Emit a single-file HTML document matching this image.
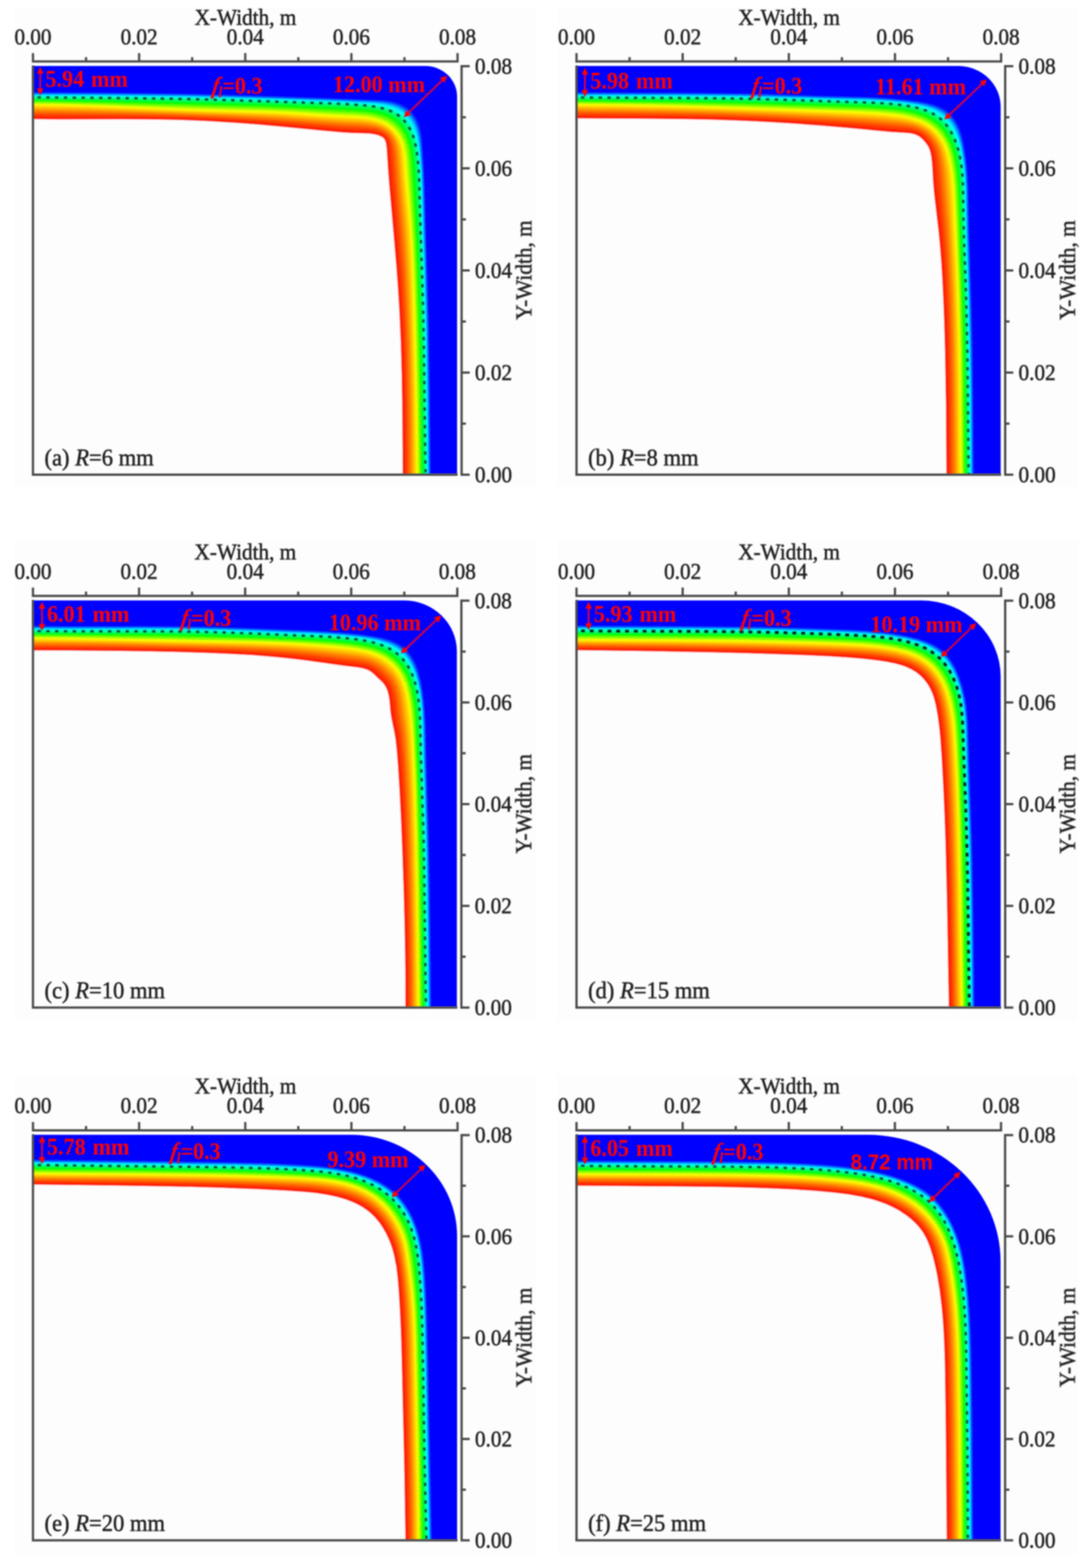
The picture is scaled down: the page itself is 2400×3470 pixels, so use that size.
<!DOCTYPE html>
<html lang="en"><head><meta charset="utf-8"><title>Solidified shell thickness for different corner radii</title>
<style>html,body{margin:0;padding:0;background:#fff}body{width:2400px;height:3470px;overflow:hidden}svg{display:block}text{white-space:pre}</style></head><body>
<svg width="2400" height="3470" viewBox="0 0 2400 3470">
<defs><filter id="bl" x="-5%" y="-5%" width="110%" height="110%" filterUnits="objectBoundingBox"><feGaussianBlur stdDeviation="1.6"/></filter>
<filter id="bt" x="-5%" y="-5%" width="110%" height="110%"><feGaussianBlur stdDeviation="1.5"/></filter>
<filter id="bd" x="-5%" y="-5%" width="110%" height="110%"><feGaussianBlur stdDeviation="1.7"/></filter></defs>
<rect width="2400" height="3470" fill="#ffffff"/>
<rect x="32" y="15" width="1156" height="1062" fill="#fdfdfd"/>
<rect x="1233" y="15" width="1153" height="1062" fill="#fdfdfd"/>
<rect x="32" y="1196" width="1156" height="1063" fill="#fdfdfd"/>
<rect x="1233" y="1196" width="1153" height="1063" fill="#fdfdfd"/>
<rect x="32" y="2378" width="1156" height="1062" fill="#fdfdfd"/>
<rect x="1233" y="2378" width="1153" height="1062" fill="#fdfdfd"/>
<g id="panel-a">
<clipPath id="ca"><path d="M73 146H941.6A70.4 67.8 0 0 1 1012 213.8V1049.6H73Z"/></clipPath>
<g filter="url(#bl)">
<path d="M73 146H941.6A70.4 67.8 0 0 1 1012 213.8V1049.6H73Z" fill="#0000ff"/>
<g clip-path="url(#ca)">
<path d="M65 204L65 203.7L90 203.8L247 204.8L340 206L425 207.5L570 211.5L701 215.9L782 219.1L838 220.8L851 221.6L862 222.9L872 224.9L880 227.1L888 230.2L895.5 234L902.9 239L908.7 244L913 248.5L916.6 253L920 258L922.9 263L925.7 269L928 274.9L931.4 287L933.6 299L935.1 313L939.2 380L940.9 421L943.2 506L948 659L949.9 731L952.1 866L954 1058L65 1058L65 204Z" fill="#0016ff"/>
<path d="M65 206L65 205.2L214 206L323 207.2L421 208.9L498 210.8L585 213.5L700 217.4L832 222.4L846 223.3L858 224.6L868 226.4L877 228.8L885.5 232L893.4 236L900 240.3L906.7 246L911 250.5L914.6 255L918 260L920.9 265L923.7 271L926 276.8L929.5 289L931.7 301L933.5 316L937.7 380L939.4 421L941.7 506L946.6 660L948.4 731L950.6 866L952.5 1058L65 1058L65 206Z" fill="#0042ff"/>
<path d="M65 207L65 206.7L96 206.8L251 207.8L345 209L431 210.6L512 212.7L608 215.7L714 219.4L824 223.8L840 224.8L852 226.1L863.7 228L873 230.3L882 233.5L890 237.4L897.3 242L904.5 248L908.3 252L912.4 257L915.8 262L918.7 267L923.6 278L925.7 284L927.5 291L930 303.8L931.8 319L936.2 381L937.9 421L940.2 506L945.1 660L946.9 731L949.1 866L951 1058L65 1058L65 207Z" fill="#0078ff"/>
<path d="M65 209L65 208.2L215 209L324 210.2L422 212L507 214.1L606 217.2L718 221.1L814 225.1L833 226.2L847 227.6L859 229.6L869 231.9L878.1 235L887 239.1L895 244.2L902 250L906 254.1L910 258.9L913.5 264L916.5 269L919.4 275L921.9 281L925.5 293L928.2 306L930.2 322L932.3 346L934.7 381L936.4 421L938.7 506L943.6 660L945.4 731L947.6 866L949.5 1058L65 1058L65 209Z" fill="#00aeff"/>
<path d="M65 210L65 209.7L96 209.8L251 210.8L344 212L430 213.6L517 215.9L620 219.1L723 222.8L807 226.4L826 227.6L841 229.1L854 231.1L865 233.6L875.3 237L884 241L892.1 246L900 252.6L904 256.7L907.6 261L911 265.8L914.1 271L919.3 282L921.5 288L923.5 295L926.3 308L928.7 325L931.1 352L933.2 381L934.9 421L937.2 506L942.1 660L943.9 731L946.1 866L948 1058L65 1058L65 210Z" fill="#00daff"/>
<path d="M65 212L65 211.2L214 212L323 213.2L421 214.9L509 217.1L609 220.3L721 224.2L800 227.7L820 228.9L836 230.6L850 232.7L862 235.6L872.3 239L882 243.5L890 248.6L897.7 255L902 259.5L905.7 264L912 273.6L914.8 279L917.4 285L920 292L921.7 298L924.6 311L927 327L929.5 352L931.7 381L933.4 421L935.7 506L940.5 659L942.4 731L944.6 866L946.5 1058L65 1058L65 212Z" fill="#00fff9"/>
<path d="M65 213L65 212.7L92 212.8L249 213.8L342 215L428 216.6L509 218.6L614 222L721 225.7L794 228.9L814 230.2L831 232L845 234.2L858 237.2L869.2 241L879 245.6L887.5 251L895.8 258L900 262.4L903.7 267L910 276.5L912.9 282L915.6 288L918 294.6L920 301.1L923 314.1L925.6 331L928 353L930.1 381L931.9 421L934.2 506L939 659L940.8 730L943.1 866L945 1058L65 1058L65 213Z" fill="#00ffcd"/>
<path d="M65 215L65 214.2L215 215L322 216.2L421 217.9L499 219.9L600.4 223L715.7 227L793 230.5L814 232L830 233.9L842.4 236L855 239.1L866.2 243L876 247.6L885 253.4L893 260.1L897 264.3L901 269L904.6 274L907.8 279L913.3 290L916 296.9L917.9 303L921.4 317L924.2 334L926.8 358L928.7 382L930.4 421L932.6 504L937.5 659L939.3 730L941.6 866L943.5 1058L65 1058L65 215Z" fill="#00ffa2"/>
<path d="M65 216L65 215.7L138 215.9L265 217L342 218L446 220L521 221.9L522 222.3L554 222.9L555 223.3L585 223.9L586 224.3L615 224.9L616 225.3L644 226L658 226.6L673 226.9L674 227.3L728 228.9L729 229.3L752 229.9L753 230.4L773 231L777 231.5L791 231.9L792 232.3L805 232.9L811 233.7L816 233.9L817 234.3L824.1 235L840.7 238L855 241.8L863.3 245L875 250.8L884 256.8L890 262.2L898.2 271L903 277.5L906 282.3L911 292L913 296.7L916 305.3L918.2 313L920 320.7L922.1 332L925 356L925.7 366L926.1 367L926.7 379L927.1 380L927.4 390L928 398L928.8 423L929 424L929.7 463L930.1 464L930.8 499L931.1 500L931.8 532L935 625L938.1 738L940 856L942.1 1058L65 1058L65 216Z" fill="#00ff76"/>
<path d="M65 218L65 217.7L116 218L235 219.1L337 220.7L439 222.9L532 225.4L618 228.1L712 231.8L789 235.3L809 236.8L824 238.6L838 241.1L850 244.3L861 248.2L871 253.1L880 259L888 265.8L892.1 270L896 274.7L899.9 280L903.1 285L908.6 296L911 302L913.3 309L916.8 323L919.3 338L921.6 358L923.5 383L925.6 424L930.6 568L933.1 646L934.9 713L937.6 862L939.6 1058L65 1058L65 218Z" fill="#00ff4a"/>
<path d="M65 220L65 219.7L126 220.1L235 221.6L345 223.7L481 227L561 229.3L628 231.6L789 238.8L808 240.2L823 242.1L836 244.5L848 247.6L859 251.6L869 256.5L877.3 262L885 268.5L889 272.6L893 277.3L896.5 282L900 287.5L905.4 298L910 310.6L913.3 324L915.8 339L917.9 358L919.9 384L922.3 429L926.7 533L929.6 616L931.9 694L933.7 773L935.1 857L937.3 1058L65 1058L65 220Z" fill="#00ff1f"/>
<path d="M65 222L65 221.7L128 222.2L228 223.8L326 226.1L533 231.5L639 235.1L790 242.4L807 243.7L822 245.5L835 248L846 250.9L857 255L866 259.4L874.6 265L882 271.2L886 275.3L890 279.9L893.7 285L896.9 290L900 295.6L902.5 301L906.9 313L909.9 325L912.4 340L914.3 358L916.3 385L919.5 440L923.5 523L926.4 596L928.8 673L930.9 759L932.6 851L933.9 949L934.9 1058L65 1058L65 222Z" fill="#11ff00"/>
<path d="M65 224L65 223.8L70 223.8L124 224.3L213 225.9L560 235.3L641 238.3L791 245.9L807 247.2L821 249L834 251.5L845 254.6L855 258.3L864.3 263L872 268L880 274.9L884 279L888.1 284L891.7 289L895 294.4L897.9 300L900.5 306L904.5 318L907.4 331L909.5 346L911 363L913.6 399L918.1 471L920.9 525L923.6 589L925.9 660L928.3 753L930.2 850L931.6 951L932.5 1058L65 1058L65 224Z" fill="#49ff00"/>
<path d="M65 226L74 225.8L120 226.3L200 227.9L424 234.7L575 238.8L642 241.5L733 246.7L791 249.4L807 250.7L820 252.5L832 254.8L843 257.9L853 261.7L862 266.2L870 271.6L877 277.6L882 282.8L886.2 288L890.2 294L893.6 300L896.5 306L899.2 313L901.3 320L903.1 328L905.1 340L906.8 356L914.5 464L917.5 513L920.1 566L922.3 625L924.4 697L926.5 785L928.1 875L929.4 966L930.2 1058L65 1058L65 226Z" fill="#81ff00"/>
<path d="M65 228L117 228.3L189 229.9L419 237.6L584 242.1L642 244.6L733 250.2L791 252.9L806 254.2L819 255.9L830 258.1L841 261.2L851 265L859 269.1L867 274.3L874 280.3L879 285.5L883.4 291L887.5 297L890.9 303L893.7 309L896.3 316L898.3 323L900.1 331L901.7 341L903 354L913 485L915.7 530L918.1 580L920.1 636L922.2 710L924.3 799L925.9 886L927.1 973L927.8 1058L65 1058L65 228Z" fill="#b9ff00"/>
<path d="M65 230L115 230.4L181 231.9L243 234L416 240.6L592 245.4L641 247.6L732 253.6L792 256.5L807 257.8L819 259.5L830 261.8L840 264.8L849 268.3L857.9 273L865 277.9L872 284L876.7 289L880.7 294L884.8 300L888 305.8L890.9 312L893.1 318L895.3 326L896.8 333L898.2 342L899.3 353L902.5 397L908.6 467L911.2 501L913.8 544L916 592L917.8 645L920 724.2L922.1 812L923.7 897L924.8 979L925.4 1058L65 1058L65 230Z" fill="#f0ff00"/>
<path d="M65 232L82 232L140 232.9L176 234L256 236.9L279 237.9L280 238.1L302 238.8L303 239.2L326 239.8L327 240.2L349 240.8L350 241.2L373 241.8L374 242.2L399 242.8L400 243.1L428 243.8L429 244.2L578 247.9L579 248.1L605 248.9L645 250.9L646 251.2L674 252.8L675 253.2L701 254.9L702 255.2L715 255.8L716 256.2L730 256.8L731 257.2L792 259.9L793 260.2L803 260.9L818 262.9L827 264.8L840 268.7L847 271.6L855 275.8L862 280.6L868.4 286L873.2 291L878.3 297L882.2 303L885.4 309L888.1 315L891.2 324L894.1 338L895.1 346L895.8 357L896.1 358L897.9 387L903.8 451L904.1 452L904.8 461L905.1 462L907.8 496L908.1 497L908.7 509L909.1 510L912 561L914 607L916.1 670L917.8 744L918.1 745L921.1 883L922 946L923.1 1058L65 1058L65 232Z" fill="#ffee00"/>
<path d="M65 234L119 234.5L184 236.2L247 238.4L416.4 245L586 250.1L644 252.9L736 259.5L793 262.3L806 263.4L818 265.1L828 267.2L838 270.1L847 273.7L854 277.4L861 282.1L867.9 288L872.6 293L876.5 298L879.8 303L883.1 309L885.8 315L887.9 321L889.5 327L891.1 335L893.1 351L896.2 395L903.8 475L907 517L909.6 559L911.8 608L913.8 665L916.1 748L919.4 906L920.5 983L921.1 1058L65 1058L65 234Z" fill="#ffdc00"/>
<path d="M65 236L126 236.7L198 238.5L418 246.5L575 251.4L634 254.3L733 261.5L794 264.6L807 265.7L818 267.2L828 269.2L837 271.8L845 274.9L853 278.9L860 283.5L866.4 289L870.2 293L874.3 298L877.6 303L880.9 309L883.5 315L885.6 321L887.4 328L888.7 335L890.5 350L893.9 397L901.4 477L904.9 521L907.5 565L909.8 614L912 675L914.2 753L917.4 904L919.1 1058L65 1058L65 236Z" fill="#ffca00"/>
<path d="M65 238L149 239.2L246 241.8L552 252.3L599 254.3L640 256.7L734 263.7L797 267L816 269L824 270.4L831 272.1L838 274.2L844 276.5L850 279.3L855 282.2L860 285.7L865 290.1L869 294.3L872.7 299L876 304L878.6 309L881.2 315L883.2 321L885 328L886.3 335L888.1 350L891.4 396L899.1 479L902.8 527L905.5 572L907.9 623L910.2 686L912.4 758L914.1 830L915.4 903L917.1 1058L65 1058L65 238Z" fill="#ffb900"/>
<path d="M65 241L65 240L115 240.6L180 241.8L251 243.7L531 253.2L584 255.4L629 257.9L736 266L799 269.4L816 271.1L824 272.5L831 274.1L838 276.2L844 278.5L850 281.4L855 284.3L860 288L864 291.5L868 295.8L871.2 300L874.3 305L876.9 310L879.3 316L881.2 322L883.9 335L885.7 351L889.9 407L897.2 486L900.9 535L903.7 582L906.1 633L908.5 696L910.6 764L912.2 832L913.5 903L915.1 1058L65 1058L65 241Z" fill="#ffa700"/>
<path d="M65 243L65 242.1L128 242.8L200 244.2L280 246.2L510 254L567 256.4L615 259L654 261.7L733 268L757 269.5L798 271.5L815 273.1L823 274.4L830 275.9L836 277.6L842 279.7L848 282.4L853 285.2L858 288.6L862 292L865.8 296L869 300L872.1 305L874.7 310L877.1 316L878.9 322L881.6 335L883.3 351L887.3 406L895.1 490L899 542L901.9 590L904.3 642L906.7 704L908.7 768L910.3 833L911.5 902L913.1 1058L65 1058L65 243Z" fill="#ff9500"/>
<path d="M65 245L65 244.1L140 245L221 246.5L307 248.6L397 251.4L493 254.9L552 257.4L603 260.2L650 263.4L736 270.3L759 271.8L800 273.9L816 275.4L830 277.9L836 279.6L842 281.7L848 284.4L852.6 287L857 290.1L861 293.5L864.4 297L867.4 301L870 305L872.5 310L874.8 316L876.6 322L879.2 335L880.8 351L884.9 406L893 495L897.3 553L900.2 601L902.7 654L905 713L906.9 774L908.4 836L909.5 903L911.1 1058L65 1058L65 245Z" fill="#ff8400"/>
<path d="M65 247L65 246.1L150 247.1L239 248.6L325 250.7L401 253L477 255.7L537 258.4L589 261.2L644 264.9L739 272.7L763 274.3L801 276.1L816 277.5L830 280L836 281.6L842 283.8L847 286L852 288.8L856 291.5L860 294.9L863 298.1L865.9 302L868.3 306L870.7 311L872.9 317L874.6 323L876.9 336L878.3 350L882.4 405L891 501L895.8 566L898.6 615L901.1 667L903.3 722L905.1 780L907.6 903L909.1 1058L65 1058L65 247Z" fill="#ff7500"/>
<path d="M65 249L65 248.2L157 249.2L249 250.6L332 252.4L398 254.3L461 256.6L519 259.1L571 261.9L637 266.4L743 275.2L767 276.7L803 278.4L816 279.6L829 281.8L835 283.3L841 285.4L846 287.5L851 290.2L855 293L858.6 296L861.4 299L864.4 303L866.7 307L868.6 311L870.4 316L872.1 322L874.4 335L875.9 350L880 406L889.1 507L894.2 578L897.1 627L899.5 678L901.6 730L903.3 785L905.6 904L907.1 1058L65 1058L65 249Z" fill="#ff6600"/>
<path d="M65 251L65 250.2L164 251.2L257 252.4L334 253.9L391 255.5L445 257.4L499 259.7L550 262.4L628 267.7L747 277.7L771 279.2L804 280.7L816 281.7L829 283.8L840 287L845 289.1L850 291.7L854 294.4L857.1 297L860 300L862.2 303L864.6 307L866.4 311L868.2 316L869.8 322L872 335L873.4 349L877.5 406L887.2 515L892.8 592L895.6 640L897.9 689L899.9 739L901.5 791L903.7 905L905.1 1058L65 1058L65 251Z" fill="#ff5700"/>
<path d="M65 253L65 252.2L238 253.9L334 255.5L386 256.8L435 258.4L484 260.5L531 263L576 265.8L620 269L750 280.1L774 281.6L805 282.9L816 283.8L829 285.8L840 289L845 291.1L849 293.2L853 295.8L856 298.4L858.5 301L860.7 304L863 308L864.7 312L867.8 323L869.7 335L875 405L885.6 525L891.6 610L894.2 656L896.4 702L898.2 749L899.7 799L901.7 907L903.1 1058L65 1058L65 253Z" fill="#ff4700"/>
<path d="M65 255L65 254.3L250 255.8L333 256.9L381 258.1L426 259.5L470 261.3L514 263.6L562 266.6L610 270.1L752 282.4L777 284L807 285.2L817 286L829 287.9L835 289.4L840 291L844 292.6L848.6 295L852 297.3L855 299.8L857.1 302L859.3 305L860.9 308L862.6 312L864.2 317L865.5 323L867.3 335L872.5 405L884.1 537L887.5 583L890.5 628L893 672L894.9 715L897.9 807L899.8 910L901.1 1058L65 1058L65 255Z" fill="#ff3a00"/>
<path d="M65 257L65 256.3L261 257.6L331 258.4L417 260.6L457 262.2L497 264.2L548 267.4L601 271.3L754 284.8L776 286.2L806 287.3L817 288L829 289.9L839 292.6L847 296.2L851 298.7L853.7 301L856 303.5L857.8 306L859.3 309L860.9 313L863.3 323L864.9 334L870.2 406L882.7 549L886.2 597L889.2 643L893.3 725L896.2 814L897.8 912L899.1 1058L65 1058L65 257Z" fill="#ff3000"/>
<path d="M65 259L65 258.4L129 258.9L270 259.3L330 259.9L410 261.8L446 263.1L483 264.9L536 268.2L591 272.4L757 287.2L778 288.5L807 289.5L818 290.2L829 291.9L838 294.3L846 297.6L849.8 300L852.2 302L854.1 304L856.3 307L858.8 313L860.9 322L862.4 333L867.7 406L877 510.3L881.3 562L884.9 610L887.8 656L891.7 734L894.3 820L895.9 913L897 1058L65 1058L65 259Z" fill="#ff2600"/>
<path d="M65 261L65 260.4L125 260.9L265 261L329 261.4L405 263L473 265.9L525 269.1L582 273.4L757 289.4L779 290.8L808 291.7L819 292.4L829 293.9L838 296.2L845 299.1L848 300.9L851 303.2L854.2 307L856.5 312L858.3 319L859.9 331L865.4 408L875.3 519L880 576L883.6 624L886.5 669L890.1 744L892.5 826L893.9 915L895 1058L65 1058L65 261Z" fill="#ff1d00"/>
<path d="M65 265L65 264L131 264.5L267 264.3L324 264.5L397 265.8L430 266.9L463 268.4L516 271.7L570 275.8L619 280.2L720.3 290L759 293.4L781 294.8L809 295.4L819 296L829 297.5L837 299.6L844 302.4L847 304.3L849 305.9L851.4 309L853.5 314L854.9 321L855.9 329L858.8 374L861.5 409L872.4 532L877.4 592L880.8 638L883.6 683L886.9 754L889.1 832L890.4 916L891.4 1058L65 1058L65 265Z" fill="#fdfdfd"/>
</g></g>
<g filter="url(#bd)" clip-path="url(#ca)"><path d="M72.9 215.5L76.9 215.5L80.9 215.5L84.9 215.6L89 215.6L93 215.6L97 215.7L101 215.7L105 215.7L109 215.7L113 215.8L117.1 215.8L121.1 215.8L125.1 215.9L129.1 215.9L133.1 215.9L137.1 216L141.1 216L145.1 216L149.1 216.1L153.1 216.1L157.1 216.1L161.2 216.2L165.2 216.2L169.2 216.2L173.2 216.2L177.2 216.3L181.2 216.3L185.2 216.3L189.2 216.4L193.2 216.4L197.2 216.4L201.2 216.5L205.2 216.5L209.2 216.5L213.2 216.6L217.2 216.6L221.2 216.6L225.2 216.7L229.2 216.7L233.2 216.7L237.2 216.8L241.2 216.8L245.2 216.9L249.2 216.9L253.2 216.9L257.2 217L261.2 217L265.2 217.1L269.2 217.1L273.2 217.1L277.2 217.2L281.2 217.2L285.2 217.3L289.2 217.3L293.2 217.4L297.2 217.4L301.2 217.4L305.2 217.5L309.2 217.5L313.2 217.6L317.2 217.6L321.2 217.7L325.2 217.7L329.2 217.8L333.2 217.9L337.2 217.9L341.2 218L345.2 218L349.2 218.1L353.2 218.1L357.2 218.2L361.2 218.3L365.2 218.3L369.2 218.4L373.2 218.5L377.2 218.5L381.2 218.6L385.2 218.7L389.2 218.7L393.2 218.8L397.2 218.9L401.2 219L405.2 219L409.2 219.1L413.2 219.2L417.2 219.3L421.2 219.4L425.2 219.5L429.2 219.5L433.2 219.6L437.3 219.7L441.3 219.8L445.3 219.9L449.3 220L453.3 220.1L457.3 220.2L461.3 220.3L465.3 220.4L469.3 220.5L473.3 220.6L477.3 220.7L481.3 220.8L485.4 220.9L489.4 221L493.4 221.1L497.4 221.3L501.4 221.4L505.4 221.5L509.4 221.6L513.4 221.7L517.5 221.9L521.5 222L525.5 222.1L529.5 222.2L533.5 222.4L537.5 222.5L541.5 222.6L545.5 222.8L549.6 222.9L553.6 223L557.6 223.2L561.6 223.3L565.6 223.4L569.6 223.6L573.6 223.7L577.6 223.8L581.6 224L585.6 224.1L589.6 224.2L593.6 224.4L597.7 224.5L601.7 224.7L605.7 224.8L609.7 224.9L613.7 225.1L617.7 225.2L621.6 225.3L625.6 225.5L629.6 225.6L633.6 225.7L637.6 225.9L641.6 226L645.6 226.1L649.6 226.3L653.6 226.4L657.5 226.5L661.5 226.7L665.5 226.8L669.5 226.9L673.4 227.1L677.4 227.2L681.4 227.3L685.3 227.4L689.3 227.5L693.3 227.7L697.2 227.8L701.2 227.9L705.1 228L709.1 228.1L713.1 228.3L717 228.4L721 228.5L725 228.6L728.9 228.8L732.9 228.9L736.9 229.1L740.9 229.2L744.9 229.4L748.9 229.6L752.9 229.7L757 229.9L761 230.1L765 230.3L769.1 230.5L773.2 230.8L777.3 231L781.4 231.3L785.5 231.5L789.6 231.8L793.8 232.1L797.9 232.4L802.1 232.8L806.2 233.1L810.4 233.5L814.6 234L818.7 234.5L822.8 235L826.9 235.6L831 236.3L835 237L839 237.8L842.9 238.7L846.8 239.7L850.7 240.8L854.5 241.9L858.2 243.2L861.8 244.5L865.4 246L868.8 247.6L872.2 249.3L875.5 251.2L878.7 253.1L881.8 255.3L884.8 257.5L887.7 259.9L890.5 262.4L893.1 265.1L895.7 267.9L898.1 270.8L900.4 273.8L902.6 276.9L904.7 280.2L906.7 283.5L908.5 286.9L910.3 290.4L911.9 294L913.4 297.7L914.7 301.4L916 305.2L917.2 309L918.2 312.9L919.2 316.9L920.1 320.9L920.9 324.9L921.6 328.9L922.3 333L922.9 337L923.5 341.1L924 345.2L924.5 349.2L924.9 353.3L925.4 357.4L925.8 361.4L926.1 365.5L926.4 369.5L926.8 373.5L927 377.6L927.3 381.6L927.5 385.6L927.7 389.6L927.9 393.6L928.1 397.7L928.3 401.7L928.4 405.7L928.5 409.7L928.6 413.7L928.8 417.7L928.9 421.7L929 425.7L929.1 429.7L929.1 433.7L929.2 437.7L929.3 441.7L929.4 445.7L929.5 449.7L929.6 453.7L929.7 457.7L929.8 461.7L929.9 465.7L930 469.6L930.1 473.6L930.2 477.6L930.3 481.6L930.4 485.6L930.6 489.6L930.7 493.6L930.8 497.6L930.9 501.6L931 505.6L931.2 509.6L931.3 513.6L931.4 517.6L931.6 521.6L931.7 525.6L931.8 529.6L932 533.6L932.1 537.6L932.3 541.6L932.4 545.6L932.5 549.6L932.7 553.6L932.8 557.6L933 561.6L933.1 565.6L933.2 569.6L933.4 573.6L933.5 577.6L933.7 581.6L933.8 585.6L934 589.6L934.1 593.6L934.2 597.6L934.4 601.6L934.5 605.6L934.6 609.6L934.8 613.6L934.9 617.6L935 621.6L935.2 625.6L935.3 629.6L935.4 633.6L935.6 637.6L935.7 641.6L935.8 645.6L935.9 649.6L936 653.6L936.1 657.6L936.3 661.6L936.4 665.6L936.5 669.6L936.6 673.6L936.7 677.6L936.8 681.6L936.9 685.6L937 689.7L937.1 693.7L937.2 697.7L937.3 701.7L937.3 705.7L937.4 709.7L937.5 713.7L937.6 717.7L937.7 721.7L937.8 725.7L937.8 729.7L937.9 733.7L938 737.7L938.1 741.7L938.1 745.7L938.2 749.7L938.3 753.7L938.4 757.7L938.4 761.7L938.5 765.7L938.6 769.7L938.6 773.7L938.7 777.7L938.7 781.7L938.8 785.7L938.9 789.7L938.9 793.8L939 797.8L939 801.8L939.1 805.8L939.1 809.8L939.2 813.8L939.3 817.8L939.3 821.8L939.4 825.8L939.4 829.8L939.5 833.8L939.5 837.8L939.6 841.8L939.6 845.8L939.7 849.8L939.7 853.8L939.8 857.8L939.8 861.8L939.8 865.8L939.9 869.8L939.9 873.8L940 877.8L940 881.8L940.1 885.9L940.1 889.9L940.2 893.9L940.2 897.9L940.3 901.9L940.3 905.9L940.4 909.9L940.4 913.9L940.4 917.9L940.5 921.9L940.5 925.9L940.6 929.9L940.6 933.9L940.7 937.9L940.7 941.9L940.8 945.9L940.8 949.9L940.9 953.9L940.9 957.9L941 961.9L941 965.9L941.1 969.9L941.1 973.9L941.2 977.9L941.2 981.9L941.3 985.9L941.3 989.9L941.4 993.9L941.4 997.9L941.5 1002L941.6 1006L941.6 1010L941.7 1014L941.7 1018L941.8 1022L941.9 1026L941.9 1030L942 1034L942.1 1038L942.1 1042L942.2 1046L942.3 1050" fill="none" stroke="#005248" stroke-width="5.4" stroke-dasharray="7.5 12" stroke-dashoffset="-10"/></g>
<g filter="url(#bt)">
<path d="M89 160L89 199" stroke="#d8003a" stroke-width="4.2" fill="none"/><path d="M89 148L96.5 163L81.5 163ZM89 211L81.5 196L96.5 196Z" fill="#ff0000"/>
<path d="M902.7 251.2L981.3 175.8" stroke="#d8003a" stroke-width="4.2" fill="none"/><path d="M894 259.5L899.6 243.7L910 254.5ZM990 167.5L984.4 183.3L974 172.5Z" fill="#ff0000"/>
</g>
<g filter="url(#bt)">
<path d="M70.5 136.1H1015.5M73 145V1050.4H1013M1022 144.1V1052.9M73 136.1V117.6M1022 146.6H1040M190.5 136.1V126.6M1022 259.6H1031.5M308 136.1V117.6M1022 372.5H1040M425.5 136.1V126.6M1022 485.5H1031.5M543 136.1V117.6M1022 598.5H1040M660.5 136.1V126.6M1022 711.5H1031.5M778 136.1V117.6M1022 824.4H1040M895.5 136.1V126.6M1022 937.4H1031.5M1013 136.1V117.6M1022 1050.4H1040" fill="none" stroke="#4a4a4a" stroke-width="5.0"/>
<g font-family="'Liberation Serif', 'Times New Roman', Times, serif" font-size="47" fill="#242424" stroke="#242424" stroke-width="1.0">
<text transform="translate(543.5 55) scale(1 1.07)" text-anchor="middle">X-Width, m</text>
<text transform="translate(73 98) scale(1 1.07)" text-anchor="middle">0.00</text>
<text transform="translate(1051.5 163.1) scale(1 1.07)">0.08</text>
<text transform="translate(308 98) scale(1 1.07)" text-anchor="middle">0.02</text>
<text transform="translate(1051.5 389) scale(1 1.07)">0.06</text>
<text transform="translate(543 98) scale(1 1.07)" text-anchor="middle">0.04</text>
<text transform="translate(1051.5 615) scale(1 1.07)">0.04</text>
<text transform="translate(778 98) scale(1 1.07)" text-anchor="middle">0.06</text>
<text transform="translate(1051.5 840.9) scale(1 1.07)">0.02</text>
<text transform="translate(1013 98) scale(1 1.07)" text-anchor="middle">0.08</text>
<text transform="translate(1051.5 1066.9) scale(1 1.07)">0.00</text>
<text transform="translate(1176.5 597.8) rotate(-90) scale(1 1.07)" text-anchor="middle">Y-Width, m</text>
<text transform="translate(98.5 1029.6) scale(1 1.07)" font-size="50">(a) <tspan font-style="italic">R</tspan>=6 mm</text>
</g>
<g font-family="'Liberation Serif', 'Times New Roman', Times, serif" font-size="49" font-weight="bold" fill="#ff0000">
<text transform="translate(100.5 192) scale(1 1.09)" word-spacing="3">5.94 mm</text>
<text transform="translate(467.5 206.5) skewX(-9) scale(1 1.09)" font-style="italic">f</text>
<text transform="translate(483.5 215) scale(1 1.09)" font-style="italic" font-size="31.4">l</text>
<text transform="translate(492 206.5) scale(1 1.09)">=0.3</text>
<text transform="translate(737 203.5) scale(1 1.09)">12.00 mm</text>
</g>
</g>
</g>
<g id="panel-b">
<clipPath id="cb"><path d="M1276.4 146H2121.6A93.9 90.4 0 0 1 2215.5 236.4V1049.6H1276.4Z"/></clipPath>
<g filter="url(#bl)">
<path d="M1276.4 146H2121.6A93.9 90.4 0 0 1 2215.5 236.4V1049.6H1276.4Z" fill="#0000ff"/>
<g clip-path="url(#cb)">
<path d="M1268.4 204L1510.4 204.8L1618.4 205.9L1700.4 207.9L1833.4 212.2L1915.4 214.3L1947.4 215.7L1977.4 217.9L2012.4 221.4L2038.4 224.7L2056.4 228L2070.8 232L2077.4 234.5L2083.4 237.1L2088.8 240L2094.4 243.6L2099 247L2103.5 251L2107.4 255L2111.6 260L2115.4 265.3L2118.8 271L2121.9 277L2124.5 283L2127.1 290L2129.4 297.6L2133.7 316L2137.4 338.6L2140.8 366L2143 391L2144.2 419L2146.1 511L2151.1 667L2153.1 747L2155 868L2156.5 1058L1268.4 1058L1268.4 204Z" fill="#0016ff"/>
<path d="M1268.4 206L1268.4 205.4L1484.4 206.2L1553.4 206.6L1613.4 207.4L1698.4 209.3L1833.4 213.7L1915.4 215.8L1947.4 217.2L1977.4 219.4L2010.4 222.8L2035.4 226.1L2054.4 229.8L2062.4 231.8L2069.3 234L2075.4 236.3L2081.5 239L2087 242L2092.4 245.4L2097.2 249L2101.7 253L2105.6 257L2109.4 261.5L2113.4 267L2116.5 272L2119.4 277.5L2122.4 284.1L2125.1 291L2127.4 298.3L2131.8 316L2135.6 338L2139.2 365L2141.4 390.1L2142.8 420L2144.6 511L2149.6 667L2151.6 747L2153.5 868L2155 1058L1268.4 1058L1268.4 206Z" fill="#0042ff"/>
<path d="M1268.4 207L1510.4 207.8L1618.4 208.9L1700.4 210.9L1833.4 215.2L1915.4 217.3L1947.4 218.7L1977.4 220.9L2007.1 224L2032.4 227.5L2051.4 231.3L2066.4 235.5L2073 238L2079.4 240.9L2085.1 244L2090.4 247.4L2095.2 251L2099.7 255L2104.4 259.8L2108.4 264.7L2112.1 270L2115.4 275.4L2118.4 281.2L2121.4 288L2126.2 302L2130.5 319L2134.4 340.8L2137.7 366L2139.9 391L2141.3 420L2143.1 511L2148.1 667L2150.1 747L2152 868L2153.5 1058L1268.4 1058L1268.4 207Z" fill="#0078ff"/>
<path d="M1268.4 209L1268.4 208.4L1484.4 209.2L1553.4 209.6L1613.4 210.4L1699.4 212.4L1832.4 216.7L1915.4 218.8L1947.4 220.2L1977.4 222.4L2006.4 225.6L2030.4 229.1L2049.4 233L2064.4 237.4L2071.1 240L2077.4 242.9L2083.1 246L2087.8 249L2093.1 253L2097.6 257L2101.6 261L2105.8 266L2109.5 271L2113.2 277L2116.4 283L2119.4 289.5L2124.4 303.4L2129 321L2132.9 342L2136.3 367L2138.4 391L2139.8 420L2141.6 511L2146.6 667L2148.6 747L2150.5 868L2152 1058L1268.4 1058L1268.4 209Z" fill="#00aeff"/>
<path d="M1268.4 210L1510.4 210.8L1619.4 212L1701.4 213.9L1832.4 218.2L1915.4 220.3L1949.4 221.8L1977.4 224L2005.4 227.1L2028.4 230.6L2047.4 234.7L2062.4 239.3L2069.1 242L2075.5 245L2081.4 248.3L2086.9 252L2092.1 256L2096.4 259.9L2101.2 265L2105.2 270L2108.7 275L2112.3 281L2115.4 286.9L2118.4 293.5L2123.4 307.6L2127.7 324L2131.7 345L2134.9 368L2136.9 391L2138.3 420L2140.1 511L2145.1 667L2147.1 747L2149 868L2150.5 1058L1268.4 1058L1268.4 210Z" fill="#00daff"/>
<path d="M1268.4 212L1268.4 211.4L1485.4 212.2L1554.4 212.6L1614.4 213.4L1699.4 215.4L1832.4 219.7L1915.4 221.8L1948.4 223.3L1976.4 225.4L2003.4 228.4L2025.4 231.9L2043.4 235.9L2051.4 238.2L2059.4 240.9L2066.4 243.7L2072.4 246.6L2078.4 249.9L2083.4 253.1L2088.5 257L2093.4 261.3L2098 266L2102.2 271L2105.9 276L2109.4 281.5L2112.5 287L2115.9 294L2118.8 301L2121.4 308.5L2126 325L2129.9 344L2133.1 366L2135.3 390L2136.8 420L2138.6 511L2143.6 667L2145.6 746L2147.5 868L2149 1058L1268.4 1058L1268.4 212Z" fill="#00fff9"/>
<path d="M1268.4 213L1511.4 213.8L1620.4 215L1688.4 216.5L1832.4 221.2L1912.4 223.2L1950.4 224.9L1978.4 227.1L2002.9 230L2023.4 233.4L2041.4 237.6L2056.4 242.4L2062.7 245L2069.4 248.2L2075.4 251.5L2080.8 255L2086.1 259L2091.4 263.7L2096.4 268.8L2100.4 273.6L2104.4 279L2108.4 285.3L2112.1 292L2114.9 298L2120.3 312L2124.8 328L2128.7 347L2131.8 368L2133.9 391L2135.3 420L2137.1 511L2142.1 666L2144.1 746L2145.9 868L2147.5 1058L1268.4 1058L1268.4 213Z" fill="#00ffcd"/>
<path d="M1268.4 215L1268.4 214.4L1485.4 215.2L1555.4 215.6L1615.4 216.4L1702.4 218.4L1831.4 222.6L1916.4 224.9L1951.4 226.5L1976.4 228.5L2002.4 231.6L2022.1 235L2039.4 239.3L2048.1 242L2056 245L2068.4 250.8L2074.4 254.4L2079.4 257.7L2084.4 261.6L2089.4 266.1L2094.2 271L2098.4 275.9L2102.4 281.3L2106.4 287.4L2109.6 293L2113.4 300.7L2119 315L2123.6 331L2127.4 349.1L2130.4 369.7L2132.4 391L2133.8 420L2135.6 512L2140.6 666L2142.6 746L2144.4 867L2146 1058L1268.4 1058L1268.4 215Z" fill="#00ffa2"/>
<path d="M1268.4 216L1541.4 217L1621.4 218L1703.4 220L1842.4 224.6L1903.4 225.9L1904.4 226.3L1932.4 226.9L1933.4 227.3L1951.4 227.9L1952.4 228.3L1964.4 228.9L1993.4 231.9L2012.4 234.9L2022.4 236.9L2034.4 239.9L2046.4 243.9L2056.4 247.9L2062.4 250.8L2074.4 257.8L2082.4 263.8L2086.9 268L2091.4 272.6L2096.4 278.3L2101.6 285L2104.4 289.5L2107.7 295L2111.4 302.3L2114.5 309L2117.5 317L2121.5 330L2123 337L2123.5 338L2125.1 347L2125.5 348L2126 352L2126.5 353L2127.1 359L2127.5 360L2128.1 366L2128.5 367L2130.4 385L2131.4 400L2132.5 426L2133.1 482L2133.5 483L2134.1 521L2134.5 522L2135.1 554L2135.5 555L2136.2 584L2136.5 585L2137.2 613L2137.5 614L2138.5 644L2141.4 761.2L2142.4 823L2143.3 914L2143.5 915L2144.5 1058L1268.4 1058L1268.4 216Z" fill="#00ff76"/>
<path d="M1268.4 218L1499.4 219.1L1619.4 220.6L1691.4 222.4L1832.4 227L1907.4 229L1950.4 231L1976.4 233.1L1998.4 235.8L2017.4 239.2L2034.4 243.4L2049.4 248.6L2062.4 254.7L2068.4 258.2L2074.4 262.2L2079.4 266.1L2085 271L2089.8 276L2094.1 281L2098.4 286.7L2102 292L2105.5 298L2109.1 305L2114.4 318L2119.3 334L2123.2 352L2126.1 372L2128.1 393L2129.7 424L2131.6 509L2136.7 662L2138.7 740L2140.7 865L2142.3 1058L1268.4 1058L1268.4 218Z" fill="#00ff4a"/>
<path d="M1268.4 220L1485.4 221.4L1616.4 223.3L1693.4 225.2L1903.4 231.9L1948.4 233.9L1974.4 236.1L1997.4 238.9L2016.4 242.2L2032.4 246.3L2047.4 251.5L2060.4 257.5L2066.4 261L2072.3 265L2077.4 269L2082.4 273.4L2086.9 278L2091.4 283.2L2095.8 289L2099.8 295L2106.4 307.1L2112.1 321L2116.6 336L2120.4 353.9L2123.4 374L2125.5 396L2127.1 429L2129.1 506L2134.3 657L2136.4 735L2138.4 861L2140.1 1058L1268.4 1058L1268.4 220Z" fill="#00ff1f"/>
<path d="M1268.4 222L1469.4 223.6L1613.4 225.9L1696.4 228.1L1897.4 234.6L1924.4 235.6L1947.4 236.9L1973.4 239.1L1995.4 241.7L2014.4 245.1L2030.4 249.1L2045.4 254.3L2052.4 257.4L2058.4 260.4L2064.6 264L2070.4 267.9L2075.4 271.9L2080.4 276.3L2084.9 281L2089.4 286.2L2093.4 291.5L2097.4 297.5L2101.1 304L2104.1 310L2107.1 317L2109.7 324L2114.3 340L2117.9 357L2120.8 377L2122.9 400L2124.6 434L2126.9 513L2132.2 661L2134.1 731L2136.2 859L2137.9 1058L1268.4 1058L1268.4 222Z" fill="#11ff00"/>
<path d="M1268.4 224L1452.4 225.7L1533.4 226.9L1607.4 228.4L1698.4 230.9L1891.4 237.3L1921.4 238.5L1945.4 239.9L1971.4 242L1993.4 244.6L2012.4 248L2028.5 252L2043.4 257.1L2050.4 260.2L2056.4 263.2L2062.4 266.7L2067.4 270.1L2072.5 274L2078.1 279L2083 284L2087.2 289L2091.4 294.6L2094.9 300L2101.4 312L2104.4 319L2107 326L2111.6 342L2115.1 359L2118.1 380L2120.3 403L2122.2 440L2124.5 511L2129.6 652L2131.7 727L2133.9 856L2135.7 1058L1268.4 1058L1268.4 224Z" fill="#49ff00"/>
<path d="M1268.4 226L1343.4 226.5L1437.4 227.7L1520.4 229.1L1601.4 230.9L1702.4 233.8L1884.4 239.9L1917.4 241.3L1944.4 242.8L1971.4 245.1L1993.4 247.8L2011.4 251L2027.4 255.1L2035.4 257.7L2042.4 260.4L2049.4 263.5L2055.4 266.6L2061.1 270L2066.4 273.7L2071.4 277.7L2076.2 282L2081 287L2085.2 292L2089.4 297.7L2092.8 303L2096.2 309L2099.4 315.5L2104.7 329L2108.9 344L2112.6 362L2115.5 383L2117.8 407L2119.6 441L2126.1 617L2129.4 724L2131.7 854L2133.5 1058L1268.4 1058L1268.4 226Z" fill="#81ff00"/>
<path d="M1268.4 228L1334.4 228.5L1421.4 229.7L1504.4 231.3L1589.4 233.3L1705.4 236.7L1873.4 242.4L1911.4 243.9L1941.4 245.7L1969.4 248L1990.4 250.5L2008.4 253.7L2024.4 257.6L2039.4 262.8L2046.4 265.8L2052.4 268.9L2058.4 272.4L2063.6 276L2068.4 279.7L2073.4 284.2L2078.1 289L2082.4 294.1L2086.8 300L2090.4 305.5L2094 312L2096.9 318L2102 331L2106.2 346L2109.8 364L2112.9 386L2115.2 410L2117.2 445L2123.3 603L2125.5 665L2127.1 721L2128.4 783L2129.4 852L2131.3 1058L1268.4 1058L1268.4 228Z" fill="#b9ff00"/>
<path d="M1268.4 230L1328.4 230.5L1409.4 231.7L1489.4 233.3L1575.4 235.5L1699.4 239.3L1863.4 244.9L1907.4 246.7L1940.4 248.7L1967.4 250.9L1989.4 253.6L2007.4 256.7L2023.4 260.7L2037.4 265.6L2044.4 268.7L2050.4 271.7L2056.4 275.3L2061.4 278.7L2066.4 282.6L2071.4 287.1L2076.1 292L2080.3 297L2084.4 302.5L2088.4 308.7L2094.4 320.3L2099.6 334L2104 350L2107.5 368L2110.6 391L2112.8 415L2114.8 450L2120.6 594L2123.1 661L2124.8 719L2126.1 781L2127.2 850L2129.1 1058L1268.4 1058L1268.4 230Z" fill="#f0ff00"/>
<path d="M1268.4 232L1363.4 232.9L1417.4 234L1570.4 237.9L1727.4 242.9L1728.4 243.2L1757.4 243.8L1758.4 244.2L1786.4 244.8L1787.4 245.2L1814.4 245.9L1815.4 246.2L1869.4 247.9L1870.4 248.2L1893.4 248.9L1913.8 250L1943.4 251.9L1944.4 252.2L1966.4 253.8L1967.4 254.2L1983.4 255.9L1990.9 257L2002.4 258.8L2007.4 260.2L2011.4 260.8L2025.4 264.7L2031.4 266.8L2040.4 270.6L2045.4 272.8L2052.4 276.8L2058.7 281L2063.4 284.7L2069.2 290L2077.6 299L2082.7 306L2086.5 312L2092.6 324L2097.6 338L2101.5 353L2104.4 368L2107.4 389L2109.2 407L2109.5 408L2110.1 419L2110.5 420L2111.1 434L2111.5 435L2112.1 453L2112.5 454L2113.1 476L2113.5 477L2114.1 500L2114.5 501L2115.1 523L2115.5 524L2116.2 547L2116.5 548L2117.2 571L2117.5 572L2118.5 596L2122.4 714.3L2124.4 812L2125.4 888L2126.8 1058L1268.4 1058L1268.4 232Z" fill="#ffee00"/>
<path d="M1268.4 234L1318.4 234.3L1400.4 235.5L1481.4 237.3L1568.4 239.6L1687.4 243.4L1804.4 247.6L1887.4 251L1933.4 253.6L1962.4 256L1986.4 258.7L2005.4 261.8L2020.4 265.4L2033.4 269.7L2039.4 272.2L2046.4 275.7L2052.4 279.1L2057.4 282.6L2062.4 286.5L2067.4 291L2072.2 296L2076.4 301L2080.4 306.4L2084 312L2087.2 318L2090.1 324L2094.8 337L2099 353L2102.3 371L2105.3 394L2107.7 421L2110 459L2115.4 575.2L2118.3 648L2120.3 712L2121.8 777L2122.9 848L2124.9 1058L1268.4 1058L1268.4 234Z" fill="#ffdc00"/>
<path d="M1268.4 236L1268.4 235.7L1313.4 236.1L1405.4 237.4L1490.4 239.2L1578.4 241.6L1680.4 244.9L1786.4 248.9L1880.4 252.9L1928.4 255.6L1960.4 258.2L1984.4 260.8L2003.4 263.7L2018.4 267L2032.4 271.4L2038.4 273.9L2044.8 277L2050.4 280.2L2055.4 283.5L2060.4 287.4L2065.4 291.9L2070.3 297L2074.4 301.8L2081.5 312L2084.8 318L2087.4 323.5L2090 330L2092.4 337L2096.2 352L2099.6 371L2102.6 395L2105.2 424L2107.8 467L2113.1 572L2116 642L2118.1 708L2119.7 774L2120.9 847L2122.9 1058L1268.4 1058L1268.4 236Z" fill="#ffca00"/>
<path d="M1268.4 238L1268.4 237.6L1306.4 238L1410.4 239.4L1498.4 241.2L1586.4 243.5L1678.4 246.6L1774.4 250.3L1874.4 254.8L1923.4 257.6L1953.6 260L1982.4 262.9L2002.4 265.8L2017.4 268.9L2031.4 273.2L2037.4 275.6L2043.4 278.4L2049.4 281.9L2054.1 285L2059.2 289L2063.6 293L2068.4 298L2072.4 302.7L2076.4 308L2079.6 313L2082.9 319L2085.6 325L2090.2 338L2093.9 353L2097.1 372L2100 397L2102.7 427L2106.6 490L2110.7 569L2113.8 639L2116 705L2117.7 772L2118.9 846L2120.9 1058L1268.4 1058L1268.4 238Z" fill="#ffb900"/>
<path d="M1268.4 240L1268.4 239.6L1296.4 239.8L1413.4 241.3L1503.4 243L1590.4 245.4L1674.4 248.2L1762.4 251.7L1864.4 256.5L1917.4 259.6L1949.4 262L1980.4 265.1L2001.4 267.9L2016.4 270.8L2023.4 272.6L2030.4 274.9L2036.4 277.3L2042.2 280L2047.4 282.9L2052.4 286.2L2057.3 290L2061.7 294L2066.4 298.8L2070.4 303.5L2074.4 308.9L2077.7 314L2080.9 320L2083.6 326L2088.1 339L2091.6 354L2094.6 373L2097.6 400L2100.3 433L2104.7 500L2108.6 569L2111.6 636L2113.9 703L2115.6 771L2116.9 846L2118.9 1058L1268.4 1058L1268.4 240Z" fill="#ffa700"/>
<path d="M1268.4 242L1268.4 241.5L1281.4 241.6L1416.4 243.1L1506.4 244.9L1592.4 247.1L1671.4 249.8L1752.4 253.2L1845.4 257.7L1909.4 261.3L1943.4 263.9L1977.4 267.2L2000.4 270L2015.4 272.7L2028.4 276.3L2034.4 278.5L2040.4 281.2L2045.4 284L2050.4 287.2L2055.3 291L2059.8 295L2064.4 299.7L2068.9 305L2072.6 310L2076.4 316L2079.5 322L2082 328L2086.2 341L2089.6 357L2092.3 376L2095.3 405L2098.4 443L2102.9 509L2106.5 572L2109.5 637L2111.9 704L2113.6 772L2114.9 848L2116.8 1058L1268.4 1058L1268.4 242Z" fill="#ff9500"/>
<path d="M1268.4 244L1268.4 243.4L1417.4 245L1508.4 246.6L1592.4 248.8L1666.4 251.4L1742.4 254.6L1826.4 258.8L1899.7 263L1936.4 265.7L1971.4 269L1998.4 272L2014.4 274.6L2027.4 278L2033.4 280.2L2039.4 282.9L2044.4 285.6L2049.4 288.9L2057.9 296L2062.8 301L2067.8 307L2071.4 312L2075 318L2078 324L2080.4 330L2082.7 337L2084.7 345L2087.7 361L2090.3 382L2093.9 422L2097.8 471L2101.9 530L2105.2 589L2108 650L2110.2 715L2111.8 782L2113.1 856L2114.8 1058L1268.4 1058L1268.4 244Z" fill="#ff8400"/>
<path d="M1268.4 246L1268.4 245.3L1417.4 246.8L1508.4 248.4L1591.4 250.5L1661.4 252.9L1734.4 256L1811.6 260L1888.4 264.5L1926.4 267.3L1960.4 270.3L1997.4 274.1L2013.4 276.5L2026.4 279.8L2032.4 281.9L2037.4 284.1L2042.4 286.7L2047.4 289.9L2051.5 293L2056.4 297.3L2061.8 303L2066.4 308.6L2070.2 314L2073.6 320L2076.4 326L2079 333L2081.1 340L2082.9 348L2085.4 363L2087.7 383L2092.8 441L2097.5 500L2101.1 553L2104 608L2106.5 666L2108.5 729L2110 794L2111.2 865L2112.8 1058L1268.4 1058L1268.4 246Z" fill="#ff7500"/>
<path d="M1268.4 248L1268.4 247.2L1415.4 248.6L1505.4 250.1L1586.4 252L1652.4 254.3L1720.4 257.2L1792.4 260.9L1867.4 265.4L1907.4 268.2L1941.4 270.9L1995.4 276.2L2011.4 278.3L2024.4 281.2L2030.4 283.2L2035.4 285.3L2040.4 287.8L2045.4 290.9L2049.6 294L2054.4 298.2L2059.4 303.4L2064.4 309.4L2068.3 315L2071.7 321L2074.5 327L2076.6 333L2078.7 340L2080.6 349L2082.9 363L2084.7 380L2096.2 515L2099.6 565L2102.4 618L2104.8 675L2106.7 737L2108.2 801L2109.3 870L2110.8 1058L1268.4 1058L1268.4 248Z" fill="#ff6600"/>
<path d="M1268.4 250L1268.4 249.1L1402.4 250.3L1492.4 251.6L1571.4 253.3L1634.4 255.3L1695.4 257.8L1760.4 261.1L1828.4 265.1L1882.4 268.6L1922.4 271.7L1995.4 278.5L2009.4 280.1L2016.4 281.4L2023.4 283L2029.4 284.9L2034.4 287L2039.4 289.5L2043.6 292L2047.7 295L2052.4 299.1L2057.2 304L2062.2 310L2066.4 316L2069.3 321L2072.1 327L2074.3 333L2076.2 340L2078.2 349L2080 361L2081.7 376L2091.9 491L2094.7 526L2097.9 574L2100.7 626L2102.9 681L2104.8 743L2106.3 806L2107.3 875L2108.8 1058L1268.4 1058L1268.4 250Z" fill="#ff5700"/>
<path d="M1268.4 252L1268.4 251.1L1390.4 252L1483.4 253.2L1561.4 254.8L1621.4 256.6L1678.4 258.8L1739.4 261.8L1802.4 265.5L1864.4 269.6L1910.4 273L1998.4 281.1L2009.4 282.3L2022.4 284.8L2028.4 286.7L2033.4 288.6L2038.4 291.1L2043 294L2047.4 297.3L2051.4 300.9L2056.2 306L2061.1 312L2064.5 317L2067.4 322L2070.1 328L2072.2 334L2074.1 341L2075.7 349L2077.4 360L2078.7 372L2082.7 420L2090.2 500L2093.4 540L2096.5 586L2099 636L2101.2 691L2103 752L2104.4 814L2105.4 881L2106.8 1058L1268.4 1058L1268.4 252Z" fill="#ff4700"/>
<path d="M1268.4 253L1450.4 254.5L1567.4 256.6L1621.4 258.3L1672.4 260.3L1726.4 262.9L1782.4 266.2L1843.4 270.3L1898.4 274.4L2009.4 284.5L2016.4 285.6L2022.4 286.9L2027.4 288.4L2032.4 290.3L2037.4 292.8L2041.4 295.2L2045.4 298.2L2049.4 301.8L2054.3 307L2059.2 313L2062.7 318L2065.5 323L2067.8 328L2069.9 334L2071.7 341L2073.3 349L2075.8 369L2079.5 416L2087.8 500L2091.8 548L2094.7 593L2097.2 642L2099.3 696L2101.1 756L2102.5 817L2103.5 884L2104.8 1058L1268.4 1058L1268.4 253Z" fill="#ff3a00"/>
<path d="M1268.4 255L1445.4 256.2L1558.4 258.1L1609.4 259.5L1658.4 261.4L1708.4 263.8L1760.4 266.8L1820.4 270.7L1882.4 275.4L2010.4 286.7L2022.4 289L2027.4 290.5L2032.4 292.4L2036.4 294.4L2040.4 296.9L2047.7 303L2052.5 308L2057.3 314L2060.8 319L2063.4 323.6L2065.8 329L2067.5 334L2069.1 340L2070.7 348L2072.9 366L2076.9 418L2085.8 504L2090.1 556L2093 600L2095.4 648L2097.5 702L2099.3 762L2100.5 822L2101.5 888L2102.8 1058L1268.4 1058L1268.4 255Z" fill="#ff3000"/>
<path d="M1268.4 257L1441.4 258L1550.4 259.6L1600.4 261L1646.4 262.6L1693.4 264.8L1741.4 267.5L1800.4 271.3L1862.6 276L1914.4 280.4L1973.4 286L2010.4 288.8L2021.4 290.8L2026.4 292.2L2031.2 294L2038.5 298L2042.4 300.9L2045.9 304L2049.7 308L2054.7 314L2058.3 319L2061.2 324L2063.4 329L2065.2 334L2066.7 340L2068.1 347L2070.4 366L2072.7 401L2074.4 421L2083.5 506L2088.4 563L2091.2 606L2093.5 653L2095.6 708L2097.4 767L2098.6 827L2099.6 892L2100.7 1058L1268.4 1058L1268.4 257Z" fill="#ff2600"/>
<path d="M1268.4 259L1268.4 258.7L1436.4 259.8L1543.4 261.2L1591.4 262.4L1635.4 263.9L1679.4 265.8L1724.4 268.3L1781.4 272L1839.4 276.3L1902.4 281.6L1972.4 288.3L2010.7 291L2020.4 292.6L2029.4 295.3L2033.4 297.2L2037.4 299.6L2044 305L2047.9 309L2052.8 315L2056.4 320L2058.8 324L2061.1 329L2062.8 334L2064.4 340L2065.7 347L2067.7 365L2069.9 400L2071.5 420L2081.6 511L2084.4 540.6L2086.6 569L2089.3 611L2091.6 657L2093.7 712L2095.4 771L2096.7 830L2097.6 895L2098.7 1058L1268.4 1058L1268.4 259Z" fill="#ff1d00"/>
<path d="M1268.4 263L1268.4 262.2L1447.4 263.3L1530.4 264.3L1578.4 265.3L1622.4 266.7L1664.4 268.4L1708.4 270.7L1764.4 274.3L1820.4 278.5L1890.4 284.4L1970.4 292.2L2011.4 294.8L2020.4 296.3L2028.4 298.7L2035.4 302.5L2041.4 307.4L2045.4 311.7L2049.8 317L2053.3 322L2055.6 326L2057.4 330L2059.1 335L2061.7 347L2063.5 364L2065.5 399L2067.1 420L2069.5 442L2077.9 513L2080.9 545L2083.6 579L2086.1 619L2088.3 665L2090.4 720L2092 778L2094.1 900L2095.1 1058L1268.4 1058L1268.4 263Z" fill="#fdfdfd"/>
</g></g>
<g filter="url(#bd)" clip-path="url(#cb)"><path d="M1276.3 215.7L1280.3 215.8L1284.3 215.8L1288.3 215.8L1292.4 215.9L1296.4 215.9L1300.4 215.9L1304.4 216L1308.4 216L1312.4 216L1316.4 216L1320.4 216.1L1324.4 216.1L1328.4 216.1L1332.4 216.1L1336.5 216.2L1340.5 216.2L1344.5 216.2L1348.5 216.2L1352.5 216.3L1356.5 216.3L1360.5 216.3L1364.5 216.3L1368.5 216.3L1372.5 216.3L1376.5 216.4L1380.5 216.4L1384.5 216.4L1388.5 216.4L1392.5 216.4L1396.5 216.4L1400.5 216.4L1404.5 216.5L1408.5 216.5L1412.5 216.5L1416.5 216.5L1420.5 216.5L1424.5 216.5L1428.5 216.5L1432.5 216.6L1436.5 216.6L1440.5 216.6L1444.5 216.6L1448.5 216.6L1452.5 216.6L1456.5 216.6L1460.5 216.7L1464.5 216.7L1468.5 216.7L1472.5 216.7L1476.5 216.7L1480.5 216.7L1484.5 216.8L1488.5 216.8L1492.5 216.8L1496.5 216.8L1500.5 216.8L1504.5 216.9L1508.5 216.9L1512.5 216.9L1516.5 216.9L1520.5 217L1524.5 217L1528.5 217L1532.5 217L1536.5 217.1L1540.5 217.1L1544.5 217.1L1548.5 217.2L1552.5 217.2L1556.5 217.2L1560.5 217.3L1564.4 217.3L1568.4 217.3L1572.4 217.4L1576.4 217.4L1580.4 217.5L1584.4 217.5L1588.4 217.6L1592.4 217.6L1596.4 217.7L1600.4 217.7L1604.4 217.8L1608.4 217.8L1612.4 217.9L1616.4 218L1620.4 218L1624.5 218.1L1628.5 218.2L1632.5 218.2L1636.5 218.3L1640.5 218.4L1644.5 218.4L1648.5 218.5L1652.5 218.6L1656.5 218.7L1660.5 218.8L1664.5 218.9L1668.5 219L1672.5 219L1676.5 219.1L1680.5 219.2L1684.5 219.3L1688.5 219.4L1692.5 219.5L1696.5 219.7L1700.6 219.8L1704.6 219.9L1708.6 220L1712.6 220.1L1716.6 220.2L1720.6 220.3L1724.6 220.5L1728.6 220.6L1732.6 220.7L1736.6 220.8L1740.6 221L1744.7 221.1L1748.7 221.2L1752.7 221.4L1756.7 221.5L1760.7 221.6L1764.7 221.8L1768.7 221.9L1772.7 222L1776.7 222.2L1780.7 222.3L1784.7 222.5L1788.7 222.6L1792.7 222.7L1796.7 222.9L1800.7 223L1804.7 223.1L1808.7 223.3L1812.7 223.4L1816.7 223.6L1820.7 223.7L1824.7 223.8L1828.7 224L1832.7 224.1L1836.7 224.2L1840.7 224.4L1844.6 224.5L1848.6 224.6L1852.6 224.8L1856.6 224.9L1860.6 225L1864.6 225.1L1868.5 225.3L1872.5 225.4L1876.5 225.5L1880.5 225.6L1884.4 225.7L1888.4 225.9L1892.4 226L1896.3 226.1L1900.3 226.2L1904.3 226.3L1908.2 226.4L1912.2 226.6L1916.2 226.7L1920.1 226.8L1924.1 227L1928.1 227.1L1932.1 227.3L1936 227.5L1940 227.7L1944 227.9L1948 228.1L1952 228.4L1956.1 228.6L1960.1 228.9L1964.1 229.2L1968.1 229.5L1972.2 229.9L1976.2 230.2L1980.3 230.6L1984.4 231.1L1988.5 231.5L1992.6 232L1996.7 232.5L2000.8 233.1L2004.9 233.7L2009 234.3L2013.1 235L2017.2 235.7L2021.2 236.5L2025.2 237.4L2029.2 238.3L2033.2 239.3L2037.1 240.4L2041 241.6L2044.8 242.8L2048.6 244.1L2052.3 245.5L2055.9 247L2059.5 248.6L2063 250.3L2066.4 252.1L2069.7 254L2072.9 256L2076.1 258.2L2079.1 260.5L2082.1 262.8L2084.9 265.4L2087.6 268L2090.3 270.7L2092.8 273.6L2095.2 276.5L2097.6 279.6L2099.8 282.8L2102 286L2104 289.3L2106 292.7L2107.9 296.2L2109.7 299.7L2111.4 303.3L2113 307L2114.5 310.7L2116 314.5L2117.4 318.3L2118.7 322.2L2119.9 326.1L2121.1 330L2122.2 333.9L2123.2 337.9L2124.2 341.9L2125 345.8L2125.9 349.8L2126.6 353.8L2127.3 357.8L2127.9 361.8L2128.5 365.8L2129.1 369.8L2129.5 373.8L2130 377.8L2130.4 381.8L2130.7 385.8L2131 389.8L2131.3 393.8L2131.5 397.8L2131.7 401.9L2131.9 405.9L2132 409.9L2132.2 413.9L2132.3 417.9L2132.4 421.9L2132.4 425.9L2132.5 429.9L2132.6 433.9L2132.6 437.9L2132.6 441.9L2132.7 445.9L2132.7 449.9L2132.8 453.9L2132.8 457.9L2132.9 461.9L2133 465.9L2133 469.9L2133.1 473.9L2133.2 477.9L2133.3 481.9L2133.3 485.9L2133.4 489.9L2133.5 493.9L2133.6 497.9L2133.7 501.9L2133.8 505.9L2134 509.9L2134.1 513.9L2134.2 517.9L2134.3 521.9L2134.4 525.9L2134.6 529.9L2134.7 533.9L2134.8 537.9L2134.9 541.9L2135.1 545.9L2135.2 549.9L2135.4 553.9L2135.5 557.9L2135.6 561.9L2135.8 565.9L2135.9 569.9L2136.1 573.9L2136.2 577.9L2136.4 581.9L2136.5 585.9L2136.6 589.9L2136.8 593.9L2136.9 597.9L2137.1 601.9L2137.2 605.9L2137.4 609.9L2137.5 613.9L2137.7 617.9L2137.8 621.9L2137.9 625.9L2138.1 629.9L2138.2 633.9L2138.3 637.9L2138.5 641.9L2138.6 645.9L2138.7 649.9L2138.9 653.9L2139 657.9L2139.1 661.9L2139.2 665.9L2139.3 669.9L2139.4 673.9L2139.6 677.9L2139.7 681.9L2139.8 685.9L2139.9 689.9L2140 693.9L2140.1 697.9L2140.2 701.9L2140.3 705.9L2140.4 709.9L2140.4 713.9L2140.5 717.9L2140.6 721.9L2140.7 725.9L2140.8 729.9L2140.9 733.9L2141 737.9L2141 741.9L2141.1 745.9L2141.2 749.9L2141.3 753.9L2141.3 757.9L2141.4 761.9L2141.5 765.9L2141.5 769.9L2141.6 773.9L2141.7 777.9L2141.7 781.9L2141.8 785.9L2141.8 789.9L2141.9 793.9L2142 797.9L2142 801.9L2142.1 805.9L2142.1 809.9L2142.2 813.9L2142.2 817.9L2142.3 821.9L2142.3 825.9L2142.4 829.9L2142.4 833.9L2142.5 837.9L2142.5 841.9L2142.6 845.9L2142.6 849.9L2142.6 853.9L2142.7 857.9L2142.7 861.9L2142.8 865.9L2142.8 869.9L2142.9 873.9L2142.9 877.9L2142.9 881.9L2143 885.9L2143 889.9L2143.1 894L2143.1 898L2143.1 902L2143.2 906L2143.2 910L2143.3 914L2143.3 918L2143.3 922L2143.4 926L2143.4 930L2143.4 934L2143.5 938L2143.5 942L2143.6 946L2143.6 950L2143.6 954L2143.7 958L2143.7 962L2143.8 966L2143.8 970L2143.8 974L2143.9 978L2143.9 982L2144 986L2144 990L2144.1 994L2144.1 998L2144.1 1002L2144.2 1006L2144.2 1010L2144.3 1014L2144.3 1018L2144.4 1022L2144.4 1026L2144.5 1030L2144.5 1034L2144.6 1038L2144.7 1042L2144.7 1046L2144.8 1050" fill="none" stroke="#005248" stroke-width="5.4" stroke-dasharray="7.5 12" stroke-dashoffset="-10"/></g>
<g filter="url(#bt)">
<path d="M1295 162L1295 202.5" stroke="#d8003a" stroke-width="4.2" fill="none"/><path d="M1295 150L1302.5 165L1287.5 165ZM1295 214.5L1287.5 199.5L1302.5 199.5Z" fill="#ff0000"/>
<path d="M2099.6 256.4L2176.2 183.7" stroke="#d8003a" stroke-width="4.2" fill="none"/><path d="M2090.9 264.7L2096.6 248.9L2106.9 259.8ZM2184.9 175.4L2179.2 191.2L2168.9 180.3Z" fill="#ff0000"/>
</g>
<g filter="url(#bt)">
<path d="M1273.9 136.1H2219M1276.4 145V1050.4H2216.5M2225.5 144.1V1052.9M1276.4 136.1V117.6M2225.5 146.6H2243.5M1393.9 136.1V126.6M2225.5 259.6H2235M1511.4 136.1V117.6M2225.5 372.5H2243.5M1628.9 136.1V126.6M2225.5 485.5H2235M1746.5 136.1V117.6M2225.5 598.5H2243.5M1864 136.1V126.6M2225.5 711.5H2235M1981.5 136.1V117.6M2225.5 824.4H2243.5M2099 136.1V126.6M2225.5 937.4H2235M2216.5 136.1V117.6M2225.5 1050.4H2243.5" fill="none" stroke="#4a4a4a" stroke-width="5.0"/>
<g font-family="'Liberation Serif', 'Times New Roman', Times, serif" font-size="47" fill="#242424" stroke="#242424" stroke-width="1.0">
<text transform="translate(1747 55) scale(1 1.07)" text-anchor="middle">X-Width, m</text>
<text transform="translate(1276.4 98) scale(1 1.07)" text-anchor="middle">0.00</text>
<text transform="translate(2255 163.1) scale(1 1.07)">0.08</text>
<text transform="translate(1511.4 98) scale(1 1.07)" text-anchor="middle">0.02</text>
<text transform="translate(2255 389) scale(1 1.07)">0.06</text>
<text transform="translate(1746.5 98) scale(1 1.07)" text-anchor="middle">0.04</text>
<text transform="translate(2255 615) scale(1 1.07)">0.04</text>
<text transform="translate(1981.5 98) scale(1 1.07)" text-anchor="middle">0.06</text>
<text transform="translate(2255 840.9) scale(1 1.07)">0.02</text>
<text transform="translate(2216.5 98) scale(1 1.07)" text-anchor="middle">0.08</text>
<text transform="translate(2255 1066.9) scale(1 1.07)">0.00</text>
<text transform="translate(2380 597.8) rotate(-90) scale(1 1.07)" text-anchor="middle">Y-Width, m</text>
<text transform="translate(1301.9 1029.6) scale(1 1.07)" font-size="50">(b) <tspan font-style="italic">R</tspan>=8 mm</text>
</g>
<g font-family="'Liberation Serif', 'Times New Roman', Times, serif" font-size="49" font-weight="bold" fill="#ff0000">
<text transform="translate(1307 196) scale(1 1.09)" word-spacing="3">5.98 mm</text>
<text transform="translate(1662.6 206.8) skewX(-9) scale(1 1.09)" font-style="italic">f</text>
<text transform="translate(1678.6 215.3) scale(1 1.09)" font-style="italic" font-size="31.4">l</text>
<text transform="translate(1687.1 206.8) scale(1 1.09)">=0.3</text>
<text transform="translate(1937.4 209) scale(1 1.09)">11.61 mm</text>
</g>
</g>
</g>
<g id="panel-c">
<clipPath id="cc"><path d="M73 1328.7H894.2A117.3 112.5 0 0 1 1011.5 1441.2V2229H73Z"/></clipPath>
<g filter="url(#bl)">
<path d="M73 1328.7H894.2A117.3 112.5 0 0 1 1011.5 1441.2V2229H73Z" fill="#0000ff"/>
<g clip-path="url(#cc)">
<path d="M65 1385.7L65 1384.8L142 1385.2L298 1385.1L368 1385.4L428 1386.1L486 1387.5L551 1389.6L682 1395L725 1397.2L760 1399.8L797 1403.4L825 1407.2L846 1411.1L855 1413.3L862.9 1415.7L870 1418.3L876 1421L882 1424.1L888 1427.8L894 1432.3L898.9 1436.7L903.7 1441.7L907.8 1446.7L911.4 1451.7L915 1457.5L921 1469.7L923.8 1476.7L926.4 1484.7L931.4 1503.7L935.5 1525.7L938.9 1549.7L941.1 1573.7L942.6 1604.7L944.4 1683.7L949 1829.7L950.8 1899.7L952.5 2003.7L955.2 2237.7L65 2237.7L65 1385.7Z" fill="#0016ff"/>
<path d="M65 1386.7L65 1386.3L141 1386.7L318 1386.6L379 1387L433 1387.7L491 1389.1L556 1391.3L684 1396.6L727 1398.8L762 1401.4L798 1405.1L825 1408.9L845 1412.8L861 1417.3L868 1419.9L875 1423L881 1426.2L887 1430.1L892 1433.8L897.5 1438.7L902 1443.4L906 1448.2L910 1453.8L913.7 1459.7L917 1466L920 1472.7L925 1486.5L930 1505.5L934.1 1526.7L937.4 1549.7L939.6 1573.7L941.1 1604.7L942.9 1683.7L947.5 1829.7L949.3 1899.7L951 2003.7L953.7 2237.7L65 2237.7L65 1386.7Z" fill="#0042ff"/>
<path d="M65 1388.7L65 1387.8L142 1388.2L298 1388.1L368 1388.4L429 1389.2L488 1390.5L553 1392.7L683 1398L727 1400.3L762 1403L796 1406.5L822 1410.1L843 1414.3L859 1418.9L866.5 1421.7L873.2 1424.7L879 1427.8L885.1 1431.7L890.4 1435.7L896 1440.7L900.8 1445.7L904.9 1450.7L908.5 1455.7L912 1461.4L918.2 1473.7L921 1480.8L923.7 1488.7L928.5 1506.7L932.7 1527.7L935.9 1550.7L938.1 1573.7L939.6 1604.7L941.4 1683.7L946 1829.7L947.8 1899.7L949.5 2002.7L952.2 2237.7L65 2237.7L65 1388.7Z" fill="#0078ff"/>
<path d="M65 1389.7L65 1389.3L141 1389.7L319 1389.6L380 1390L434 1390.8L493 1392.2L558 1394.4L685 1399.6L728 1401.9L762 1404.5L796 1408L821 1411.7L840.7 1415.7L850 1418.2L857.7 1420.7L865 1423.5L871.9 1426.7L878 1430.1L883.6 1433.7L889 1437.8L894 1442.3L898.3 1446.7L902.5 1451.7L906.2 1456.7L910.1 1462.7L913.4 1468.7L916.7 1475.7L922 1489.7L927 1507.7L931.1 1527.7L934.3 1549.7L936.6 1573.7L938.1 1604.7L939.9 1683.7L944.5 1829.7L946.2 1898.7L948 2002.7L950.7 2237.7L65 2237.7L65 1389.7Z" fill="#00aeff"/>
<path d="M65 1391.7L65 1390.8L142 1391.2L299 1391.1L369 1391.4L430 1392.2L488 1393.5L555 1395.8L683 1401.1L728 1403.4L762 1406L794 1409.3L818 1412.9L838 1417L854 1421.7L861.9 1424.7L869 1427.9L875 1431.2L881 1435L887 1439.5L892 1443.9L896.7 1448.7L900.9 1453.7L905 1459.2L908.5 1464.7L912 1471L915 1477.2L920.6 1491.7L925.5 1508.7L929.6 1528.7L932.9 1550.7L935.1 1573.7L936.6 1604.7L938.4 1684.7L943 1829.7L944.7 1898.7L946.5 2002.7L949.2 2237.7L65 2237.7L65 1391.7Z" fill="#00daff"/>
<path d="M65 1392.7L65 1392.3L141 1392.7L319 1392.6L380 1393L434 1393.8L492 1395.1L559 1397.4L684 1402.6L729 1404.9L763 1407.6L793 1410.8L816 1414.2L836 1418.5L845 1421L853 1423.6L860 1426.4L867.2 1429.7L873 1432.9L879 1436.7L884.4 1440.7L890.1 1445.7L895 1450.7L899 1455.3L903 1460.7L906.9 1466.7L913.3 1478.7L916.7 1486.7L919.3 1493.7L924.2 1510.7L928.2 1529.7L931.3 1550.7L933.5 1573.7L935.1 1604.7L936.9 1684.7L941.5 1829.7L943.2 1898.7L945 2002.7L947.6 2237.7L65 2237.7L65 1392.7Z" fill="#00fff9"/>
<path d="M65 1394.7L65 1393.8L142 1394.2L299 1394.1L369 1394.4L430 1395.2L489 1396.6L557 1398.9L686 1404.2L730 1406.5L764 1409.2L792 1412.2L814 1415.6L834 1419.9L850 1424.8L857.3 1427.7L865 1431.3L871.2 1434.7L877.4 1438.7L883 1442.9L889 1448.3L894 1453.4L898 1458.2L902 1463.6L906 1469.7L912.3 1481.7L918 1496L920.5 1503.7L923.1 1513.7L926.9 1531.7L930 1552.4L932.1 1574.7L933.6 1604.7L935.4 1683.7L940 1830.7L941.8 1899.7L943.5 2001.7L946.1 2237.7L65 2237.7L65 1394.7Z" fill="#00ffcd"/>
<path d="M65 1395.7L65 1395.3L141 1395.7L319 1395.6L381 1396L435 1396.8L494 1398.2L562 1400.6L690 1405.9L731 1408.1L763 1410.6L794 1414.1L816 1417.7L833 1421.6L848.8 1426.7L856.2 1429.7L864 1433.5L870 1436.9L875.8 1440.7L882 1445.5L887 1450L892 1455.1L896 1459.8L900 1465L904.4 1471.7L910.9 1483.7L916.6 1497.7L919.2 1505.7L921.6 1514.7L925.5 1532.7L928.4 1551.7L930.5 1573.7L932 1603.7L933.9 1684.7L938.6 1832.7L940.2 1898.7L942 2006.1L944.6 2237.7L65 2237.7L65 1395.7Z" fill="#00ffa2"/>
<path d="M65 1397.7L65 1396.9L139 1397.3L311 1397.2L397 1397.7L455 1398.7L525 1400.6L526 1400.9L579 1402.6L580 1402.9L674 1406.6L675 1407L697 1407.7L732 1409.6L733 1409.9L746 1410.6L768 1412.6L794 1415.6L795 1416L806.9 1417.7L817 1419.6L833 1423.6L848 1428.6L857 1432.5L863 1435.6L874 1442.5L885 1451.6L889 1455.7L895 1462.5L902.3 1472.7L905.3 1477.7L909 1484.9L912.1 1491.7L915.2 1499.7L918.6 1510.7L919.1 1511.7L922 1523.5L924 1533.5L927 1553.2L929 1573.7L929.8 1589.7L930.1 1590.7L930.8 1622.7L931.1 1623.7L932.5 1688.7L935.8 1796.7L936.1 1797.7L936.8 1829.7L937.1 1830.7L937.8 1866.7L938.1 1867.7L938.8 1910.7L939.1 1911.7L939.8 1968.7L940.1 1969.7L940.8 2045.7L941.1 2046.7L941.8 2141.7L942.1 2142.7L942.8 2226.7L943.1 2227.7L943.2 2237.7L65 2237.7L65 1397.7Z" fill="#00ff76"/>
<path d="M65 1399.7L65 1398.8L286 1399.5L366 1400L434 1400.9L501 1402.5L574 1405L676 1409.3L727 1412L760 1414.6L788 1417.7L809 1421L827 1425.1L836 1427.7L844 1430.5L852 1433.8L859 1437.2L866 1441.2L872 1445.2L877.8 1449.7L883 1454.3L888 1459.4L892.5 1464.7L900.4 1475.7L907 1487.8L912.7 1501.7L917.6 1517.7L921.5 1535.7L924.5 1555.7L926.6 1577.7L928.3 1611.7L930.3 1685.7L934.8 1827.7L936.4 1890.7L938.3 2000.7L941 2237.7L65 2237.7L65 1399.7Z" fill="#00ff4a"/>
<path d="M65 1401.7L65 1400.9L269 1401.8L362 1402.5L440 1403.7L513 1405.5L587 1407.9L672 1411.6L723 1414.4L757 1417.1L786 1420.3L808 1423.8L826 1427.9L834 1430.3L842 1433.1L850 1436.4L857 1439.8L863.9 1443.7L869.9 1447.7L876 1452.5L881 1457L885.6 1461.7L890 1466.8L894.5 1472.7L898.5 1478.7L905 1490.8L910.6 1504.7L915.3 1520.7L919.1 1538.7L922.1 1558.7L924.3 1581.7L925.4 1599.7L926.2 1620.7L932.1 1805.7L934.1 1883.7L936.2 2002.7L938.9 2237.7L65 2237.7L65 1401.7Z" fill="#00ff1f"/>
<path d="M65 1403.7L65 1402.9L247 1404L356 1405L449 1406.6L525 1408.4L596 1410.7L668 1413.9L719 1416.8L754 1419.6L783 1422.8L805 1426.2L823 1430.2L832 1432.8L840 1435.6L848 1438.9L855 1442.4L862 1446.4L868 1450.4L873.5 1454.7L879 1459.6L883.9 1464.7L888.2 1469.7L892 1474.8L896 1480.8L899.4 1486.7L902.9 1493.7L908.4 1507.7L913 1523.7L916.7 1541.7L919.8 1562.7L921.9 1585.7L923.7 1618.7L926.8 1706.7L929.8 1800.7L931.8 1874.7L934 2001.7L936.8 2237.7L65 2237.7L65 1403.7Z" fill="#11ff00"/>
<path d="M65 1405.7L65 1404.9L226 1406.1L350 1407.5L463 1409.5L537 1411.3L602 1413.4L663 1416.1L713 1419L749 1421.9L780 1425.2L802 1428.6L820 1432.5L829 1435.1L837 1437.8L845 1441.1L852 1444.4L859 1448.3L865 1452.3L871 1456.9L876.4 1461.7L881.3 1466.7L886 1472.2L890.1 1477.7L894 1483.7L900.4 1495.7L903.4 1502.7L905.9 1509.7L910.5 1525.7L914.4 1544.7L917.5 1566.7L919.7 1590.7L921.6 1624.7L924.7 1705.7L927.5 1790.7L929.5 1866.7L931.9 2002.7L934.6 2237.7L65 2237.7L65 1405.7Z" fill="#49ff00"/>
<path d="M65 1407.7L65 1406.9L212 1408.1L342 1410L485 1412.6L552 1414.2L608 1416.1L661 1418.5L706 1421.2L743 1424.1L776 1427.6L798 1430.8L817 1434.8L826 1437.3L834 1440L842 1443.2L849.5 1446.7L856.6 1450.7L862.7 1454.7L868 1458.7L874 1464L878.6 1468.7L883 1473.7L887.6 1479.7L891.5 1485.7L894.9 1491.7L898 1497.9L901 1505L903.8 1512.7L908.2 1528.7L912 1547.7L915.2 1570.7L917.5 1595.7L919.6 1630.7L922.6 1705.7L925.1 1782.7L927.1 1857.7L929.8 2001.7L932.5 2237.7L65 2237.7L65 1407.7Z" fill="#81ff00"/>
<path d="M65 1409.7L65 1408.9L199 1410.2L312 1412L512 1415.8L569 1417.2L617 1418.9L661 1421L701 1423.4L740 1426.6L774 1430.1L797 1433.5L815 1437.4L824 1439.9L832 1442.5L839.9 1445.7L847 1449L853.7 1452.7L860 1456.8L866.4 1461.7L872.1 1466.7L876.9 1471.7L881.2 1476.7L885 1481.7L889 1487.7L892.5 1493.7L895.9 1500.7L898.8 1507.7L901.3 1514.7L905.9 1531.7L909.8 1551.7L913 1575.5L915.4 1601.7L917.6 1638.7L920.5 1706.7L922.9 1775.7L924.8 1848.7L927.6 2002.7L930.4 2237.7L65 2237.7L65 1409.7Z" fill="#b9ff00"/>
<path d="M65 1411.7L65 1410.9L186 1412.1L533 1418.8L581 1420.1L623 1421.6L659 1423.3L696 1425.7L735 1428.9L771 1432.6L794 1435.9L812.2 1439.7L821 1442.1L829 1444.7L837 1447.8L845 1451.6L852 1455.5L858.5 1459.7L864 1464L870 1469.3L875 1474.4L879.5 1479.7L883.9 1485.7L887.1 1490.7L890.5 1496.7L893.9 1503.7L897 1511.5L899.4 1518.7L903.8 1535.7L907.7 1556.7L910.9 1580.7L913.4 1607.7L915.7 1644.7L918.4 1707.7L920.6 1770.7L922.5 1839.7L925.5 2003.7L928.2 2237.7L65 2237.7L65 1411.7Z" fill="#f0ff00"/>
<path d="M65 1413.7L65 1413L152 1413.7L302 1416.6L345 1417.6L346 1417.8L389 1418.6L390 1418.8L548 1421.6L549 1421.9L586 1422.6L587 1422.9L615 1423.7L657 1425.6L658 1426L688 1427.6L701 1428.6L702 1429L714 1429.6L715 1430L736 1431.6L737 1432L746 1432.6L747 1432.9L765 1434.6L766 1435L773 1435.6L787 1437.6L788 1438L793 1438.6L808 1441.6L822 1445.5L828 1447.6L838 1451.6L842 1453.6L851 1458.6L857 1462.5L866.6 1470.7L876.2 1480.7L884.1 1491.7L890 1502.7L893.1 1509.7L896.3 1518.7L901.2 1536.7L905.1 1557.7L909.1 1587.7L911.1 1608.7L913 1637.7L916 1699.7L918.1 1753.7L918.8 1784.7L919.1 1785.7L919.8 1823.7L920.1 1824.7L920.7 1867.7L921.1 1868.7L921.7 1918.7L922.1 1919.7L922.8 1977.7L923.1 1978.7L923.8 2047.7L924.1 2048.7L924.8 2130.7L925.1 2131.7L925.8 2226.7L926.1 2227.7L926.1 2237.7L65 2237.7L65 1413.7Z" fill="#ffee00"/>
<path d="M65 1414.7L123 1415L200 1416.1L544 1423.3L584 1424.5L621 1425.9L651 1427.5L685 1429.7L726 1433.2L767 1437.4L790 1440.6L809 1444.4L818 1446.8L826.7 1449.7L834 1452.6L841 1455.9L847.8 1459.7L854 1463.8L860 1468.4L866 1473.8L870.8 1478.7L875.1 1483.7L879 1488.9L883.4 1495.7L886.7 1501.7L889.5 1507.7L892.3 1514.7L894.9 1522.7L899.1 1539.7L902.9 1561.7L906.8 1591.7L909.5 1621.7L911.9 1660.7L914.6 1717.7L916.6 1775.7L918.4 1842.7L921.8 2018.7L924.3 2237.7L65 2237.7L65 1414.7Z" fill="#ffdc00"/>
<path d="M65 1416.7L65 1416.3L101 1416.5L198 1417.7L526 1424.6L570 1425.8L608 1427.3L642 1429L676 1431.3L719 1434.9L764 1439.6L790 1443.1L808 1446.6L816 1448.7L824 1451.3L832 1454.4L839 1457.7L846 1461.6L852 1465.6L858 1470.3L864 1475.7L869 1480.7L874 1486.6L878 1492L881.6 1497.7L884.8 1503.7L887.6 1509.7L890.3 1516.7L892.8 1524.7L896.8 1541.7L900.3 1562.7L904.6 1596.7L907.6 1627.7L910 1667.7L912.7 1724.7L914.8 1783.7L916.7 1851.7L918.6 1938.7L920.2 2030.7L922.5 2237.7L65 2237.7L65 1416.7Z" fill="#ffca00"/>
<path d="M65 1418.7L65 1417.9L76 1418L194 1419.2L507 1425.8L556 1427.2L596.6 1428.7L633 1430.5L669 1432.9L713 1436.7L759 1441.6L788 1445.3L807 1448.9L816 1451.3L823.5 1453.7L831 1456.7L838 1460L844.4 1463.7L850.3 1467.7L856.6 1472.7L863 1478.5L868 1483.6L872.3 1488.7L876 1493.7L879.7 1499.7L882.9 1505.7L886 1512.6L888.6 1519.7L890.7 1526.7L894.3 1542.7L897.5 1562.7L902.7 1602.7L905.5 1632.7L908.1 1674.7L910.8 1731.7L913 1791.7L914.9 1861.7L916.9 1949.7L918.5 2041.7L920.7 2237.7L65 2237.7L65 1418.7Z" fill="#ffb900"/>
<path d="M65 1419.7L135 1420.1L225 1421.4L503 1427.4L551 1428.8L592 1430.4L629 1432.3L663.7 1434.7L709 1438.6L756 1443.7L788 1447.8L807 1451.4L815 1453.5L823 1456.1L830 1458.9L837 1462.3L843 1465.8L849 1470L854.8 1474.7L861.4 1480.7L866.3 1485.7L870.5 1490.7L874.2 1495.7L877.9 1501.7L881 1507.7L883.7 1513.7L886.2 1520.7L888.3 1527.7L891.7 1542.7L894.5 1560.7L900.7 1607.7L903.5 1637.7L906.3 1682.7L909 1739.7L911.2 1800.7L913.2 1872.7L915.2 1960.7L916.9 2050.7L918.1 2142.7L918.9 2237.7L65 2237.7L65 1419.7Z" fill="#ffa700"/>
<path d="M65 1421.7L65 1421.3L108 1421.5L217 1422.8L321 1424.8L482 1428.5L535 1430L579 1431.6L618.6 1433.7L656 1436.3L699 1440L743 1444.7L785 1449.9L796 1451.6L806 1453.6L814 1455.7L822 1458.3L829 1461.1L836 1464.6L842 1468.3L848 1472.6L860 1483.2L865 1488.3L869 1493.1L873 1498.6L876.1 1503.7L879.1 1509.7L881.7 1515.7L884.2 1522.7L886.2 1529.7L889 1542.7L891.5 1558.7L898.6 1611.7L901.5 1641.7L904.3 1687.7L907.1 1745.7L909.3 1806.7L911.5 1881.7L913.6 1969.7L915.2 2058.7L916.3 2147.7L917.1 2237.7L65 2237.7L65 1421.7Z" fill="#ff9500"/>
<path d="M65 1423.7L65 1422.9L72 1423L202 1424.2L310 1426.1L452 1429.3L515 1431L564 1432.8L608 1435L649 1437.8L692 1441.6L735 1446.2L786 1452.5L797 1454.2L806 1456.1L814 1458.2L821 1460.5L828 1463.4L834.5 1466.7L840 1470.1L846 1474.4L858.7 1485.7L863 1490.1L867 1494.8L871 1500.3L874.2 1505.7L877.2 1511.7L879.7 1517.7L883.8 1530.7L885.8 1539.7L887.5 1549.7L895.4 1606.7L897.7 1625.7L899.5 1646.7L902.5 1694.7L905.2 1752.7L907.5 1814.7L909.8 1892.7L911.9 1979.7L913.5 2065.7L914.6 2151.7L915.2 2237.7L65 2237.7L65 1423.7Z" fill="#ff8400"/>
<path d="M65 1424.7L142 1425.1L238 1426.3L340 1428.3L458 1431L516 1432.7L563 1434.5L605 1436.8L644 1439.5L685 1443.2L727 1447.7L786 1455L796 1456.6L805 1458.3L813 1460.4L820 1462.7L827 1465.6L833 1468.7L839 1472.5L844 1476.2L857 1487.8L861.8 1492.7L865.2 1496.7L868.8 1501.7L871.8 1506.7L874.9 1512.7L877.4 1518.7L881.4 1531.7L883.1 1539.7L884.7 1548.7L888.6 1578.7L893.6 1612.7L895.6 1629.7L897.4 1649.7L900.5 1699.7L903.3 1757.7L905.7 1821.7L908.1 1901.7L910.2 1987.7L911.8 2072.7L912.9 2155.7L913.4 2237.7L65 2237.7L65 1424.7Z" fill="#ff7500"/>
<path d="M65 1426.7L65 1426.3L105 1426.5L219 1427.6L320 1429.4L429 1431.9L498 1433.8L549 1435.7L595 1438.1L638 1441.1L678 1444.7L721 1449.4L787 1457.7L797 1459.2L805 1460.8L813 1462.9L820 1465.3L826 1467.9L832 1471L837 1474.3L842 1478L856 1490.6L860 1494.7L864 1499.5L867 1503.7L870 1508.7L872.5 1513.7L875 1519.7L877 1525.7L879 1532.7L881.8 1547.7L885.8 1578.7L891.7 1617.7L893.7 1634.7L895.4 1653.7L898.6 1704.7L901.5 1763.7L904 1828.7L906.5 1910.7L908.6 1995.7L910.1 2077.7L911.2 2158.7L911.6 2237.7L65 2237.7L65 1426.7Z" fill="#ff6600"/>
<path d="M65 1428.7L65 1428L199 1429L302 1430.6L407 1432.9L483 1434.9L538 1436.9L587 1439.5L632 1442.7L672 1446.3L714 1451L788 1460.3L805 1463.3L812 1465.1L819 1467.5L825 1470.1L831 1473.4L836 1476.7L841 1480.7L855 1493.4L859 1497.6L862.4 1501.7L865.2 1505.7L868.1 1510.7L870.6 1515.7L873 1521.7L876.5 1533.7L879.2 1547.7L883.2 1579.7L889.8 1621.7L891.8 1638.7L893.4 1657.7L896.7 1710.7L899.6 1769.7L902.2 1835.7L904.8 1919.7L906.9 2002.7L908.4 2083.7L909.4 2161.7L909.8 2237.7L65 2237.7L65 1428.7Z" fill="#ff5700"/>
<path d="M65 1429.7L147 1430.1L241 1431.1L331 1432.7L420 1434.7L487 1436.7L539 1438.7L585 1441.2L628 1444.4L667 1448L708 1452.6L789 1462.9L804.9 1465.7L812 1467.6L818 1469.7L824 1472.4L830 1475.7L834.3 1478.7L839 1482.5L853.4 1495.7L857.3 1499.7L860.6 1503.7L863.4 1507.7L866.3 1512.7L870.7 1522.7L874.1 1534.7L876.6 1548.7L880.7 1581.7L887.7 1624.7L889.7 1641.7L891.4 1661.7L894.8 1715.7L897.8 1774.7L900.4 1841.7L903.1 1927.7L905.2 2009.7L906.7 2087.7L907.7 2163.7L908 2237.7L65 2237.7L65 1429.7Z" fill="#ff4700"/>
<path d="M65 1431.7L65 1431.3L99 1431.4L222 1432.5L315 1433.9L404 1435.8L476 1437.9L529 1440L577 1442.5L621 1445.8L659 1449.4L699 1453.9L790 1465.5L804 1468L811 1469.8L817 1471.9L823 1474.6L828 1477.4L836.4 1483.7L852 1498.1L855.5 1501.7L858.8 1505.7L864 1513.9L868.3 1523.7L871.7 1535.7L874 1548.7L877.9 1581.7L885.7 1627.7L887.6 1644.7L889.4 1665.7L892.9 1719.7L895.8 1778.7L898.6 1847.7L901.4 1934.7L903.5 2014.7L905 2091.7L905.9 2165.7L906.2 2237.7L65 2237.7L65 1431.7Z" fill="#ff3a00"/>
<path d="M65 1433.7L65 1433L205 1433.9L302 1435.2L394 1437.1L467 1439.2L522 1441.3L571 1444L616 1447.3L653 1450.9L692 1455.3L791 1468.2L804 1470.4L810 1472L816 1474.1L821.7 1476.7L826.9 1479.7L834.6 1485.7L850.9 1500.7L857.1 1507.7L862 1515.7L864.4 1520.7L866.3 1525.7L869.3 1536.7L871.4 1549.7L875.1 1581.7L881.6 1617.7L883.6 1630.7L885.7 1648.7L887.5 1671.7L891 1725.7L894.1 1785.7L896.9 1855.7L899.8 1943.7L901.9 2021.7L903.3 2096.7L904.1 2167.7L904.4 2237.7L65 2237.7L65 1433.7Z" fill="#ff3000"/>
<path d="M65 1434.7L154 1435.1L246 1435.9L327 1437.2L403 1438.9L469 1440.8L521 1443L568 1445.6L611 1448.9L646 1452.2L683 1456.5L762 1467.1L792 1470.8L803 1472.7L809 1474.2L815 1476.3L820.2 1478.7L825 1481.5L831.8 1486.7L849.1 1502.7L852 1505.7L855.3 1509.7L860.2 1517.7L863.9 1526.7L866.9 1537.7L868.8 1549.7L872.4 1581.7L879.5 1619.7L881.5 1632.7L883.5 1650.7L885.6 1676.7L889.1 1730.7L892.2 1790.7L895.1 1862.7L898.1 1950.7L900.2 2026.7L901.6 2099.7L902.4 2169.7L902.6 2237.7L65 2237.7L65 1434.7Z" fill="#ff2600"/>
<path d="M65 1436.7L65 1436.3L89 1436.4L231 1437.4L316 1438.5L394 1440.2L461 1442.2L515 1444.3L563 1447.1L606 1450.4L642 1453.9L677 1458L761 1469.5L793 1473.4L803 1475.1L809 1476.7L814 1478.5L818.8 1480.7L823 1483.2L830 1488.6L840 1498.2L848 1505.4L851 1508.5L854 1512.4L858.3 1519.7L861.9 1528.7L864.4 1538.7L866.1 1549.7L868.3 1571.7L869.6 1581.7L871.5 1592.7L876.9 1619.7L879.5 1635.7L881.7 1655.7L884 1685.7L887.5 1739.7L890.6 1799.7L893.7 1876.7L896.6 1961.7L898.6 2035.7L899.9 2106.7L900.6 2173.7L900.8 2237.7L65 2237.7L65 1436.7Z" fill="#ff1d00"/>
<path d="M65 1439.7L150 1439.9L246 1440.7L323 1441.8L394 1443.3L459 1445.3L511 1447.4L558 1450.1L600 1453.4L634 1456.7L667 1460.6L705.6 1465.7L761 1473.6L792 1477.3L802 1479L807 1480.3L812 1482L817 1484.3L821 1486.7L827 1491.6L837 1501.3L845.3 1508.7L850.5 1514.7L854.6 1521.7L858 1530.2L860.4 1539.7L861.9 1549.7L864 1572.7L865.3 1582.7L867.5 1594.7L873.3 1622.7L875.7 1637.7L878.1 1659.7L880.8 1693.7L884.2 1747.7L887.3 1807.7L890.5 1886.7L893.4 1970.7L895.3 2041.7L896.6 2109.7L897.3 2174.7L897.4 2237.7L65 2237.7L65 1439.7Z" fill="#fdfdfd"/>
</g></g>
<g filter="url(#bd)" clip-path="url(#cc)"><path d="M73 1396.5L77 1396.5L81 1396.6L85 1396.6L89 1396.7L93 1396.7L97 1396.8L101 1396.8L105 1396.9L109 1396.9L113.1 1396.9L117.1 1397L121.1 1397L125.1 1397L129.1 1397L133.1 1397.1L137.1 1397.1L141.1 1397.1L145.1 1397.1L149.1 1397.1L153.1 1397.2L157.1 1397.2L161.1 1397.2L165.1 1397.2L169.1 1397.2L173.1 1397.2L177.1 1397.2L181.1 1397.2L185.1 1397.2L189.1 1397.2L193.1 1397.2L197.2 1397.2L201.2 1397.2L205.2 1397.2L209.2 1397.2L213.2 1397.2L217.2 1397.2L221.2 1397.2L225.2 1397.2L229.2 1397.2L233.2 1397.2L237.2 1397.2L241.2 1397.2L245.2 1397.2L249.2 1397.2L253.2 1397.2L257.2 1397.2L261.2 1397.2L265.2 1397.2L269.2 1397.2L273.2 1397.2L277.2 1397.2L281.2 1397.2L285.2 1397.2L289.2 1397.2L293.2 1397.2L297.2 1397.2L301.2 1397.2L305.3 1397.2L309.3 1397.2L313.3 1397.2L317.3 1397.2L321.3 1397.2L325.3 1397.2L329.3 1397.2L333.3 1397.2L337.3 1397.3L341.3 1397.3L345.3 1397.3L349.3 1397.3L353.3 1397.3L357.3 1397.3L361.3 1397.4L365.3 1397.4L369.3 1397.4L373.3 1397.4L377.3 1397.5L381.3 1397.5L385.3 1397.5L389.3 1397.6L393.3 1397.6L397.3 1397.7L401.3 1397.7L405.3 1397.7L409.3 1397.8L413.3 1397.8L417.4 1397.9L421.4 1398L425.4 1398L429.4 1398.1L433.4 1398.2L437.4 1398.2L441.4 1398.3L445.4 1398.4L449.4 1398.5L453.4 1398.5L457.4 1398.6L461.4 1398.7L465.4 1398.8L469.4 1398.9L473.4 1399L477.4 1399.1L481.4 1399.2L485.4 1399.3L489.4 1399.4L493.4 1399.6L497.4 1399.7L501.5 1399.8L505.5 1399.9L509.5 1400.1L513.5 1400.2L517.5 1400.3L521.5 1400.5L525.5 1400.6L529.5 1400.8L533.5 1400.9L537.5 1401.1L541.5 1401.2L545.5 1401.4L549.5 1401.5L553.5 1401.7L557.5 1401.9L561.5 1402L565.5 1402.2L569.5 1402.4L573.5 1402.5L577.5 1402.7L581.5 1402.9L585.5 1403L589.5 1403.2L593.5 1403.4L597.5 1403.5L601.5 1403.7L605.5 1403.9L609.5 1404.1L613.5 1404.2L617.5 1404.4L621.5 1404.6L625.5 1404.8L629.5 1404.9L633.5 1405.1L637.5 1405.3L641.5 1405.5L645.5 1405.6L649.4 1405.8L653.4 1406L657.4 1406.1L661.4 1406.3L665.4 1406.5L669.4 1406.7L673.4 1406.8L677.4 1407L681.3 1407.1L685.3 1407.3L689.3 1407.5L693.3 1407.6L697.3 1407.8L701.2 1408L705.2 1408.1L709.2 1408.3L713.2 1408.5L717.2 1408.7L721.2 1408.9L725.2 1409.1L729.2 1409.3L733.2 1409.6L737.2 1409.8L741.2 1410.1L745.2 1410.4L749.2 1410.7L753.2 1411L757.2 1411.3L761.3 1411.7L765.3 1412.1L769.3 1412.5L773.4 1412.9L777.4 1413.4L781.5 1413.9L785.6 1414.4L789.7 1414.9L793.7 1415.5L797.8 1416.1L801.9 1416.8L806 1417.5L810 1418.2L814 1419L818.1 1419.9L822 1420.8L826 1421.8L829.9 1422.9L833.8 1424L837.6 1425.2L841.4 1426.4L845.2 1427.8L848.9 1429.2L852.5 1430.8L856.1 1432.4L859.6 1434.1L863 1435.9L866.4 1437.8L869.7 1439.8L872.9 1441.9L876 1444.2L879 1446.5L881.9 1449L884.8 1451.6L887.5 1454.2L890.2 1457L892.7 1459.9L895.2 1462.9L897.6 1465.9L899.8 1469.1L902 1472.3L904.1 1475.6L906 1479L907.9 1482.5L909.7 1486L911.3 1489.6L912.9 1493.2L914.3 1496.9L915.7 1500.7L917 1504.5L918.2 1508.4L919.3 1512.2L920.4 1516.1L921.4 1520.1L922.3 1524L923.1 1528L923.9 1532L924.6 1535.9L925.3 1539.9L925.9 1543.9L926.5 1547.9L927 1551.9L927.5 1555.9L927.9 1560L928.3 1564L928.6 1568L928.9 1572L929.2 1576L929.4 1580.1L929.7 1584.1L929.9 1588.2L930 1592.2L930.2 1596.2L930.3 1600.3L930.4 1604.3L930.5 1608.4L930.6 1612.4L930.7 1616.4L930.8 1620.5L930.9 1624.5L930.9 1628.6L931 1632.6L931.1 1636.6L931.2 1640.6L931.3 1644.7L931.3 1648.7L931.4 1652.7L931.5 1656.7L931.6 1660.8L931.7 1664.8L931.9 1668.8L932 1672.8L932.1 1676.8L932.2 1680.8L932.3 1684.8L932.4 1688.8L932.6 1692.8L932.7 1696.8L932.8 1700.9L933 1704.9L933.1 1708.8L933.2 1712.8L933.4 1716.8L933.5 1720.8L933.6 1724.8L933.8 1728.8L933.9 1732.8L934 1736.8L934.2 1740.8L934.3 1744.8L934.5 1748.8L934.6 1752.8L934.8 1756.8L934.9 1760.8L935 1764.7L935.2 1768.7L935.3 1772.7L935.5 1776.7L935.6 1780.7L935.7 1784.7L935.9 1788.7L936 1792.7L936.1 1796.6L936.3 1800.6L936.4 1804.6L936.5 1808.6L936.7 1812.6L936.8 1816.6L936.9 1820.6L937 1824.6L937.1 1828.6L937.3 1832.6L937.4 1836.5L937.5 1840.5L937.6 1844.5L937.7 1848.5L937.8 1852.5L937.9 1856.5L938 1860.5L938.1 1864.5L938.2 1868.5L938.3 1872.5L938.4 1876.5L938.4 1880.5L938.5 1884.5L938.6 1888.5L938.7 1892.5L938.8 1896.5L938.8 1900.5L938.9 1904.5L939 1908.5L939 1912.6L939.1 1916.6L939.2 1920.6L939.2 1924.6L939.3 1928.6L939.4 1932.6L939.4 1936.6L939.5 1940.6L939.5 1944.6L939.6 1948.6L939.6 1952.6L939.7 1956.6L939.8 1960.6L939.8 1964.7L939.9 1968.7L939.9 1972.7L939.9 1976.7L940 1980.7L940 1984.7L940.1 1988.7L940.1 1992.7L940.2 1996.7L940.2 2000.7L940.3 2004.8L940.3 2008.8L940.3 2012.8L940.4 2016.8L940.4 2020.8L940.5 2024.8L940.5 2028.8L940.5 2032.8L940.6 2036.8L940.6 2040.9L940.7 2044.9L940.7 2048.9L940.7 2052.9L940.8 2056.9L940.8 2060.9L940.9 2064.9L940.9 2068.9L941 2072.9L941 2076.9L941 2080.9L941.1 2084.9L941.1 2089L941.2 2093L941.2 2097L941.3 2101L941.3 2105L941.4 2109L941.4 2113L941.4 2117L941.5 2121L941.6 2125L941.6 2129L941.7 2133L941.7 2137L941.8 2141L941.8 2145L941.9 2149L941.9 2153L942 2157L942.1 2161L942.1 2165L942.2 2169L942.3 2173L942.3 2177L942.4 2181L942.5 2185L942.6 2189L942.6 2192.9L942.7 2196.9L942.8 2200.9L942.9 2204.9L943 2208.9L943 2212.9L943.1 2216.9L943.2 2220.9L943.3 2224.8L943.4 2228.8" fill="none" stroke="#005248" stroke-width="5.4" stroke-dasharray="7.5 12" stroke-dashoffset="-10"/></g>
<g filter="url(#bt)">
<path d="M92.9 1344L92.9 1384" stroke="#d8003a" stroke-width="4.2" fill="none"/><path d="M92.9 1332L100.4 1347L85.4 1347ZM92.9 1396L85.4 1381L100.4 1381Z" fill="#ff0000"/>
<path d="M896.4 1438L968.3 1370" stroke="#d8003a" stroke-width="4.2" fill="none"/><path d="M887.7 1446.3L893.4 1430.5L903.7 1441.4ZM977 1361.7L971.3 1377.5L961 1366.6Z" fill="#ff0000"/>
</g>
<g filter="url(#bt)">
<path d="M70.5 1318.8H1015M73 1327.7V2229.8H1012.5M1021.5 1326.8V2232.3M73 1318.8V1300.3M1021.5 1329.3H1039.5M190.4 1318.8V1309.3M1021.5 1441.9H1031M307.9 1318.8V1300.3M1021.5 1554.4H1039.5M425.3 1318.8V1309.3M1021.5 1667H1031M542.8 1318.8V1300.3M1021.5 1779.6H1039.5M660.2 1318.8V1309.3M1021.5 1892.1H1031M777.6 1318.8V1300.3M1021.5 2004.7H1039.5M895.1 1318.8V1309.3M1021.5 2117.2H1031M1012.5 1318.8V1300.3M1021.5 2229.8H1039.5" fill="none" stroke="#4a4a4a" stroke-width="5.0"/>
<g font-family="'Liberation Serif', 'Times New Roman', Times, serif" font-size="47" fill="#242424" stroke="#242424" stroke-width="1.0">
<text transform="translate(543.2 1237.7) scale(1 1.07)" text-anchor="middle">X-Width, m</text>
<text transform="translate(73 1280.7) scale(1 1.07)" text-anchor="middle">0.00</text>
<text transform="translate(1051 1345.8) scale(1 1.07)">0.08</text>
<text transform="translate(307.9 1280.7) scale(1 1.07)" text-anchor="middle">0.02</text>
<text transform="translate(1051 1570.9) scale(1 1.07)">0.06</text>
<text transform="translate(542.8 1280.7) scale(1 1.07)" text-anchor="middle">0.04</text>
<text transform="translate(1051 1796.1) scale(1 1.07)">0.04</text>
<text transform="translate(777.6 1280.7) scale(1 1.07)" text-anchor="middle">0.06</text>
<text transform="translate(1051 2021.2) scale(1 1.07)">0.02</text>
<text transform="translate(1012.5 1280.7) scale(1 1.07)" text-anchor="middle">0.08</text>
<text transform="translate(1051 2246.3) scale(1 1.07)">0.00</text>
<text transform="translate(1176 1778.8) rotate(-90) scale(1 1.07)" text-anchor="middle">Y-Width, m</text>
<text transform="translate(98.5 2209) scale(1 1.07)" font-size="50">(c) <tspan font-style="italic">R</tspan>=10 mm</text>
</g>
<g font-family="'Liberation Serif', 'Times New Roman', Times, serif" font-size="49" font-weight="bold" fill="#ff0000">
<text transform="translate(103.9 1376.4) scale(1 1.09)" word-spacing="3">6.01 mm</text>
<text transform="translate(398.4 1384.6) skewX(-9) scale(1 1.09)" font-style="italic">f</text>
<text transform="translate(414.4 1393.1) scale(1 1.09)" font-style="italic" font-size="31.4">l</text>
<text transform="translate(422.9 1384.6) scale(1 1.09)">=0.3</text>
<text transform="translate(728 1394.6) scale(1 1.09)">10.96 mm</text>
</g>
</g>
</g>
<g id="panel-d">
<clipPath id="cd"><path d="M1276.4 1328.7H2039.4A176.1 168.8 0 0 1 2215.5 1497.5V2229H1276.4Z"/></clipPath>
<g filter="url(#bl)">
<path d="M1276.4 1328.7H2039.4A176.1 168.8 0 0 1 2215.5 1497.5V2229H1276.4Z" fill="#0000ff"/>
<g clip-path="url(#cd)">
<path d="M1268.4 1384.7L1268.4 1384.2L1507.4 1385.1L1589.4 1385.7L1660.4 1386.6L1733.4 1388.1L1803.4 1390.1L1877.4 1393L1918.4 1395.3L1950.4 1398.2L1980.4 1402.2L2007.4 1407.1L2019.4 1409.8L2031.4 1412.9L2040.9 1415.7L2050.4 1419L2058.4 1422.3L2066.4 1426.1L2073.4 1429.9L2079.4 1433.8L2085.8 1438.7L2091.5 1443.7L2096.4 1448.8L2101.4 1454.7L2105.8 1460.7L2109.7 1466.7L2113.7 1473.7L2117.4 1481.2L2121.4 1490.3L2124.6 1498.7L2131 1518.7L2136.1 1539.7L2140 1561.7L2142.5 1584.7L2143.6 1600.7L2144.4 1619.7L2146.6 1692.7L2151.6 1833.7L2153.5 1900.7L2155.7 2020.7L2158.1 2237.7L1268.4 2237.7L1268.4 1384.7Z" fill="#0016ff"/>
<path d="M1268.4 1386.7L1268.4 1385.7L1527.4 1386.7L1652.4 1388L1727.4 1389.5L1799.4 1391.5L1876.4 1394.5L1918.4 1396.8L1949.4 1399.6L1979.4 1403.6L2006.4 1408.5L2029.4 1414L2039.4 1417L2048.4 1420.2L2057.1 1423.7L2064.4 1427.2L2071.4 1431L2078.4 1435.6L2084.4 1440.1L2090.4 1445.5L2095.4 1450.7L2100.4 1456.7L2104.8 1462.7L2108.6 1468.7L2112.4 1475.3L2116.4 1483.3L2123.4 1500.3L2129.7 1519.7L2134.8 1540.7L2138.4 1561.7L2141 1584.7L2142.1 1600.7L2142.9 1619.7L2145.1 1692.7L2150.1 1833.7L2152 1900.7L2154.2 2020.7L2156.6 2237.7L1268.4 2237.7L1268.4 1386.7Z" fill="#0042ff"/>
<path d="M1268.4 1387.7L1268.4 1387.2L1506.4 1388.1L1588.4 1388.7L1659.4 1389.6L1733.4 1391.1L1803.4 1393.2L1877.4 1396L1918.4 1398.3L1950.4 1401.2L1979.4 1405.1L2006.4 1410L2018 1412.7L2029.3 1415.7L2039 1418.7L2047.4 1421.7L2055.4 1425L2063.4 1428.8L2070.3 1432.7L2076.5 1436.7L2083.1 1441.7L2088.7 1446.7L2093.5 1451.7L2098.4 1457.4L2103.1 1463.7L2107.4 1470.4L2111.4 1477.4L2115 1484.7L2118.6 1492.7L2122.1 1501.7L2128.3 1520.7L2133.2 1540.7L2136.9 1561.7L2139.5 1584.7L2140.6 1600.7L2141.4 1619.7L2143.6 1692.7L2148.6 1833.7L2150.5 1900.7L2152.7 2020.7L2155.1 2237.7L1268.4 2237.7L1268.4 1387.7Z" fill="#0078ff"/>
<path d="M1268.4 1389.7L1268.4 1388.7L1527.4 1389.7L1651.4 1391L1726.4 1392.4L1798.4 1394.5L1875.4 1397.5L1917.4 1399.8L1948.4 1402.5L1976.4 1406.2L2003.4 1411L2025.4 1416.3L2035.4 1419.3L2044.4 1422.5L2052.4 1425.7L2060.9 1429.7L2068.1 1433.7L2074.4 1437.7L2080.4 1442.2L2086.7 1447.7L2091.6 1452.7L2096.4 1458.2L2100.6 1463.7L2105.4 1470.9L2109.4 1477.7L2113.4 1485.5L2117.1 1493.7L2120.7 1502.7L2126.9 1521.7L2131.9 1541.7L2135.5 1562.7L2138 1584.7L2139.1 1600.7L2139.9 1619.7L2142.1 1692.7L2147.1 1834.7L2149 1900.7L2151.2 2020.7L2153.6 2237.7L1268.4 2237.7L1268.4 1389.7Z" fill="#00aeff"/>
<path d="M1268.4 1390.7L1268.4 1390.2L1506.4 1391.1L1588.4 1391.7L1659.4 1392.6L1732.4 1394.1L1803.4 1396.2L1877.4 1399L1918.4 1401.4L1949.4 1404.2L1978.4 1408L2003.9 1412.7L2025.4 1418L2035.4 1421.1L2044.4 1424.4L2052.4 1427.7L2060.4 1431.6L2067.4 1435.6L2073.7 1439.7L2079.4 1444.1L2085.4 1449.3L2090.6 1454.7L2095.4 1460.3L2100.2 1466.7L2104.4 1473L2108.4 1479.9L2112.4 1487.7L2119.4 1504.1L2125.6 1522.7L2130.4 1542.1L2134 1562.7L2136.5 1584.7L2137.5 1599.7L2138.4 1618.7L2140.6 1692.7L2145.6 1834.7L2147.5 1900.7L2149.7 2020.7L2152.1 2237.7L1268.4 2237.7L1268.4 1390.7Z" fill="#00daff"/>
<path d="M1268.4 1392.7L1268.4 1391.7L1527.4 1392.7L1651.4 1394L1726.4 1395.4L1798.4 1397.5L1874.4 1400.4L1917.4 1402.8L1948.4 1405.6L1976.4 1409.2L2001.4 1413.8L2012.4 1416.3L2023.4 1419.2L2033.4 1422.3L2042.4 1425.5L2050.4 1428.9L2058.2 1432.7L2065.3 1436.7L2071.5 1440.7L2078.1 1445.7L2083.8 1450.7L2088.7 1455.7L2093.4 1461.1L2097.7 1466.7L2102.5 1473.7L2106.7 1480.7L2110.9 1488.7L2114.4 1496.4L2118.2 1505.7L2124.2 1523.7L2129 1542.7L2132.5 1562.7L2135 1584.7L2136.1 1600.7L2136.9 1618.7L2139.1 1692.7L2144.1 1834.7L2146 1900.7L2148.2 2019.7L2150.6 2237.7L1268.4 2237.7L1268.4 1392.7Z" fill="#00fff9"/>
<path d="M1268.4 1393.7L1268.4 1393.2L1506.4 1394.1L1588.4 1394.7L1659.4 1395.6L1733.4 1397.1L1804.4 1399.2L1877.4 1402.1L1918.4 1404.4L1949.4 1407.2L1977.4 1410.9L2001.4 1415.4L2012.4 1417.9L2023.4 1420.9L2032.4 1423.8L2042.4 1427.5L2049.8 1430.7L2057.4 1434.5L2064.4 1438.5L2070.7 1442.7L2076.4 1447L2082.4 1452.3L2087.7 1457.7L2092.8 1463.7L2097.4 1469.8L2101.4 1475.7L2105.6 1482.7L2109.4 1489.9L2113 1497.7L2116.8 1506.7L2122.8 1524.7L2127.4 1542.8L2131 1562.7L2133.5 1584.7L2134.6 1600.7L2135.4 1618.7L2137.6 1692.7L2142.7 1835.7L2144.5 1900.7L2146.7 2019.7L2149.1 2237.7L1268.4 2237.7L1268.4 1393.7Z" fill="#00ffcd"/>
<path d="M1268.4 1395.7L1268.4 1394.7L1527.4 1395.7L1652.4 1397L1728.4 1398.5L1800.4 1400.6L1875.4 1403.5L1918.4 1405.9L1947.4 1408.5L1976.4 1412.3L2000.4 1416.7L2012.4 1419.6L2021.4 1422.1L2032.4 1425.6L2040.4 1428.6L2048.4 1432.1L2056.4 1436.2L2064.4 1440.9L2070 1444.7L2076.3 1449.7L2081.4 1454.3L2086.6 1459.7L2091.7 1465.7L2096.4 1471.9L2100.9 1478.7L2105.6 1486.7L2109.2 1493.7L2115.7 1508.7L2121.4 1525.5L2126.2 1544.7L2129.7 1564.7L2132 1585.7L2133.1 1600.7L2133.9 1617.7L2136.1 1692.7L2141.4 1843.4L2143 1901.7L2145.1 2017.7L2147.6 2237.7L1268.4 2237.7L1268.4 1395.7Z" fill="#00ffa2"/>
<path d="M1268.4 1396.7L1268.4 1396.4L1500.4 1397.2L1590.4 1397.7L1665.4 1398.7L1755.4 1400.7L1818.4 1402.7L1869.4 1404.6L1870.4 1405L1890.4 1405.6L1891.4 1405.9L1908.4 1406.6L1922.4 1407.7L1953.4 1410.6L1968.4 1412.6L1969.4 1413L1975.4 1413.6L1976.4 1414L1981.4 1414.6L1997.4 1417.7L2010.1 1420.7L2020.4 1423.5L2030.2 1426.7L2040.4 1430.6L2047.3 1433.7L2055 1437.7L2063.4 1442.6L2070.4 1447.6L2079.7 1455.7L2086.4 1462.5L2087.1 1463.7L2091.4 1468.6L2096.4 1475.4L2100.5 1481.7L2104.5 1488.7L2108.4 1496.3L2115.5 1512.7L2120.4 1527.8L2124.5 1543.7L2126.4 1553.5L2128.4 1566.4L2130.4 1584.7L2131.4 1597.7L2132.2 1617.7L2132.5 1618.7L2134.3 1684.7L2138.5 1798.7L2139.2 1826.7L2139.5 1827.7L2140.2 1858.7L2140.5 1859.7L2141.2 1896.7L2141.5 1897.7L2142.2 1941.7L2142.5 1942.7L2143.2 2000.7L2143.5 2001.7L2146 2237.7L1268.4 2237.7L1268.4 1396.7Z" fill="#00ff76"/>
<path d="M1268.4 1399.7L1268.4 1398.7L1524.4 1399.8L1650.4 1401.1L1726.4 1402.6L1799.4 1404.7L1873.4 1407.5L1916.4 1409.9L1946.4 1412.6L1973.4 1416.1L1997.4 1420.6L2008.4 1423.2L2018.4 1426L2028.4 1429.2L2037.4 1432.7L2045.4 1436.2L2052.2 1439.7L2059 1443.7L2065.4 1448L2071.5 1452.7L2077.4 1458L2083 1463.7L2088.1 1469.7L2093.3 1476.7L2097.3 1482.7L2101.4 1489.7L2105.1 1496.7L2108.4 1503.7L2112.1 1512.7L2117.8 1529.7L2122.3 1547.7L2125.7 1567.7L2128.1 1588.7L2129.3 1605.7L2130.1 1624.7L2136.8 1815.7L2139 1889.7L2141.3 2008.7L2144 2237.7L1268.4 2237.7L1268.4 1399.7Z" fill="#00ff4a"/>
<path d="M1268.4 1401.7L1268.4 1401.3L1502.4 1402.3L1585.4 1402.9L1657.4 1403.9L1732.4 1405.4L1804.4 1407.5L1876.4 1410.3L1916.4 1412.6L1946.4 1415.3L1973.4 1418.9L1997.4 1423.5L2017.4 1428.7L2026.4 1431.7L2034.4 1434.7L2042.4 1438.3L2050.4 1442.3L2057.4 1446.5L2063.6 1450.7L2070 1455.7L2075.4 1460.6L2080.4 1465.8L2085.5 1471.7L2090.4 1478.2L2094.7 1484.7L2098.9 1491.7L2102.6 1498.7L2106.3 1506.7L2109.6 1514.7L2115.2 1531.7L2119.7 1549.7L2123.1 1569.7L2125.7 1592.7L2127 1611.7L2128.1 1635.7L2133.9 1792.7L2136.6 1882.7L2138.9 2003.7L2141.9 2237.7L1268.4 2237.7L1268.4 1401.7Z" fill="#00ff1f"/>
<path d="M1268.4 1404.7L1268.4 1403.8L1518.4 1404.9L1646.4 1406.3L1722.4 1407.8L1796.4 1409.9L1872.4 1412.8L1913.4 1415L1943.4 1417.7L1969.4 1421.1L1993.4 1425.5L2013.4 1430.6L2022.4 1433.4L2031.1 1436.7L2039.4 1440.3L2046.4 1443.8L2053.4 1447.8L2060.4 1452.4L2066.4 1457L2072.4 1462.3L2077.7 1467.7L2082.9 1473.7L2087.5 1479.7L2092.2 1486.7L2096.4 1493.7L2100 1500.7L2103.7 1508.7L2107 1516.7L2112.6 1533.7L2117.3 1552.7L2120.7 1572.7L2123.3 1595.7L2125.3 1627.7L2128.6 1708.7L2131.8 1796.7L2134.1 1871.7L2136.5 1994.7L2139.8 2237.7L1268.4 2237.7L1268.4 1404.7Z" fill="#11ff00"/>
<path d="M1268.4 1406.7L1268.4 1406.3L1496.4 1407.4L1580.4 1408.1L1653.4 1409.1L1729.4 1410.7L1802.4 1412.8L1874.4 1415.5L1913.4 1417.7L1942.4 1420.3L1969.4 1423.8L1992.4 1428.1L2012.4 1433.3L2021.4 1436.2L2030.4 1439.7L2038.4 1443.2L2045.4 1446.8L2052.1 1450.7L2058.4 1455L2064.5 1459.7L2070.4 1465L2075.4 1470.1L2080.4 1475.8L2084.9 1481.7L2089.7 1488.7L2093.8 1495.7L2097.5 1502.7L2101.2 1510.7L2104.4 1518.7L2107.6 1527.7L2110.3 1536.7L2114.9 1555.7L2118.4 1576.7L2121 1599.7L2123.1 1631.7L2126.4 1708.7L2129.4 1788.7L2131.6 1861.7L2134.1 1984.7L2137.7 2237.7L1268.4 2237.7L1268.4 1406.7Z" fill="#49ff00"/>
<path d="M1268.4 1409.7L1268.4 1408.8L1441.4 1409.7L1552.4 1410.4L1643.4 1411.6L1721.4 1413.1L1797.4 1415.3L1872.4 1418L1912.4 1420.3L1942.4 1423L1968.4 1426.5L1990.4 1430.6L2000.4 1433L2010.4 1435.7L2019.4 1438.7L2028.4 1442.1L2036.4 1445.7L2043.4 1449.3L2050.4 1453.4L2056.6 1457.7L2062.4 1462.2L2068.4 1467.6L2073.4 1472.7L2078.5 1478.7L2083.4 1485.2L2087.7 1491.7L2091.8 1498.7L2095.5 1505.7L2099.1 1513.7L2102.4 1522.1L2108 1539.7L2112.7 1559.7L2116.2 1580.7L2118.8 1604.7L2120.9 1637.7L2124.3 1709.7L2127 1780.7L2129.1 1851.7L2131.7 1975.7L2135.5 2237.7L1268.4 2237.7L1268.4 1409.7Z" fill="#81ff00"/>
<path d="M1268.4 1411.7L1268.4 1411.3L1490.4 1412.5L1575.4 1413.3L1650.4 1414.3L1727.4 1416L1802.4 1418.1L1872.4 1420.7L1911.4 1422.8L1940.4 1425.5L1966.4 1428.9L1988.4 1433L2007.4 1437.9L2016.4 1440.8L2024.4 1443.8L2033.4 1447.7L2040.4 1451.2L2047.4 1455.3L2053.4 1459.4L2059.4 1464L2065.4 1469.3L2070.7 1474.7L2075.9 1480.7L2080.5 1486.7L2085.2 1493.7L2089.3 1500.7L2092.9 1507.7L2096.6 1515.7L2099.7 1523.7L2105.2 1540.7L2107.7 1550.7L2110.1 1561.7L2113.8 1583.7L2116.4 1607.7L2118.7 1640.7L2122 1707.7L2124.5 1771.7L2126.6 1840.7L2129.3 1964.7L2133.4 2237.7L1268.4 2237.7L1268.4 1411.7Z" fill="#b9ff00"/>
<path d="M1268.4 1414.7L1268.4 1413.8L1432.4 1414.7L1546.4 1415.6L1639.4 1416.8L1719.4 1418.4L1798.4 1420.6L1871.4 1423.3L1910.4 1425.4L1938.4 1428L1964.4 1431.4L1987.4 1435.7L2005.4 1440.3L2015.4 1443.6L2023.4 1446.6L2031.4 1450.2L2038.4 1453.7L2044.4 1457.2L2051.4 1461.9L2057.6 1466.7L2063.2 1471.7L2068.4 1477L2073.4 1482.8L2077.9 1488.7L2082.7 1495.7L2086.8 1502.7L2090.4 1509.7L2094.4 1518.6L2097.4 1526.4L2100.2 1534.7L2103.1 1544.7L2107.8 1564.7L2111.5 1587.7L2114.3 1612.7L2116.7 1647.7L2119.8 1708.7L2122.2 1767.7L2124.2 1832.7L2126.8 1953.7L2131.3 2237.7L1268.4 2237.7L1268.4 1414.7Z" fill="#f0ff00"/>
<path d="M1268.4 1416.7L1268.4 1416.3L1493.4 1417.7L1654.4 1419.6L1778.4 1422.6L1865.4 1425.6L1866.4 1425.9L1887.4 1426.5L1888.4 1426.9L1904.4 1427.6L1905.4 1427.9L1917.4 1428.6L1918.4 1428.9L1928.4 1429.5L1929.4 1429.9L1938.4 1430.6L1939.4 1430.9L1946.4 1431.6L1961.4 1433.7L1983.4 1437.5L1984.4 1438L1991.4 1439.5L2006.4 1443.5L2015.4 1446.6L2020.6 1448.7L2027.4 1451.6L2035.4 1455.7L2043.4 1460.4L2049.4 1464.4L2054.8 1468.7L2061.4 1474.5L2065.6 1478.7L2066.2 1479.7L2071.6 1485.7L2079.6 1496.7L2083.4 1503.2L2087.4 1510.7L2093.6 1524.7L2099.5 1542.7L2101.6 1550.7L2105.5 1567.7L2107.1 1577.7L2107.5 1578.7L2109.1 1591.7L2109.6 1592.7L2110.1 1599.7L2110.6 1600.7L2111.1 1608.7L2111.5 1609.7L2112.1 1619.7L2112.5 1620.7L2115.4 1665.7L2118.4 1726.7L2120.5 1778.7L2121.2 1810.7L2121.5 1811.7L2122.2 1847.7L2122.5 1848.7L2124.2 1943.7L2124.5 1944.7L2125.2 2002.7L2125.5 2003.7L2126.2 2069.7L2126.5 2070.7L2127.2 2135.7L2127.5 2136.7L2129 2237.7L1268.4 2237.7L1268.4 1416.7Z" fill="#ffee00"/>
<path d="M1268.4 1418.7L1268.4 1417.8L1411.4 1418.6L1536.4 1419.6L1636.4 1421L1715.4 1422.7L1793.4 1424.9L1869.4 1427.6L1907.4 1429.8L1936.4 1432.4L1962.4 1435.8L1983.4 1439.6L2002.4 1444.4L2011.4 1447.3L2020.4 1450.7L2027.1 1453.7L2034.4 1457.4L2041.4 1461.4L2047.7 1465.7L2053.4 1470.1L2059.4 1475.4L2064.6 1480.7L2069.8 1486.7L2075.1 1493.7L2079.1 1499.7L2082.6 1505.7L2086.7 1513.7L2090.6 1522.7L2093.6 1530.7L2096.5 1539.7L2099.3 1549.7L2103.8 1569.7L2107.4 1592.7L2110.2 1617.7L2112.7 1653.7L2115.7 1709.7L2118 1764.7L2120 1826.7L2122.7 1948.7L2127.4 2237.7L1268.4 2237.7L1268.4 1418.7Z" fill="#ffdc00"/>
<path d="M1268.4 1419.7L1268.4 1419.2L1466.4 1420.5L1562.4 1421.5L1645.4 1422.8L1723.4 1424.5L1797.4 1426.7L1867.4 1429.4L1906.4 1431.6L1935.4 1434.2L1961.4 1437.6L1983.4 1441.6L2002.4 1446.5L2011.4 1449.4L2019.4 1452.5L2026.4 1455.5L2033.4 1459.1L2039.7 1462.7L2046.4 1467.2L2052.4 1471.8L2057.9 1476.7L2063.4 1482.3L2068.4 1488.1L2073.3 1494.7L2077.3 1500.7L2081.4 1507.7L2085 1514.7L2088.1 1521.7L2091.4 1530.4L2094.4 1539.7L2097 1548.7L2101.7 1569.7L2105.4 1592.7L2108.2 1618.7L2110.8 1654.7L2113.8 1710.7L2116.1 1765.7L2118.1 1827.7L2120.9 1950.7L2125.6 2237.7L1268.4 2237.7L1268.4 1419.7Z" fill="#ffca00"/>
<path d="M1268.4 1420.7L1500.4 1422.4L1654.4 1424.6L1730.4 1426.4L1801.4 1428.6L1867.4 1431.2L1905.4 1433.4L1934.4 1436L1960.4 1439.4L1981.4 1443.1L2000.4 1447.9L2009.4 1450.8L2017.4 1453.8L2025.4 1457.2L2032.2 1460.7L2039.1 1464.7L2045.1 1468.7L2050.4 1472.8L2056.4 1478.1L2061.4 1483.1L2066.4 1488.8L2070.9 1494.7L2075.6 1501.7L2079.7 1508.7L2083.2 1515.7L2086.4 1522.8L2089.8 1531.7L2095.2 1549.7L2099.8 1570.7L2103.5 1593.7L2106.3 1619.7L2108.9 1655.7L2111.9 1712.7L2114.3 1768.7L2116.3 1830.7L2119.1 1954.7L2123.8 2237.7L1268.4 2237.7L1268.4 1420.7Z" fill="#ffb900"/>
<path d="M1268.4 1422.7L1268.4 1422L1445.4 1423.4L1552.4 1424.6L1643.4 1426.1L1721.4 1427.9L1793.4 1430.1L1863.4 1432.8L1903.4 1435.1L1933.4 1437.8L1959.4 1441.2L1980.4 1444.9L1999.4 1449.6L2008.4 1452.5L2016.4 1455.5L2024.4 1459L2031.4 1462.5L2038.4 1466.6L2044.4 1470.7L2049.6 1474.7L2055.4 1479.9L2060.4 1485L2065.4 1490.8L2069.9 1496.7L2074.4 1503.5L2078.5 1510.7L2082 1517.7L2088 1532.7L2093.4 1550.7L2098 1571.7L2101.5 1594.7L2104.3 1620.7L2107 1657.7L2110 1714.7L2112.4 1770.7L2114.5 1833.7L2117.3 1958.7L2122 2237.7L1268.4 2237.7L1268.4 1422.7Z" fill="#ffa700"/>
<path d="M1268.4 1423.7L1268.4 1423.4L1485.4 1425.3L1574.4 1426.5L1653.4 1427.9L1728.4 1429.7L1797.4 1431.9L1863.4 1434.7L1902.4 1436.9L1932.4 1439.6L1959.4 1443.1L1980.4 1446.9L1999.4 1451.7L2008.4 1454.6L2016.4 1457.6L2023.4 1460.7L2030.4 1464.2L2037.4 1468.3L2043.4 1472.4L2048.9 1476.7L2054.4 1481.7L2059.4 1486.8L2064.4 1492.7L2068.9 1498.7L2073.4 1505.7L2077.4 1512.7L2080.8 1519.7L2086.6 1534.7L2091.6 1551.7L2096.1 1572.7L2099.6 1595.7L2102.5 1622.7L2105.2 1660.7L2108.2 1717.7L2110.6 1774.7L2112.7 1836.7L2115.6 1961.7L2120.2 2237.7L1268.4 2237.7L1268.4 1423.7Z" fill="#ff9500"/>
<path d="M1268.4 1425.7L1268.4 1424.8L1421.4 1426.2L1541.4 1427.6L1641.4 1429.3L1718.4 1431.1L1789.4 1433.4L1858.4 1436.2L1899.4 1438.6L1929.4 1441.2L1957.1 1444.7L1978.4 1448.4L1997.4 1453.1L2005.7 1455.7L2013.9 1458.7L2021.4 1461.9L2028.4 1465.4L2035.4 1469.4L2041.4 1473.4L2046.9 1477.7L2052.6 1482.7L2057.5 1487.7L2062.4 1493.4L2067.1 1499.7L2071.1 1505.7L2075.1 1512.7L2078.6 1519.7L2081.6 1526.7L2084.6 1534.7L2089.5 1551.7L2094 1572.7L2097.7 1596.7L2100.4 1622.7L2103.2 1660.7L2106.3 1718.7L2108.8 1776.7L2110.8 1838.7L2113.8 1965.7L2118.4 2237.7L1268.4 2237.7L1268.4 1425.7Z" fill="#ff8400"/>
<path d="M1268.4 1426.7L1268.4 1426.3L1468.4 1428.2L1566.4 1429.6L1652.4 1431.2L1726.4 1433L1793.4 1435.3L1859.4 1438.1L1899.4 1440.5L1929.4 1443.2L1956.4 1446.6L1978.4 1450.4L1996.4 1454.8L2005.4 1457.7L2013.4 1460.6L2020.4 1463.6L2027.4 1467.1L2034.4 1471.1L2040.4 1475.2L2046.2 1479.7L2051.4 1484.3L2056.6 1489.7L2061.4 1495.3L2066.1 1501.7L2070 1507.7L2073.4 1513.7L2076.9 1520.7L2079.9 1527.7L2082.8 1535.7L2087.7 1552.7L2092.2 1573.7L2095.8 1597.7L2098.6 1624.7L2101.3 1663.7L2104.5 1721.7L2107 1779.7L2109.1 1842.7L2112.1 1969.7L2116.6 2237.7L1268.4 2237.7L1268.4 1426.7Z" fill="#ff7500"/>
<path d="M1268.4 1427.7L1500.4 1430.2L1660.4 1433L1731.4 1434.9L1795.4 1437.1L1857.4 1439.8L1897.4 1442.2L1928.4 1445L1955.4 1448.4L1976.4 1452L1995.4 1456.6L2011.4 1461.9L2019.4 1465.3L2026.4 1468.8L2033.2 1472.7L2039.1 1476.7L2044.4 1480.8L2049.9 1485.7L2054.8 1490.7L2059.9 1496.7L2064.4 1502.7L2068.3 1508.7L2071.7 1514.7L2075.2 1521.7L2078.2 1528.7L2081.1 1536.7L2085.9 1553.7L2090.3 1574.7L2093.8 1598.7L2096.7 1625.7L2099.4 1664.7L2102.6 1723.7L2105.1 1781.7L2107.3 1845.7L2110.3 1972.7L2114.8 2237.7L1268.4 2237.7L1268.4 1427.7Z" fill="#ff6600"/>
<path d="M1268.4 1429.7L1268.4 1429.1L1448.4 1431L1555.4 1432.6L1648.4 1434.4L1722.4 1436.3L1788.4 1438.5L1852.4 1441.4L1894.4 1443.9L1925.4 1446.6L1953.4 1450L1975.2 1453.7L1993.4 1458L2002.4 1460.8L2010.4 1463.6L2017.4 1466.6L2024.4 1470L2031 1473.7L2037.1 1477.7L2043.4 1482.5L2048.4 1487L2053.4 1492.1L2058.2 1497.7L2062.7 1503.7L2066.6 1509.7L2070.4 1516.4L2073.5 1522.7L2076.4 1529.7L2079.3 1537.7L2084.1 1554.7L2088.4 1575.7L2091.9 1599.7L2094.7 1626.7L2097.5 1666.7L2100.7 1725.7L2103.3 1783.7L2105.4 1847.7L2108.5 1975.7L2113 2237.7L1268.4 2237.7L1268.4 1429.7Z" fill="#ff5700"/>
<path d="M1268.4 1430.7L1485.4 1433L1576.4 1434.5L1658.4 1436.3L1728.4 1438.2L1791.4 1440.4L1852.4 1443.2L1893.4 1445.7L1924.4 1448.4L1952.4 1451.8L1974.4 1455.5L1993.4 1460L2002.4 1462.8L2010.4 1465.7L2017.4 1468.7L2024.4 1472.2L2030.5 1475.7L2036.5 1479.7L2042.4 1484.3L2047.3 1488.7L2052.2 1493.7L2056.4 1498.7L2060.9 1504.7L2064.9 1510.7L2068.4 1516.9L2071.8 1523.7L2074.7 1530.7L2077.6 1538.7L2082.3 1555.7L2086.5 1576.7L2090 1600.7L2092.9 1628.7L2095.7 1668.7L2098.9 1728.7L2101.5 1787.7L2103.7 1851.7L2106.8 1979.7L2111.2 2237.7L1268.4 2237.7L1268.4 1430.7Z" fill="#ff4700"/>
<path d="M1268.4 1432.7L1268.4 1431.9L1426.4 1433.8L1543.4 1435.5L1644.4 1437.6L1718.4 1439.5L1783.4 1441.8L1847.4 1444.7L1890.4 1447.3L1921.4 1450L1950.4 1453.5L1972.4 1457.1L1990.4 1461.2L2006.4 1466.3L2014.4 1469.5L2021.4 1472.9L2028.3 1476.7L2034.4 1480.7L2040.4 1485.2L2045.4 1489.7L2050.4 1494.7L2055.4 1500.6L2059.4 1506L2063.4 1512.1L2067.1 1518.7L2070.5 1525.7L2075.8 1539.7L2080.5 1556.7L2084.6 1577.7L2088.1 1601.7L2090.8 1628.7L2093.7 1668.7L2097 1729.7L2099.6 1788.7L2101.9 1853.7L2105 1981.7L2109.4 2237.7L1268.4 2237.7L1268.4 1432.7Z" fill="#ff3a00"/>
<path d="M1268.4 1433.7L1268.4 1433.4L1467.4 1435.8L1565.4 1437.5L1654.4 1439.4L1725.4 1441.4L1787.4 1443.7L1847.4 1446.5L1889.4 1449.1L1921.4 1451.9L1950.4 1455.4L1972.4 1459.1L1990.4 1463.2L1999.4 1465.9L2007.2 1468.7L2014.4 1471.7L2021.4 1475.1L2027.4 1478.5L2033.4 1482.4L2039.4 1487L2044.6 1491.7L2049.5 1496.7L2054.4 1502.5L2058.4 1508L2062.1 1513.7L2065.4 1519.7L2068.8 1526.7L2074.1 1540.7L2078.7 1557.7L2082.7 1578.7L2086.3 1603.7L2089 1630.7L2091.9 1671.7L2095.2 1732.7L2097.8 1792.7L2100.1 1856.7L2103.2 1985.7L2107.6 2237.7L1268.4 2237.7L1268.4 1433.7Z" fill="#ff3000"/>
<path d="M1268.4 1435.7L1268.4 1434.8L1403.4 1436.4L1530.4 1438.4L1640.4 1440.7L1716.4 1442.8L1779.4 1445.1L1840.4 1447.9L1886.4 1450.7L1919.4 1453.6L1949.4 1457.2L1971.4 1460.8L1989.4 1465L2005.4 1470.1L2012.4 1473L2020.2 1476.7L2027.2 1480.7L2033.2 1484.7L2038.4 1488.8L2043.4 1493.3L2048.4 1498.5L2052.8 1503.7L2057.2 1509.7L2060.9 1515.7L2064.4 1522L2067.5 1528.7L2072.7 1542.7L2077.1 1559.7L2081 1580.7L2084.3 1604.7L2087.1 1632.7L2090.1 1674.7L2093.4 1735.7L2096 1795.7L2098.3 1860.7L2101.5 1988.7L2105.8 2237.7L1268.4 2237.7L1268.4 1435.7Z" fill="#ff2600"/>
<path d="M1268.4 1436.7L1268.4 1436.2L1448.4 1438.6L1554.4 1440.5L1650.4 1442.6L1720.4 1444.7L1784.4 1447L1839.4 1449.6L1884.4 1452.4L1918.4 1455.4L1947.4 1458.9L1969.4 1462.4L1987.4 1466.5L2003.4 1471.5L2010.4 1474.2L2018.4 1478L2025 1481.7L2031.4 1485.9L2037.4 1490.5L2042 1494.7L2050.4 1503.9L2054.4 1509.2L2058.6 1515.7L2064.9 1527.7L2067.8 1534.7L2070.6 1542.7L2075.1 1559.7L2079 1580.7L2082.4 1605.7L2085.2 1633.7L2088.2 1676.7L2091.5 1737.7L2094.2 1796.7L2096.5 1862.7L2099.7 1989.7L2104 2237.7L1268.4 2237.7L1268.4 1436.7Z" fill="#ff1d00"/>
<path d="M1268.4 1439.7L1268.4 1439.2L1444.4 1441.6L1551.4 1443.6L1647.4 1445.8L1718.4 1447.9L1776.4 1450L1832.4 1452.6L1879.4 1455.5L1912.4 1458.3L1942.4 1461.8L1965.4 1465.3L1985.4 1469.6L2000.4 1474.1L2008.4 1477.2L2015.4 1480.5L2021.4 1483.7L2028.4 1488.1L2034.4 1492.7L2039.4 1497.2L2043.8 1501.7L2048.4 1507.2L2052.4 1512.6L2056.3 1518.7L2059.5 1524.7L2062.8 1531.7L2065.2 1537.7L2067.8 1545.7L2071.8 1561.7L2075.8 1583.7L2079 1607.7L2081.8 1635.7L2084.8 1679.7L2088.1 1740.7L2090.8 1800.7L2093.1 1865.7L2096.3 1992.7L2100.6 2237.7L1268.4 2237.7L1268.4 1439.7Z" fill="#fdfdfd"/>
</g></g>
<g filter="url(#bd)" clip-path="url(#cd)"><path d="M1276.5 1396L1280.5 1396L1284.5 1396.1L1288.5 1396.1L1292.5 1396.1L1296.4 1396.2L1300.4 1396.2L1304.4 1396.3L1308.4 1396.3L1312.4 1396.3L1316.4 1396.4L1320.4 1396.4L1324.4 1396.4L1328.4 1396.5L1332.4 1396.5L1336.4 1396.5L1340.4 1396.5L1344.4 1396.6L1348.4 1396.6L1352.4 1396.6L1356.4 1396.6L1360.4 1396.7L1364.4 1396.7L1368.4 1396.7L1372.4 1396.7L1376.4 1396.7L1380.4 1396.7L1384.4 1396.8L1388.4 1396.8L1392.4 1396.8L1396.4 1396.8L1400.4 1396.8L1404.4 1396.8L1408.4 1396.9L1412.4 1396.9L1416.4 1396.9L1420.4 1396.9L1424.4 1396.9L1428.4 1396.9L1432.4 1396.9L1436.4 1396.9L1440.4 1397L1444.4 1397L1448.4 1397L1452.4 1397L1456.4 1397L1460.4 1397L1464.4 1397L1468.4 1397L1472.4 1397L1476.4 1397.1L1480.4 1397.1L1484.4 1397.1L1488.4 1397.1L1492.4 1397.1L1496.4 1397.1L1500.4 1397.1L1504.4 1397.1L1508.4 1397.2L1512.4 1397.2L1516.4 1397.2L1520.4 1397.2L1524.5 1397.2L1528.5 1397.3L1532.5 1397.3L1536.5 1397.3L1540.5 1397.3L1544.5 1397.3L1548.5 1397.4L1552.5 1397.4L1556.5 1397.4L1560.5 1397.4L1564.5 1397.5L1568.5 1397.5L1572.5 1397.5L1576.5 1397.5L1580.5 1397.6L1584.5 1397.6L1588.5 1397.6L1592.5 1397.7L1596.5 1397.7L1600.5 1397.8L1604.5 1397.8L1608.5 1397.8L1612.5 1397.9L1616.5 1397.9L1620.5 1398L1624.5 1398L1628.5 1398.1L1632.5 1398.1L1636.5 1398.2L1640.5 1398.2L1644.5 1398.3L1648.5 1398.3L1652.5 1398.4L1656.5 1398.5L1660.5 1398.5L1664.5 1398.6L1668.5 1398.7L1672.5 1398.7L1676.5 1398.8L1680.5 1398.9L1684.5 1398.9L1688.5 1399L1692.5 1399.1L1696.5 1399.2L1700.5 1399.3L1704.5 1399.4L1708.5 1399.5L1712.4 1399.5L1716.4 1399.6L1720.4 1399.7L1724.4 1399.8L1728.4 1399.9L1732.4 1400L1736.4 1400.1L1740.4 1400.3L1744.4 1400.4L1748.4 1400.5L1752.4 1400.6L1756.4 1400.7L1760.4 1400.8L1764.3 1400.9L1768.3 1401.1L1772.3 1401.2L1776.3 1401.3L1780.3 1401.4L1784.3 1401.6L1788.3 1401.7L1792.3 1401.8L1796.3 1402L1800.3 1402.1L1804.3 1402.3L1808.3 1402.4L1812.3 1402.6L1816.2 1402.7L1820.2 1402.8L1824.2 1403L1828.2 1403.2L1832.2 1403.3L1836.2 1403.5L1840.2 1403.6L1844.2 1403.8L1848.2 1403.9L1852.2 1404.1L1856.2 1404.3L1860.2 1404.4L1864.2 1404.6L1868.2 1404.8L1872.2 1405L1876.2 1405.1L1880.2 1405.3L1884.2 1405.5L1888.1 1405.7L1892.1 1405.9L1896.1 1406.1L1900.1 1406.3L1904.1 1406.5L1908.1 1406.7L1912.1 1406.9L1916.2 1407.2L1920.2 1407.5L1924.2 1407.7L1928.2 1408L1932.2 1408.4L1936.2 1408.7L1940.2 1409.1L1944.2 1409.4L1948.2 1409.9L1952.2 1410.3L1956.2 1410.8L1960.2 1411.3L1964.3 1411.8L1968.3 1412.3L1972.3 1412.9L1976.3 1413.6L1980.3 1414.2L1984.4 1414.9L1988.4 1415.7L1992.4 1416.5L1996.4 1417.3L2000.4 1418.2L2004.4 1419.1L2008.4 1420.1L2012.3 1421.1L2016.2 1422.2L2020.1 1423.4L2024 1424.6L2027.8 1425.9L2031.6 1427.3L2035.4 1428.7L2039 1430.2L2042.7 1431.8L2046.3 1433.4L2049.8 1435.2L2053.3 1437L2056.7 1438.9L2060.1 1440.9L2063.3 1443L2066.5 1445.1L2069.6 1447.4L2072.7 1449.8L2075.6 1452.2L2078.5 1454.8L2081.3 1457.5L2084 1460.2L2086.6 1463.1L2089.1 1466L2091.5 1469L2093.9 1472L2096.2 1475.2L2098.4 1478.4L2100.5 1481.7L2102.6 1485L2104.5 1488.5L2106.4 1491.9L2108.2 1495.4L2110 1499L2111.6 1502.6L2113.2 1506.3L2114.7 1510L2116.1 1513.7L2117.5 1517.5L2118.7 1521.3L2119.9 1525.1L2121.1 1529L2122.1 1532.9L2123.1 1536.8L2124 1540.7L2124.9 1544.6L2125.6 1548.5L2126.3 1552.5L2127 1556.5L2127.6 1560.4L2128.2 1564.4L2128.7 1568.4L2129.1 1572.4L2129.5 1576.4L2129.9 1580.5L2130.2 1584.5L2130.5 1588.5L2130.8 1592.6L2131.1 1596.6L2131.3 1600.7L2131.5 1604.7L2131.7 1608.8L2131.8 1612.8L2132 1616.9L2132.1 1621L2132.3 1625L2132.4 1629.1L2132.5 1633.1L2132.7 1637.2L2132.8 1641.2L2132.9 1645.2L2133.1 1649.3L2133.2 1653.3L2133.4 1657.3L2133.5 1661.4L2133.6 1665.4L2133.8 1669.4L2133.9 1673.4L2134.1 1677.4L2134.2 1681.4L2134.4 1685.4L2134.5 1689.5L2134.7 1693.5L2134.8 1697.5L2135 1701.5L2135.2 1705.5L2135.3 1709.5L2135.5 1713.5L2135.6 1717.4L2135.8 1721.4L2135.9 1725.4L2136.1 1729.4L2136.2 1733.4L2136.4 1737.4L2136.5 1741.4L2136.7 1745.4L2136.8 1749.3L2137 1753.3L2137.1 1757.3L2137.3 1761.3L2137.4 1765.3L2137.6 1769.2L2137.7 1773.2L2137.9 1777.2L2138 1781.2L2138.2 1785.1L2138.3 1789.1L2138.4 1793.1L2138.6 1797.1L2138.7 1801.1L2138.8 1805L2139 1809L2139.1 1813L2139.2 1817L2139.4 1821L2139.5 1824.9L2139.6 1828.9L2139.7 1832.9L2139.9 1836.9L2140 1840.9L2140.1 1844.9L2140.2 1848.9L2140.3 1852.9L2140.4 1856.8L2140.5 1860.8L2140.6 1864.8L2140.7 1868.8L2140.8 1872.8L2140.9 1876.8L2141 1880.8L2141.1 1884.8L2141.2 1888.8L2141.3 1892.8L2141.4 1896.8L2141.5 1900.8L2141.5 1904.8L2141.6 1908.8L2141.7 1912.8L2141.8 1916.8L2141.9 1920.8L2142 1924.8L2142 1928.8L2142.1 1932.8L2142.2 1936.8L2142.2 1940.8L2142.3 1944.8L2142.4 1948.8L2142.5 1952.8L2142.5 1956.9L2142.6 1960.9L2142.7 1964.9L2142.7 1968.9L2142.8 1972.9L2142.8 1976.9L2142.9 1980.9L2143 1984.9L2143 1988.9L2143.1 1992.9L2143.1 1996.9L2143.2 2000.9L2143.2 2005L2143.3 2009L2143.4 2013L2143.4 2017L2143.5 2021L2143.5 2025L2143.6 2029L2143.6 2033L2143.7 2037L2143.7 2041L2143.8 2045L2143.8 2049L2143.9 2053.1L2143.9 2057.1L2144 2061.1L2144 2065.1L2144.1 2069.1L2144.1 2073.1L2144.2 2077.1L2144.2 2081.1L2144.2 2085.1L2144.3 2089.1L2144.3 2093.1L2144.4 2097.1L2144.4 2101.1L2144.5 2105.1L2144.5 2109.1L2144.6 2113.1L2144.6 2117.1L2144.7 2121.1L2144.7 2125.1L2144.8 2129.1L2144.8 2133.1L2144.9 2137.1L2144.9 2141.1L2145 2145.1L2145 2149.1L2145.1 2153.1L2145.1 2157.1L2145.2 2161.1L2145.3 2165.1L2145.3 2169.1L2145.4 2173L2145.4 2177L2145.5 2181L2145.5 2185L2145.6 2189L2145.7 2193L2145.7 2197L2145.8 2200.9L2145.9 2204.9L2145.9 2208.9L2146 2212.9L2146.1 2216.8L2146.1 2220.8L2146.2 2224.8L2146.3 2228.8" fill="none" stroke="#002826" stroke-width="6.4" stroke-dasharray="8.5 11" stroke-dashoffset="-10"/></g>
<g filter="url(#bt)">
<path d="M1303.2 1344L1303.2 1382.6" stroke="#d8003a" stroke-width="4.2" fill="none"/><path d="M1303.2 1332L1310.7 1347L1295.7 1347ZM1303.2 1394.6L1295.7 1379.6L1310.7 1379.6Z" fill="#ff0000"/>
<path d="M2091.7 1445.7L2152.7 1387.3" stroke="#d8003a" stroke-width="4.2" fill="none"/><path d="M2083 1454L2088.7 1438.2L2099 1449.1ZM2161.4 1379L2155.7 1394.8L2145.4 1383.9Z" fill="#ff0000"/>
</g>
<g filter="url(#bt)">
<path d="M1273.9 1318.8H2219M1276.4 1327.7V2229.8H2216.5M2225.5 1326.8V2232.3M1276.4 1318.8V1300.3M2225.5 1329.3H2243.5M1393.9 1318.8V1309.3M2225.5 1441.9H2235M1511.4 1318.8V1300.3M2225.5 1554.4H2243.5M1628.9 1318.8V1309.3M2225.5 1667H2235M1746.5 1318.8V1300.3M2225.5 1779.6H2243.5M1864 1318.8V1309.3M2225.5 1892.1H2235M1981.5 1318.8V1300.3M2225.5 2004.7H2243.5M2099 1318.8V1309.3M2225.5 2117.2H2235M2216.5 1318.8V1300.3M2225.5 2229.8H2243.5" fill="none" stroke="#4a4a4a" stroke-width="5.0"/>
<g font-family="'Liberation Serif', 'Times New Roman', Times, serif" font-size="47" fill="#242424" stroke="#242424" stroke-width="1.0">
<text transform="translate(1747 1237.7) scale(1 1.07)" text-anchor="middle">X-Width, m</text>
<text transform="translate(1276.4 1280.7) scale(1 1.07)" text-anchor="middle">0.00</text>
<text transform="translate(2255 1345.8) scale(1 1.07)">0.08</text>
<text transform="translate(1511.4 1280.7) scale(1 1.07)" text-anchor="middle">0.02</text>
<text transform="translate(2255 1570.9) scale(1 1.07)">0.06</text>
<text transform="translate(1746.5 1280.7) scale(1 1.07)" text-anchor="middle">0.04</text>
<text transform="translate(2255 1796.1) scale(1 1.07)">0.04</text>
<text transform="translate(1981.5 1280.7) scale(1 1.07)" text-anchor="middle">0.06</text>
<text transform="translate(2255 2021.2) scale(1 1.07)">0.02</text>
<text transform="translate(2216.5 1280.7) scale(1 1.07)" text-anchor="middle">0.08</text>
<text transform="translate(2255 2246.3) scale(1 1.07)">0.00</text>
<text transform="translate(2380 1778.8) rotate(-90) scale(1 1.07)" text-anchor="middle">Y-Width, m</text>
<text transform="translate(1301.9 2209) scale(1 1.07)" font-size="50">(d) <tspan font-style="italic">R</tspan>=15 mm</text>
</g>
<g font-family="'Liberation Serif', 'Times New Roman', Times, serif" font-size="49" font-weight="bold" fill="#ff0000">
<text transform="translate(1314.8 1375.8) scale(1 1.09)" word-spacing="3">5.93 mm</text>
<text transform="translate(1639 1384.6) skewX(-9) scale(1 1.09)" font-style="italic">f</text>
<text transform="translate(1655 1393.1) scale(1 1.09)" font-style="italic" font-size="31.4">l</text>
<text transform="translate(1663.5 1384.6) scale(1 1.09)">=0.3</text>
<text transform="translate(1927 1398.5) scale(1 1.09)">10.19 mm</text>
</g>
</g>
</g>
<g id="panel-e">
<clipPath id="ce"><path d="M73 2511.3H777.2A234.8 224.2 0 0 1 1012 2735.5V3408H73Z"/></clipPath>
<g filter="url(#bl)">
<path d="M73 2511.3H777.2A234.8 224.2 0 0 1 1012 2735.5V3408H73Z" fill="#0000ff"/>
<g clip-path="url(#ce)">
<path d="M65 2566.3L65 2565.9L347 2569.2L519 2571.8L574 2573.3L623 2575.2L671 2577.7L704 2580.1L734 2583.5L760 2587.9L772 2590.5L784 2593.5L796 2596.9L807 2600.6L818 2604.7L828 2608.9L838 2613.7L846.5 2618.3L855 2623.5L863 2629.1L870 2634.6L877 2640.8L883 2646.9L889 2653.7L895 2661.3L900 2668.6L905 2676.7L909.7 2685.3L914 2694.3L918.3 2704.3L922 2714.1L925.4 2724.3L928.6 2735.3L931.3 2746.3L933.8 2758.3L935.9 2770.3L939.2 2796.3L941.4 2822.3L943.6 2859.3L945.3 2897.3L946.8 2940.3L956.6 3416.3L65 3416.3L65 2566.3Z" fill="#0016ff"/>
<path d="M65 2568.3L65 2567.4L380 2571.2L514 2573.2L570 2574.7L620 2576.5L670 2579.1L704 2581.6L734 2585L760 2589.4L772 2592L784 2595L795 2598.2L806 2601.9L817 2606L827.1 2610.3L837 2615.1L846 2620L854 2625L861.6 2630.3L869.2 2636.3L876 2642.4L882 2648.5L888 2655.3L894 2663L899.1 2670.3L904 2678.3L909 2687.6L913.2 2696.3L917.4 2706.3L920.8 2715.3L924.4 2726.3L927.5 2737.3L930.2 2748.3L934.5 2771.3L937.7 2796.3L939.9 2822.3L942.1 2859.3L943.8 2897.3L945.3 2940.3L955.1 3416.3L65 3416.3L65 2568.3Z" fill="#0042ff"/>
<path d="M65 2569.3L65 2568.9L348 2572.2L520 2574.9L575 2576.3L624 2578.2L672 2580.7L705 2583.2L734 2586.6L760 2591L772 2593.6L784 2596.6L795 2599.8L806 2603.5L816 2607.3L826 2611.6L835.7 2616.3L844.7 2621.3L853 2626.4L861 2632.1L868 2637.7L875 2644L881.2 2650.3L887.3 2657.3L893 2664.6L898.3 2672.3L903 2680L908 2689.2L911.9 2697.3L916 2707L919.5 2716.3L922.8 2726.3L926 2737.3L928.6 2748.3L933 2771.3L936.2 2796.3L938.4 2822.3L940.6 2859.3L942.3 2897.3L943.8 2940.3L953.6 3416.3L65 3416.3L65 2569.3Z" fill="#0078ff"/>
<path d="M65 2571.3L65 2570.4L380 2574.2L513 2576.2L570 2577.7L620 2579.5L671 2582.2L704 2584.6L734 2588.1L760 2592.5L772 2595.1L784 2598.2L794 2601.1L805 2604.8L816 2609.1L825 2613L835 2617.9L844 2622.9L852.6 2628.3L859.6 2633.3L867 2639.3L873.7 2645.3L880 2651.7L886 2658.5L892 2666.2L897 2673.5L901.8 2681.3L906.2 2689.3L910.6 2698.3L914.8 2708.3L918.6 2718.3L921.8 2728.3L924.9 2739.3L927.3 2749.3L931.6 2772.3L934.8 2797.3L936.9 2822.3L939.1 2859.3L940.8 2897.3L942.3 2940.3L952.1 3416.3L65 3416.3L65 2571.3Z" fill="#00aeff"/>
<path d="M65 2572.3L65 2571.9L347 2575.2L518 2577.8L573 2579.3L622 2581.1L671 2583.7L704 2586.1L734 2589.6L759 2593.8L782 2599.2L794 2602.8L804 2606.1L814.8 2610.3L824 2614.3L834 2619.3L842 2623.7L850.8 2629.3L858 2634.4L865.4 2640.3L872 2646.3L878 2652.3L884 2659L889.8 2666.3L895 2673.6L899.9 2681.3L904.3 2689.3L908.8 2698.3L912.7 2707.3L916.6 2717.3L919.9 2727.3L925.3 2747.3L927.7 2758.3L929.8 2770.3L933.2 2796.3L935.4 2822.3L937.5 2858.3L939.3 2897.3L940.8 2940.3L950.6 3416.3L65 3416.3L65 2572.3Z" fill="#00daff"/>
<path d="M65 2574.3L65 2573.4L379 2577.1L512 2579.2L569 2580.6L620 2582.5L669 2585.1L704 2587.6L733 2591L758 2595.2L770 2597.8L782 2600.8L792 2603.7L803 2607.4L813 2611.3L823 2615.7L833 2620.7L841 2625.2L849 2630.2L856.1 2635.3L863.7 2641.3L871 2647.9L877 2653.9L883.6 2661.3L889.1 2668.3L894.7 2676.3L899.7 2684.3L904 2692.2L908 2700.3L911.9 2709.3L915.6 2719.3L918.9 2729.3L922 2740.3L924.5 2750.3L928.6 2772.3L931.7 2797.3L933.9 2822.3L936.1 2859.3L937.9 2898.3L939.3 2940.3L949.1 3416.3L65 3416.3L65 2574.3Z" fill="#00fff9"/>
<path d="M65 2575.3L65 2574.9L355 2578.3L524 2581L577 2582.4L626 2584.3L672 2586.8L705 2589.3L733 2592.5L746 2594.5L759 2596.9L771 2599.5L783 2602.7L793 2605.7L803 2609.1L813 2613L822 2617L830.6 2621.3L839.5 2626.3L847.3 2631.3L855.7 2637.3L863.1 2643.3L870 2649.5L876 2655.6L882 2662.3L887.6 2669.3L893 2676.9L898 2684.8L902.7 2693.3L906.2 2700.3L910.6 2710.3L914.4 2720.3L917.3 2729.3L920.5 2740.3L922.9 2750.3L927.1 2772.3L930.2 2797.3L932.4 2823.3L934.6 2860.3L936.4 2898.3L937.8 2940.3L947.6 3416.3L65 3416.3L65 2575.3Z" fill="#00ffcd"/>
<path d="M65 2577.3L65 2576.4L376 2580.1L505 2582.1L560 2583.4L614.1 2585.3L668 2588L702 2590.5L731 2593.7L757 2598L779.6 2603.3L790 2606.3L801 2610.1L811 2613.9L820 2617.9L829 2622.4L838 2627.5L847 2633.2L855 2639.1L862.6 2645.3L869 2651.1L875.1 2657.3L881.3 2664.3L886.9 2671.3L891.8 2678.3L896.3 2685.3L901.4 2694.3L904.9 2701.3L909.3 2711.3L912.4 2719.3L916 2730.3L921.4 2750.3L923.6 2761.3L925.7 2773.3L928.8 2798.3L931 2824.7L933.1 2860.3L934.9 2898.3L936.2 2939.3L946.1 3416.3L65 3416.3L65 2577.3Z" fill="#00ffa2"/>
<path d="M65 2578.3L65 2578L93 2578.2L121 2578.8L177 2579.2L178 2579.6L352 2581.3L490 2583.3L538 2584.3L573 2585.2L574 2585.6L602 2586.2L603 2586.6L625 2587.2L626 2587.5L664 2589.2L665 2589.6L680 2590.2L715 2593.2L716 2593.6L723 2594.2L744 2597.2L765 2601.2L784 2606.1L794 2609.2L805 2613.2L821 2620.2L827 2623.2L839.2 2630.3L848 2636.2L856 2642.1L861 2646.7L862 2647.2L867.4 2652.3L878.2 2663.3L878.7 2664.3L883 2669.3L889 2677.3L893.1 2683.3L900 2695.2L904.1 2703.3L905.6 2707.3L907 2710L911.1 2720.3L914.5 2731.3L915.1 2732.3L920.1 2751.3L923 2766.3L923.7 2771.3L924.1 2772.3L924.7 2778.3L925.1 2779.3L925.7 2786.3L926.1 2787.3L926.7 2794.3L927.1 2795.3L927.7 2805.3L928.1 2806.3L928.7 2817.3L929.1 2818.3L929.7 2831.3L930.1 2832.3L932.1 2868.3L934.1 2916.3L934.8 2948.3L935.1 2949.3L935.7 2992.3L936.1 2993.3L936.8 3045.3L937.1 3046.3L939.8 3197.3L940.1 3198.3L940.8 3245.3L941.1 3246.3L941.7 3293.3L942.1 3294.3L942.7 3340.3L943.1 3341.3L943.8 3388.3L944.1 3389.3L944.5 3416.3L65 3416.3L65 2578.3Z" fill="#00ff76"/>
<path d="M65 2581.3L65 2580.4L366 2583.8L506 2585.9L563 2587.3L616 2589.2L668 2591.8L701 2594.2L729 2597.3L754 2601.3L766 2603.9L777 2606.6L788 2609.9L797 2612.9L807 2616.7L815 2620.2L825 2625.2L833 2629.7L841.9 2635.3L850 2641.1L857 2646.8L864.3 2653.3L871.2 2660.3L877.5 2667.3L883 2674.3L888.1 2681.3L893.1 2689.3L897.6 2697.3L901.6 2705.3L905.6 2714.3L909 2723.3L912.3 2733.3L915.1 2743.3L917.5 2753.3L921.6 2775.3L924.7 2800.3L927.1 2828.3L929.5 2866.3L931.3 2904.3L932.8 2946.3L942.3 3416.3L65 3416.3L65 2581.3Z" fill="#00ff4a"/>
<path d="M65 2583.3L65 2582.8L316 2585.6L506 2588.3L565 2589.8L618 2591.7L669 2594.2L702 2596.6L730 2599.7L754 2603.7L765 2606.1L776 2608.8L786 2611.8L796 2615.2L805 2618.6L815 2623.1L824 2627.6L832 2632.2L839.9 2637.3L847 2642.4L854.4 2648.3L861.1 2654.3L868 2661.2L874.3 2668.3L880 2675.4L885.7 2683.3L890.7 2691.3L895 2698.9L899.2 2707.3L903.1 2716.3L906.6 2725.3L909.5 2734.3L912.4 2744.3L914.8 2754.3L918.8 2776.3L922.1 2803.3L924.9 2834.3L927.3 2870.3L929.2 2908.3L930.7 2950.3L932 3006.3L940 3416.3L65 3416.3L65 2583.3Z" fill="#00ff1f"/>
<path d="M65 2585.3L358 2588.4L508 2590.7L567 2592.3L620 2594.2L670 2596.6L702 2598.9L729 2601.9L753 2605.9L764 2608.2L775 2611L785 2614L795 2617.4L804 2621L813 2625L821.5 2629.3L830 2634.1L838 2639.3L845 2644.4L852.3 2650.3L858.9 2656.3L865.8 2663.3L872 2670.3L877.6 2677.3L883.3 2685.3L888.3 2693.3L892.8 2701.3L897.2 2710.3L901.1 2719.3L904.5 2728.3L907.4 2737.3L910.1 2747.3L912.4 2757.3L916.3 2779.3L919.9 2809.3L922.9 2842.3L925.3 2876.3L927.2 2913.3L928.7 2954.3L935 3262.3L937.6 3416.3L65 3416.3L65 2585.3Z" fill="#11ff00"/>
<path d="M65 2588.3L65 2587.7L302 2590.1L407 2591.4L493 2592.8L556 2594.3L612 2596.2L666 2598.7L700 2601L727 2603.9L751 2607.8L762 2610.2L773 2613L792 2618.9L801 2622.4L810 2626.4L818 2630.4L826.7 2635.3L834.6 2640.3L841.5 2645.3L849 2651.3L855.7 2657.3L862.7 2664.3L869 2671.4L875.3 2679.3L880.9 2687.3L886 2695.4L890.9 2704.3L895.3 2713.3L899.1 2722.3L902.4 2731.3L905.2 2740.3L907.9 2750.3L910.1 2760.3L913.9 2783.3L917.8 2816.3L920.9 2849.3L923.3 2882.3L925.2 2918.3L926.7 2959.3L932.8 3261.3L935.3 3416.3L65 3416.3L65 2588.3Z" fill="#49ff00"/>
<path d="M65 2590.3L339 2592.9L495 2595.2L558 2596.8L615 2598.7L668 2601.1L701 2603.4L727 2606.2L751 2610.2L772 2615.1L782 2618.1L791 2621.2L800 2624.7L809 2628.7L817 2632.8L825 2637.4L832.6 2642.3L840 2647.6L846.9 2653.3L853.6 2659.3L860.5 2666.3L867 2673.7L873.7 2682.3L879.2 2690.3L884.7 2699.3L889.5 2708.3L893.8 2717.3L897.8 2727.3L900.9 2736.3L903.6 2745.3L906.1 2755.3L908.1 2765.3L911.8 2789.3L916.2 2827.3L919.2 2858.3L921.5 2891.3L923.3 2926.3L924.7 2966.3L930.7 3262.3L933 3416.3L65 3416.3L65 2590.3Z" fill="#81ff00"/>
<path d="M65 2593.3L65 2592.6L274 2594.5L387 2595.8L480 2597.3L548 2598.9L609 2600.8L667 2603.4L700 2605.6L726 2608.4L749 2612.2L769 2616.8L778 2619.4L788 2622.7L797 2626.2L806 2630.1L814 2634.2L822 2638.7L829 2643.1L836.2 2648.3L843 2653.7L850.4 2660.3L857.3 2667.3L864.4 2675.3L871 2683.8L877 2692.5L882.3 2701.3L887.6 2711.3L892.2 2721.3L896 2730.9L899 2739.9L901.4 2748.3L903.7 2758.3L905.7 2768.3L909.5 2794.3L914.6 2837.3L917.4 2867.3L919.7 2899.3L921.4 2933.3L922.7 2972.3L928.6 3263.3L930.7 3416.3L65 3416.3L65 2593.3Z" fill="#b9ff00"/>
<path d="M65 2595.3L65 2595.1L323 2597.4L479 2599.6L546 2601.2L609 2603.2L668 2605.7L698 2607.7L724 2610.4L747 2614.1L767 2618.7L777 2621.6L787 2624.9L795 2628L804 2632L812 2636L819.5 2640.3L827 2645.1L834 2650.1L840.5 2655.3L847.2 2661.3L855 2669.2L862.1 2677.3L868.3 2685.3L874.5 2694.3L880.5 2704.3L885 2712.8L890 2723.8L893.7 2733.3L896.4 2741.3L898.9 2750.3L901 2759.4L903.1 2770.3L907.7 2802.3L912.8 2844.3L915.5 2873.3L917.7 2904.3L919.4 2938.3L920.7 2976.3L926.5 3263.3L927.7 3344.3L928.4 3416.3L65 3416.3L65 2595.3Z" fill="#f0ff00"/>
<path d="M65 2598.3L65 2597.6L155 2598.1L156 2598.5L280 2599.2L281 2599.5L441 2601.2L442 2601.5L493 2602.2L494 2602.5L570 2604.2L571 2604.5L600 2605.2L601 2605.5L651 2607.2L689 2609.2L690 2609.6L701.6 2610.3L720 2612.2L721 2612.6L728 2613.2L729 2613.6L740 2615.2L751 2617.2L759.7 2619.3L771 2622.3L780 2625.1L786 2627.2L798 2632.1L806.9 2636.3L816 2641.2L831 2651.2L844 2662.2L851.1 2669.3L858.1 2677.3L862.2 2682.3L870.1 2693.3L878.2 2706.3L881 2711.7L886.2 2722.3L890.2 2732.3L894.2 2744.3L897.2 2755.3L900.1 2770.3L900.8 2775.3L901.2 2776.3L904.8 2803.3L905.2 2804.3L905.8 2811.3L907.1 2819.3L911.1 2852.3L912.7 2871.3L913.1 2872.3L913.7 2883.3L914.1 2884.3L915.8 2913.3L916.1 2914.3L918.1 2958.3L919.1 2992.3L920.8 3091.3L921.1 3092.3L921.8 3141.3L922.1 3142.3L922.8 3190.3L923.1 3191.3L923.8 3244.3L924.1 3245.3L924.8 3306.3L925.1 3307.3L925.8 3406.3L926.1 3407.3L926.1 3416.3L65 3416.3L65 2598.3Z" fill="#ffee00"/>
<path d="M65 2599.3L65 2599L297 2601L451 2603.1L527 2604.8L596 2606.9L662 2609.6L695 2611.6L720 2614.2L743 2617.8L764 2622.5L774 2625.3L783 2628.3L791 2631.3L800.1 2635.3L809 2639.7L816 2643.7L823 2648.1L830 2653.1L837 2658.8L843.2 2664.3L850.1 2671.3L858 2680.3L863.4 2687.3L870.3 2697.3L876 2706.7L881.1 2716.3L885.7 2726.3L889 2734.7L891.9 2743.3L894.4 2752.3L898.4 2771.3L904.4 2812.3L908.8 2848.3L911.6 2877.3L913.8 2908.3L915.5 2942.3L916.8 2980.3L922.4 3260.3L923.7 3343.3L924.3 3416.3L65 3416.3L65 2599.3Z" fill="#ffdc00"/>
<path d="M65 2601.3L65 2600.6L251 2602.1L359 2603.3L450 2604.7L526 2606.5L594 2608.6L659 2611.3L695 2613.6L721 2616.3L743 2619.8L763 2624.3L772 2626.9L782 2630.2L791 2633.6L799.5 2637.3L807.5 2641.3L815 2645.5L822 2650L829 2655L835.6 2660.3L842 2666.1L849 2673.1L856.1 2681.3L862.4 2689.3L869 2699L874 2707.3L879.3 2717.3L883.9 2727.3L887.8 2737.3L890.5 2745.3L893 2754.5L897.1 2774.3L902.4 2810.3L906.9 2847.3L909.6 2876.3L911.9 2908.3L913.6 2942.3L914.9 2980.3L920.6 3260.3L921.8 3343.3L922.5 3416.3L65 3416.3L65 2601.3Z" fill="#ffca00"/>
<path d="M65 2602.3L65 2602.1L305 2604.2L460 2606.6L533 2608.4L598 2610.5L659 2613.1L694 2615.4L720 2618.2L743 2621.9L763 2626.4L772.9 2629.3L781.8 2632.3L791 2635.9L799 2639.4L806.8 2643.3L814 2647.4L821 2651.8L828 2656.9L834.8 2662.3L841 2668L848 2675.1L854.3 2682.3L861 2690.9L866.8 2699.3L872.2 2708.3L877.6 2718.3L881.7 2727.3L885.7 2737.3L888.4 2745.3L891 2754.3L895.3 2774.3L900.5 2809.3L904.9 2845.3L907.6 2874.3L909.9 2906.3L911.6 2941.3L913 2980.3L918.7 3259.3L920 3342.3L920.7 3416.3L65 3416.3L65 2602.3Z" fill="#ffb900"/>
<path d="M65 2604.3L65 2603.6L252 2605.2L358 2606.5L448 2608L524 2609.8L591 2612L657 2614.8L692 2617.1L718 2619.9L741 2623.5L762 2628.3L780 2633.9L789 2637.3L797 2640.8L805 2644.7L813 2649.2L820 2653.7L827 2658.7L833 2663.5L839.4 2669.3L846.3 2676.3L853 2683.9L859 2691.6L865 2700.3L871 2710.2L875.8 2719.3L880 2728.3L884 2738.3L886.7 2746.3L889.3 2755.3L893.6 2775.3L898.5 2807.3L902.9 2843.3L905.6 2873.3L907.9 2905.3L909.7 2940.3L911 2980.3L916.8 3257.3L918.1 3341.3L918.9 3416.3L65 3416.3L65 2604.3Z" fill="#ffa700"/>
<path d="M65 2605.3L65 2605.1L301 2607.3L456 2609.8L529 2611.7L594 2613.9L656 2616.6L691 2618.9L717 2621.7L740 2625.4L761 2630.2L779 2635.7L788 2639.1L796 2642.6L804 2646.6L811 2650.5L818 2654.9L825 2659.8L831.9 2665.3L838 2670.8L845 2677.9L851.5 2685.3L857.7 2693.3L863.2 2701.3L868.7 2710.3L873.6 2719.3L878.3 2729.3L882 2738.6L885 2747.3L887.6 2756.3L892 2776.3L896.6 2806.3L900.8 2841.3L903.6 2871.3L905.9 2904.3L907.7 2940.3L909.1 2980.3L915 3256.3L916.3 3341.3L917.1 3416.3L65 3416.3L65 2605.3Z" fill="#ff9500"/>
<path d="M65 2607.3L65 2606.6L251 2608.3L356 2609.6L444 2611.2L519 2613.1L587 2615.4L653 2618.3L689 2620.6L715 2623.4L738 2627.1L759 2631.8L769 2634.6L778 2637.6L787 2641L795 2644.5L803 2648.4L810 2652.3L817 2656.7L824 2661.7L831 2667.3L837 2672.7L844 2679.9L850.5 2687.3L856.6 2695.3L862 2703.2L867 2711.4L872 2720.7L876.1 2729.3L880.1 2739.3L883.2 2748.3L885.9 2757.3L890.3 2777.3L894.8 2806.3L898.8 2839.3L901.7 2870.3L904 2903.3L905.8 2939.3L907.2 2980.3L913.1 3254.3L914.5 3340.3L915.3 3416.3L65 3416.3L65 2607.3Z" fill="#ff8400"/>
<path d="M65 2608.3L65 2608.1L297 2610.4L379 2611.6L452 2613L524 2614.9L590 2617.2L652 2620.1L688 2622.5L714 2625.2L737 2628.9L758 2633.6L776.7 2639.3L786 2642.8L794 2646.3L802 2650.2L809 2654.1L816 2658.5L823 2663.5L829 2668.3L835.7 2674.3L842.5 2681.3L848.6 2688.3L854.8 2696.3L860.3 2704.3L865.8 2713.3L870.6 2722.3L874.8 2731.3L878.4 2740.3L881.5 2749.3L884 2757.7L888.5 2777.3L893 2805.3L896.8 2837.3L899.7 2868.3L902 2902.3L903.8 2938.3L905.3 2980.3L911.2 3252.3L912.6 3339.3L913.5 3416.3L65 3416.3L65 2608.3Z" fill="#ff7500"/>
<path d="M65 2610.3L65 2609.6L249 2611.4L352 2612.7L439 2614.4L513 2616.3L581 2618.6L648 2621.7L685 2624.1L712 2626.9L735 2630.6L756 2635.2L766 2638L775 2640.9L784 2644.3L792 2647.7L800 2651.6L807 2655.4L814 2659.7L821 2664.6L828 2670.2L834 2675.6L840.7 2682.3L846.8 2689.3L852.3 2696.3L858 2704.5L863 2712.6L868 2721.7L872.6 2731.3L876.3 2740.3L879.5 2749.3L882 2757.6L886.6 2777.3L890.9 2803.3L894.8 2834.3L897.6 2865.3L900 2900.3L901.9 2938.3L903.4 2980.3L909.3 3251.3L910.8 3338.3L911.7 3416.3L65 3416.3L65 2610.3Z" fill="#ff6600"/>
<path d="M65 2611.3L65 2611.1L292 2613.5L374 2614.7L446 2616.2L517 2618.1L583 2620.5L648 2623.5L684 2625.9L710 2628.6L734 2632.4L755 2637.1L774 2642.8L783 2646.1L791 2649.5L799 2653.4L807 2657.8L814 2662.2L821 2667.2L827 2672.1L833 2677.5L839.7 2684.3L845.8 2691.3L851.2 2698.3L856.8 2706.3L861.7 2714.3L866.6 2723.3L870.8 2732.3L874.6 2741.3L877.4 2749.3L880.2 2758.3L882.8 2768.3L885 2778.4L889.2 2803.3L892.9 2833.3L895.7 2864.3L898.1 2900.3L900 2938.3L901.4 2980.3L907.4 3249.3L909 3337.3L909.9 3416.3L65 3416.3L65 2611.3Z" fill="#ff5700"/>
<path d="M65 2613.3L65 2612.6L249 2614.5L351 2615.9L436 2617.6L510 2619.6L578 2622L646 2625.2L683 2627.7L709 2630.5L733 2634.3L754 2638.9L773 2644.6L781 2647.6L790 2651.4L798 2655.2L806 2659.7L813.3 2664.3L820 2669.1L826 2673.9L831.9 2679.3L838 2685.5L844 2692.3L850 2700.1L855 2707.3L860 2715.5L864.8 2724.3L869.1 2733.3L872.8 2742.3L876 2751.1L878.5 2759.3L881 2768.7L883.3 2779.3L887.6 2804.3L891 2832.3L893.7 2863.3L896.1 2899.3L898 2937.3L899.5 2981.3L905.6 3247.3L907.1 3336.3L908.1 3416.3L65 3416.3L65 2613.3Z" fill="#ff4700"/>
<path d="M65 2614.3L65 2614.1L289 2616.5L370 2617.8L442 2619.3L513 2621.4L579 2623.8L644 2626.9L681 2629.4L707 2632.2L731 2635.9L752 2640.5L762 2643.3L771.5 2646.3L788 2652.8L796 2656.6L804 2660.9L811.1 2665.3L818 2670.2L824 2675L830 2680.3L836 2686.4L842.1 2693.3L847.6 2700.3L853.2 2708.3L858 2716L862.5 2724.3L866.9 2733.3L870.7 2742.3L874 2751.3L876.8 2760.3L881.5 2779.3L885.7 2803.3L889 2830.3L891.7 2861.3L894.2 2898.3L896.1 2937.3L897.6 2981.3L903.7 3245.3L905.3 3335.3L906.3 3416.3L65 3416.3L65 2614.3Z" fill="#ff3a00"/>
<path d="M65 2616.3L65 2615.6L248 2617.6L347 2619L432 2620.7L505 2622.8L572.8 2625.3L641 2628.5L679 2631.1L705 2633.8L729 2637.6L751 2642.4L770 2648L779 2651.3L787 2654.6L796 2658.9L803 2662.8L810 2667.1L817 2672L823 2676.8L829 2682.2L835 2688.3L841.1 2695.3L846.6 2702.3L852 2710.2L857 2718.3L861.3 2726.3L865.2 2734.3L869 2743.3L872.3 2752.3L875 2760.8L879.9 2780.3L883.8 2802.3L887.2 2829.3L889.8 2859.3L892.3 2898.3L894.2 2937.3L895.7 2982.3L901.8 3243.3L903.4 3334.3L904.5 3416.3L65 3416.3L65 2616.3Z" fill="#ff3000"/>
<path d="M65 2617.3L287 2619.6L368 2621L440 2622.6L510 2624.6L577 2627.2L643 2630.5L679 2633L706 2635.9L730 2639.8L751 2644.5L770 2650.2L778.5 2653.3L787 2656.9L795 2660.8L802 2664.6L809 2668.9L815.2 2673.3L822 2678.7L828 2684.1L834 2690.3L839.3 2696.3L844.8 2703.3L850.3 2711.3L854.6 2718.3L859.6 2727.3L863.4 2735.3L867.3 2744.3L870.2 2752.3L873.5 2762.3L878.2 2781.3L882.2 2803.3L885.4 2829.3L887.8 2858.3L890.4 2898.3L892.3 2938.3L893.9 2983.3L899.9 3241.3L901.6 3334.3L902.7 3416.3L65 3416.3L65 2617.3Z" fill="#ff2600"/>
<path d="M65 2619.3L65 2618.6L249 2620.7L346 2622.2L430 2624L502 2626.1L571 2628.7L641 2632.2L677 2634.7L704 2637.6L728 2641.4L748 2645.8L759 2648.8L768 2651.7L779 2655.8L787 2659.2L795 2663.1L802 2667L808.8 2671.3L816 2676.5L822 2681.4L827 2686L833.1 2692.3L839 2699.2L844 2705.7L849.2 2713.3L854 2721.3L858 2728.7L861.7 2736.3L866 2746.5L871.8 2763.3L876.6 2782.3L880.6 2804.3L883.5 2828.3L886.1 2859.3L888.4 2897.3L890.4 2938.3L892 2985.3L898 3240.3L899.7 3333.3L900.9 3416.3L65 3416.3L65 2619.3Z" fill="#ff1d00"/>
<path d="M65 2622.3L65 2621.7L254 2623.9L347 2625.4L426 2627.1L500 2629.3L565 2631.8L635 2635.2L674 2637.9L700 2640.6L725 2644.5L746 2649.1L764.3 2654.3L773 2657.4L782 2661L791 2665.2L797 2668.4L804 2672.6L811 2677.4L817.4 2682.3L824 2688.2L830 2694.3L835.2 2700.3L841 2707.8L845.5 2714.3L853.7 2728.3L857.7 2736.3L861.7 2745.3L864.8 2753.3L868 2762.8L870.7 2772.3L873.1 2782.3L877.1 2803.3L880.1 2827.3L882.4 2855.3L884.9 2896.3L886.9 2938.3L888.5 2985.3L894.6 3241.3L897.5 3416.3L65 3416.3L65 2622.3Z" fill="#fdfdfd"/>
</g></g>
<g filter="url(#bd)" clip-path="url(#ce)"><path d="M73.5 2578L77.5 2578.1L81.4 2578.2L85.3 2578.2L89.3 2578.3L93.2 2578.3L97.2 2578.4L101.1 2578.5L105.1 2578.5L109.1 2578.6L113 2578.6L117 2578.7L121 2578.7L124.9 2578.8L128.9 2578.8L132.9 2578.9L136.8 2579L140.8 2579L144.8 2579.1L148.8 2579.1L152.8 2579.2L156.8 2579.2L160.8 2579.3L164.7 2579.3L168.7 2579.4L172.7 2579.4L176.7 2579.5L180.7 2579.5L184.7 2579.6L188.7 2579.6L192.7 2579.7L196.7 2579.7L200.7 2579.8L204.7 2579.8L208.7 2579.8L212.7 2579.9L216.8 2579.9L220.8 2580L224.8 2580L228.8 2580.1L232.8 2580.1L236.8 2580.2L240.8 2580.2L244.8 2580.3L248.9 2580.3L252.9 2580.3L256.9 2580.4L260.9 2580.4L264.9 2580.5L269 2580.5L273 2580.6L277 2580.6L281 2580.6L285 2580.7L289.1 2580.7L293.1 2580.8L297.1 2580.8L301.1 2580.9L305.1 2580.9L309.2 2581L313.2 2581L317.2 2581L321.2 2581.1L325.2 2581.1L329.3 2581.2L333.3 2581.2L337.3 2581.3L341.3 2581.3L345.3 2581.4L349.3 2581.4L353.4 2581.4L357.4 2581.5L361.4 2581.5L365.4 2581.6L369.4 2581.6L373.4 2581.7L377.4 2581.7L381.5 2581.8L385.5 2581.8L389.5 2581.9L393.5 2581.9L397.5 2582L401.5 2582L405.5 2582.1L409.5 2582.1L413.5 2582.2L417.5 2582.2L421.5 2582.3L425.5 2582.3L429.5 2582.4L433.5 2582.4L437.4 2582.5L441.4 2582.5L445.4 2582.6L449.4 2582.6L453.4 2582.7L457.4 2582.7L461.3 2582.8L465.3 2582.9L469.3 2582.9L473.3 2583L477.2 2583L481.2 2583.1L485.2 2583.2L489.1 2583.2L493.1 2583.3L497.1 2583.3L501 2583.4L505 2583.5L508.9 2583.5L512.9 2583.6L516.8 2583.7L520.8 2583.8L524.8 2583.8L528.7 2583.9L532.7 2584L536.6 2584.1L540.6 2584.2L544.5 2584.3L548.5 2584.4L552.5 2584.5L556.4 2584.6L560.4 2584.7L564.4 2584.8L568.3 2584.9L572.3 2585L576.3 2585.1L580.2 2585.3L584.2 2585.4L588.2 2585.5L592.2 2585.7L596.2 2585.8L600.1 2586L604.1 2586.1L608.1 2586.3L612.1 2586.5L616.1 2586.7L620.1 2586.8L624.1 2587L628.2 2587.2L632.2 2587.4L636.2 2587.6L640.2 2587.8L644.3 2588.1L648.3 2588.3L652.4 2588.5L656.4 2588.8L660.5 2589L664.5 2589.3L668.6 2589.5L672.7 2589.8L676.7 2590.1L680.8 2590.4L684.9 2590.7L689 2591L693.1 2591.3L697.2 2591.7L701.3 2592.1L705.4 2592.4L709.5 2592.8L713.5 2593.3L717.6 2593.7L721.7 2594.2L725.7 2594.7L729.8 2595.3L733.8 2595.8L737.9 2596.4L741.9 2597L745.9 2597.7L749.9 2598.4L753.9 2599.1L757.8 2599.9L761.8 2600.7L765.7 2601.6L769.6 2602.5L773.5 2603.4L777.3 2604.4L781.2 2605.5L785 2606.6L788.8 2607.7L792.6 2608.9L796.3 2610.1L800 2611.4L803.7 2612.8L807.3 2614.2L810.9 2615.7L814.5 2617.2L818.1 2618.8L821.6 2620.5L825.1 2622.2L828.5 2624L831.9 2625.9L835.3 2627.8L838.6 2629.8L841.9 2631.9L845.1 2634L848.3 2636.3L851.4 2638.6L854.5 2641L857.6 2643.4L860.6 2646L863.6 2648.6L866.4 2651.3L869.3 2654.1L872.1 2656.9L874.8 2659.8L877.4 2662.7L880 2665.8L882.6 2668.9L885 2672L887.4 2675.2L889.7 2678.5L891.9 2681.8L894 2685.2L896.1 2688.6L898.1 2692.1L900 2695.6L901.9 2699.2L903.6 2702.8L905.3 2706.4L906.9 2710.1L908.5 2713.8L909.9 2717.5L911.3 2721.3L912.6 2725.1L913.9 2728.9L915.1 2732.7L916.2 2736.6L917.2 2740.4L918.2 2744.3L919.2 2748.2L920 2752.1L920.9 2756.1L921.6 2760L922.4 2764L923 2767.9L923.7 2771.9L924.3 2775.9L924.8 2779.9L925.4 2783.9L925.9 2788L926.3 2792L926.8 2796L927.2 2800L927.6 2804.1L928 2808.1L928.3 2812.1L928.7 2816.2L929 2820.2L929.3 2824.2L929.6 2828.2L929.9 2832.3L930.2 2836.3L930.5 2840.3L930.8 2844.3L931.1 2848.3L931.3 2852.3L931.6 2856.3L931.8 2860.4L932 2864.4L932.2 2868.4L932.5 2872.4L932.7 2876.4L932.9 2880.4L933.1 2884.4L933.2 2888.4L933.4 2892.4L933.6 2896.4L933.8 2900.3L933.9 2904.3L934.1 2908.3L934.2 2912.3L934.3 2916.3L934.5 2920.3L934.6 2924.3L934.7 2928.3L934.9 2932.3L935 2936.2L935.1 2940.2L935.2 2944.2L935.3 2948.2L935.4 2952.2L935.5 2956.2L935.6 2960.1L935.7 2964.1L935.7 2968.1L935.8 2972.1L935.9 2976.1L936 2980.1L936.1 2984L936.1 2988L936.2 2992L936.3 2996L936.3 3000L936.4 3004L936.5 3008L936.5 3011.9L936.6 3015.9L936.7 3019.9L936.7 3023.9L936.8 3027.9L936.9 3031.9L936.9 3035.9L937 3039.9L937.1 3043.9L937.1 3047.9L937.2 3051.9L937.2 3055.9L937.3 3059.9L937.4 3063.9L937.4 3067.9L937.5 3071.9L937.5 3075.9L937.6 3079.9L937.7 3083.9L937.7 3087.9L937.8 3091.9L937.9 3095.9L937.9 3099.9L938 3103.9L938 3107.9L938.1 3111.9L938.2 3115.9L938.2 3119.9L938.3 3123.9L938.4 3127.9L938.4 3131.9L938.5 3135.9L938.5 3139.9L938.6 3143.9L938.7 3147.9L938.7 3151.9L938.8 3155.9L938.9 3159.9L938.9 3163.9L939 3168L939.1 3172L939.1 3176L939.2 3180L939.3 3184L939.3 3188L939.4 3192L939.5 3196L939.5 3200L939.6 3204L939.7 3208L939.7 3212L939.8 3216L939.9 3220L940 3224L940 3228.1L940.1 3232.1L940.2 3236.1L940.3 3240.1L940.3 3244.1L940.4 3248.1L940.5 3252.1L940.6 3256.1L940.7 3260.1L940.7 3264.1L940.8 3268.1L940.9 3272.1L941 3276.1L941.1 3280.1L941.2 3284.1L941.3 3288.1L941.3 3292.1L941.4 3296.1L941.5 3300.1L941.6 3304.1L941.7 3308.1L941.8 3312.1L941.9 3316.1L942 3320.1L942.1 3324.1L942.2 3328.1L942.3 3332.1L942.4 3336.1L942.5 3340.1L942.6 3344.1L942.7 3348.1L942.8 3352L942.9 3356L943 3360L943.1 3364L943.3 3368L943.4 3372L943.5 3376L943.6 3380L943.7 3383.9L943.8 3387.9L944 3391.9L944.1 3395.9L944.2 3399.9L944.3 3403.8L944.5 3407.8" fill="none" stroke="#005248" stroke-width="5.4" stroke-dasharray="7.5 12" stroke-dashoffset="-10"/></g>
<g filter="url(#bt)">
<path d="M92.9 2525.5L92.9 2564" stroke="#d8003a" stroke-width="4.2" fill="none"/><path d="M92.9 2513.5L100.4 2528.5L85.4 2528.5ZM92.9 2576L85.4 2561L100.4 2561Z" fill="#ff0000"/>
<path d="M875.5 2641.5L933.4 2585.7" stroke="#d8003a" stroke-width="4.2" fill="none"/><path d="M866.9 2649.8L872.5 2634L882.9 2644.8ZM942 2577.4L936.4 2593.2L926 2582.4Z" fill="#ff0000"/>
</g>
<g filter="url(#bt)">
<path d="M70.5 2501.4H1015.5M73 2510.3V3408.8H1013M1022 2509.4V3411.3M73 2501.4V2482.9M1022 2511.9H1040M190.5 2501.4V2491.9M1022 2624H1031.5M308 2501.4V2482.9M1022 2736.1H1040M425.5 2501.4V2491.9M1022 2848.2H1031.5M543 2501.4V2482.9M1022 2960.4H1040M660.5 2501.4V2491.9M1022 3072.5H1031.5M778 2501.4V2482.9M1022 3184.6H1040M895.5 2501.4V2491.9M1022 3296.7H1031.5M1013 2501.4V2482.9M1022 3408.8H1040" fill="none" stroke="#4a4a4a" stroke-width="5.0"/>
<g font-family="'Liberation Serif', 'Times New Roman', Times, serif" font-size="47" fill="#242424" stroke="#242424" stroke-width="1.0">
<text transform="translate(543.5 2420.3) scale(1 1.07)" text-anchor="middle">X-Width, m</text>
<text transform="translate(73 2463.3) scale(1 1.07)" text-anchor="middle">0.00</text>
<text transform="translate(1051.5 2528.4) scale(1 1.07)">0.08</text>
<text transform="translate(308 2463.3) scale(1 1.07)" text-anchor="middle">0.02</text>
<text transform="translate(1051.5 2752.6) scale(1 1.07)">0.06</text>
<text transform="translate(543 2463.3) scale(1 1.07)" text-anchor="middle">0.04</text>
<text transform="translate(1051.5 2976.9) scale(1 1.07)">0.04</text>
<text transform="translate(778 2463.3) scale(1 1.07)" text-anchor="middle">0.06</text>
<text transform="translate(1051.5 3201.1) scale(1 1.07)">0.02</text>
<text transform="translate(1013 2463.3) scale(1 1.07)" text-anchor="middle">0.08</text>
<text transform="translate(1051.5 3425.3) scale(1 1.07)">0.00</text>
<text transform="translate(1176.5 2959.7) rotate(-90) scale(1 1.07)" text-anchor="middle">Y-Width, m</text>
<text transform="translate(98.5 3388) scale(1 1.07)" font-size="50">(e) <tspan font-style="italic">R</tspan>=20 mm</text>
</g>
<g font-family="'Liberation Serif', 'Times New Roman', Times, serif" font-size="49" font-weight="bold" fill="#ff0000">
<text transform="translate(103.9 2555.2) scale(1 1.09)" word-spacing="3">5.78 mm</text>
<text transform="translate(374.9 2565.2) skewX(-9) scale(1 1.09)" font-style="italic">f</text>
<text transform="translate(390.9 2573.7) scale(1 1.09)" font-style="italic" font-size="31.4">l</text>
<text transform="translate(399.4 2565.2) scale(1 1.09)">=0.3</text>
<text transform="translate(725 2583.4) scale(1 1.09)">9.39 mm</text>
</g>
</g>
</g>
<g id="panel-f">
<clipPath id="cf"><path d="M1276.4 2511.3H1921.9A293.4 280.2 0 0 1 2215.3 2791.5V3408H1276.4Z"/></clipPath>
<g filter="url(#bl)">
<path d="M1276.4 2511.3H1921.9A293.4 280.2 0 0 1 2215.3 2791.5V3408H1276.4Z" fill="#0000ff"/>
<g clip-path="url(#cf)">
<path d="M1268.4 2568.3L1268.4 2567.9L1553.4 2569.5L1627.4 2570.2L1688.4 2571.2L1738.4 2572.6L1783.4 2574.6L1824.4 2577.3L1863.4 2580.8L1899.4 2585.3L1915.4 2587.8L1930.4 2590.6L1945.4 2593.9L1959.4 2597.4L1974.4 2601.8L1987.4 2606L1999.4 2610.4L2012.4 2615.7L2024.4 2621.2L2034.4 2626.5L2044.2 2632.3L2052.4 2637.9L2060.6 2644.3L2068.4 2651.2L2075.4 2658.4L2082.4 2666.6L2089.4 2675.9L2095.4 2685L2101.5 2695.3L2107.4 2706.5L2112.9 2718.3L2117.8 2730.3L2122.1 2742.3L2125.9 2754.3L2129.4 2767.3L2132.4 2780.3L2135.2 2794.3L2137.7 2809.3L2142.3 2844.3L2145.5 2876.3L2148 2911.3L2149.8 2948.3L2151.1 2991.3L2152.4 3070.3L2153.6 3176.3L2155 3416.3L1268.4 3416.3L1268.4 2568.3Z" fill="#0016ff"/>
<path d="M1268.4 2570.3L1268.4 2569.4L1565.4 2571.1L1682.4 2572.6L1734.4 2574L1779.4 2575.9L1821.4 2578.6L1861.4 2582.1L1897.4 2586.5L1913.4 2589L1929.4 2592L1944.4 2595.2L1958.4 2598.7L1972.4 2602.7L1985.4 2606.9L1997.4 2611.3L2009.8 2616.3L2021.4 2621.6L2032.4 2627.3L2042.4 2633.2L2051.3 2639.3L2059.4 2645.6L2066.9 2652.3L2074.4 2660L2081.4 2668.2L2088.3 2677.3L2094.2 2686.3L2100.7 2697.3L2106.5 2708.3L2112.1 2720.3L2116.6 2731.3L2120.9 2743.3L2124.6 2755.3L2128.1 2768.3L2131.1 2781.3L2136.2 2809.3L2140.9 2845.3L2144.1 2877.3L2146.6 2912.3L2148.4 2949.3L2149.6 2992.3L2150.9 3072.3L2152.1 3177.3L2153.5 3416.3L1268.4 3416.3L1268.4 2570.3Z" fill="#0042ff"/>
<path d="M1268.4 2571.3L1268.4 2570.9L1552.4 2572.5L1626.4 2573.2L1688.4 2574.2L1738.4 2575.6L1783.4 2577.6L1824.4 2580.3L1863.4 2583.9L1899.4 2588.3L1915.4 2590.9L1930.4 2593.7L1944.4 2596.8L1959.4 2600.6L1973.4 2604.6L1986.4 2608.9L1999.4 2613.7L2011.4 2618.8L2022.4 2624L2032.4 2629.3L2042.3 2635.3L2051 2641.3L2058.6 2647.3L2066.3 2654.3L2073.4 2661.6L2080.4 2669.8L2087.4 2679.1L2093.5 2688.3L2099.4 2698.3L2105.4 2709.6L2110.8 2721.3L2115.7 2733.3L2119.9 2745.3L2123.6 2757.3L2126.8 2769.3L2129.8 2782.3L2132.5 2796.3L2135 2811.3L2139.4 2845.3L2142.7 2878.3L2145.1 2912.3L2146.9 2949.3L2148.1 2992.3L2149.4 3072.3L2150.6 3177.3L2152 3416.3L1268.4 3416.3L1268.4 2571.3Z" fill="#0078ff"/>
<path d="M1268.4 2573.3L1268.4 2572.4L1353.4 2573.1L1523.4 2573.8L1611.4 2574.5L1683.4 2575.6L1735.4 2577L1780.4 2579L1822.4 2581.7L1862.4 2585.3L1898.4 2589.7L1914.4 2592.2L1929.4 2595L1944.3 2598.3L1957.4 2601.6L1971.4 2605.6L1984.4 2609.8L1997.4 2614.6L2008.6 2619.3L2019.4 2624.3L2030.7 2630.3L2040.4 2636.2L2049.3 2642.3L2056.9 2648.3L2064.7 2655.3L2071.6 2662.3L2078.5 2670.3L2085.4 2679.3L2091.5 2688.3L2097.6 2698.3L2103.5 2709.3L2108.7 2720.3L2113.7 2732.3L2118 2744.3L2121.8 2756.3L2125 2768.3L2128 2781.3L2130.8 2795.3L2133.3 2810.3L2138 2846.3L2141.2 2878.3L2143.6 2912.3L2145.4 2949.3L2146.6 2992.3L2147.9 3072.3L2149.1 3177.3L2150.5 3416.3L1268.4 3416.3L1268.4 2573.3Z" fill="#00aeff"/>
<path d="M1268.4 2574.3L1268.4 2573.9L1551.4 2575.5L1625.4 2576.2L1687.4 2577.2L1737.4 2578.6L1782.4 2580.6L1823.4 2583.3L1862.4 2586.8L1897.4 2591.1L1913.4 2593.6L1928.4 2596.4L1943.4 2599.6L1957.4 2603.1L1971.4 2607.2L1983.4 2611.1L1996.4 2615.9L2006.9 2620.3L2018.4 2625.7L2029 2631.3L2038.4 2637L2047.4 2643.2L2055.4 2649.5L2063.4 2656.6L2070.4 2663.7L2077.4 2671.8L2084.4 2680.9L2090.8 2690.3L2096.8 2700.3L2102.4 2710.7L2107.4 2721.3L2112.4 2733.3L2116.4 2744.3L2120.2 2756.3L2123.4 2768.3L2126.7 2782.3L2129.3 2795.3L2132 2811.3L2136.5 2846.3L2139.7 2878.3L2142.1 2912.3L2143.9 2949.3L2145.1 2992.3L2146.4 3071.3L2147.6 3177.3L2149 3416.3L1268.4 3416.3L1268.4 2574.3Z" fill="#00daff"/>
<path d="M1268.4 2576.3L1268.4 2575.4L1353.4 2576.1L1523.4 2576.8L1611.4 2577.5L1683.4 2578.6L1735.4 2580L1780.4 2582L1822.4 2584.7L1861.4 2588.2L1897.4 2592.6L1927.4 2597.7L1941.4 2600.7L1955.4 2604.2L1969.4 2608.2L1982.1 2612.3L1994.4 2616.8L2005.4 2621.4L2017.9 2627.3L2028.4 2633L2038.4 2639.1L2046.4 2644.7L2054.7 2651.3L2062.4 2658.2L2070.2 2666.3L2077.4 2674.7L2084 2683.3L2090.4 2692.9L2096.6 2703.3L2101.9 2713.3L2107 2724.3L2111.4 2734.9L2115.5 2746.3L2119.2 2758.3L2122.4 2770.3L2125.4 2783.3L2128.1 2797.3L2130.4 2811.3L2135 2846.3L2138.1 2878.3L2140.6 2913.3L2142.4 2950.3L2143.6 2993.3L2144.9 3072.3L2146.1 3177.3L2147.5 3416.3L1268.4 3416.3L1268.4 2576.3Z" fill="#00fff9"/>
<path d="M1268.4 2577.3L1268.4 2576.9L1551.4 2578.5L1626.4 2579.2L1688.4 2580.2L1738.4 2581.6L1783.4 2583.6L1824.4 2586.4L1863.4 2589.9L1898.4 2594.2L1913.4 2596.6L1928.4 2599.4L1942.4 2602.5L1956.4 2606L1971.1 2610.3L1983.1 2614.3L1996.4 2619.3L2007.4 2624.1L2018.1 2629.3L2028.4 2635L2037.4 2640.6L2046.4 2647L2054.2 2653.3L2061.4 2659.9L2069.4 2668.1L2076.4 2676.3L2083.2 2685.3L2088.7 2693.3L2094.7 2703.3L2099.6 2712.3L2104.4 2722.3L2109.5 2734.3L2113.5 2745.3L2117.4 2757.5L2120.8 2770.3L2123.8 2783.3L2126.8 2798.3L2129.1 2812.3L2133.5 2846.3L2136.7 2879.3L2139.1 2913.3L2140.9 2950.3L2142.1 2993.3L2143.4 3072.3L2144.6 3177.3L2146 3416.3L1268.4 3416.3L1268.4 2577.3Z" fill="#00ffcd"/>
<path d="M1268.4 2579.3L1268.4 2578.4L1564.4 2580.1L1683.4 2581.6L1734.4 2583L1779.4 2584.9L1821.4 2587.6L1860.4 2591.1L1896.4 2595.5L1911.4 2597.8L1927.4 2600.8L1943.4 2604.3L1956.4 2607.6L1969.2 2611.3L1981.3 2615.3L1992.1 2619.3L2003.4 2624.1L2014.4 2629.3L2025.4 2635.3L2036.4 2642.1L2044.4 2647.8L2052.5 2654.3L2060.2 2661.3L2067 2668.3L2074.4 2676.7L2081.4 2685.8L2087.9 2695.3L2093.4 2704.3L2099.3 2715.3L2104.5 2726.3L2108.4 2735.7L2112.6 2747.3L2116.4 2759.5L2119.3 2770.3L2122.4 2783.7L2127.4 2811.3L2132.2 2848.3L2135.3 2880.3L2137.6 2913.3L2139.4 2950.3L2140.6 2991.3L2141.8 3068.3L2143 3174.3L2144.5 3416.3L1268.4 3416.3L1268.4 2579.3Z" fill="#00ffa2"/>
<path d="M1268.4 2580.3L1268.4 2580L1373.4 2580.8L1516.4 2581.2L1517.4 2581.5L1632.4 2582.2L1633.4 2582.5L1692.4 2583.3L1728.4 2584.2L1729.4 2584.5L1755.4 2585.2L1756.4 2585.6L1776.4 2586.2L1777.4 2586.5L1794.4 2587.2L1795.4 2587.5L1823.4 2589.2L1857.4 2592.3L1891.4 2596.3L1911.1 2599.3L1927.4 2602.2L1949.4 2607.3L1960.4 2610.2L1964.4 2611.7L1976.4 2615.2L1992.4 2621.1L2004.4 2626.2L2018.4 2633.2L2033.4 2642.3L2036.4 2644.6L2040.6 2647.3L2049.4 2654.2L2059.4 2663.1L2065.4 2669.3L2072.6 2677.3L2084.6 2693.3L2088.4 2699.3L2095.5 2711.3L2101.5 2723.3L2106.6 2735.3L2110.4 2745.6L2114.5 2758.3L2115.1 2761.3L2116.5 2765.3L2119.5 2777.3L2121 2785.3L2121.5 2786.3L2124 2801.3L2124.5 2802.3L2125 2807.3L2125.5 2808.3L2130.4 2845.7L2133.5 2876.3L2136.5 2918.3L2138.5 2965.3L2139.1 3006.3L2139.5 3007.3L2141.4 3160.3L2142.1 3287.3L2142.5 3288.3L2142.9 3416.3L1268.4 3416.3L1268.4 2580.3Z" fill="#00ff76"/>
<path d="M1268.4 2582.3L1566.4 2584L1689.4 2585.6L1738.4 2587L1782.4 2589L1823.4 2591.8L1861.4 2595.2L1896.4 2599.5L1912.4 2602.1L1927.4 2604.9L1940.4 2607.8L1954.4 2611.3L1968 2615.3L1979.9 2619.3L1992.9 2624.3L2002 2628.3L2014.2 2634.3L2023.4 2639.5L2032.6 2645.3L2040.4 2650.8L2048.4 2657.2L2056.4 2664.4L2064.4 2672.5L2071.4 2680.5L2078.2 2689.3L2084.4 2698.2L2090.4 2707.9L2096 2718.3L2100.8 2728.3L2105 2738.3L2108.6 2748.3L2112.6 2761.3L2115.5 2772.3L2118.5 2785.3L2123.5 2813.3L2128.3 2849.3L2131.5 2882.3L2133.9 2916.3L2135.7 2953.3L2136.9 2997.3L2138.2 3076.3L2139.4 3177.3L2140.9 3416.3L1268.4 3416.3L1268.4 2582.3Z" fill="#00ff4a"/>
<path d="M1268.4 2585.3L1268.4 2584.6L1533.4 2586.1L1614.4 2586.8L1682.4 2587.9L1733.4 2589.2L1778.4 2591.2L1820.4 2594L1859.4 2597.5L1894.4 2601.8L1910.4 2604.3L1924.4 2606.9L1938.4 2609.9L1951.7 2613.3L1963.4 2616.7L1976.4 2620.9L1988.4 2625.5L1999.4 2630.2L2009.4 2635L2019.4 2640.5L2029.4 2646.7L2038.4 2653L2046.4 2659.4L2054.4 2666.6L2062 2674.3L2069.4 2682.7L2076.1 2691.3L2082.4 2700.3L2088.6 2710.3L2094 2720.3L2098.8 2730.3L2102.9 2740.3L2106.8 2751.3L2110.2 2762.3L2113.3 2774.3L2116 2786.3L2118.7 2800.3L2121.3 2816.3L2126 2852.3L2129.2 2884.3L2131.7 2919.3L2133.4 2956.3L2134.7 2999.3L2136 3075.3L2137.1 3172.3L2138.8 3416.3L1268.4 3416.3L1268.4 2585.3Z" fill="#00ff1f"/>
<path d="M1268.4 2587.3L1268.4 2587L1548.4 2588.5L1622.4 2589.3L1684.4 2590.3L1734.4 2591.7L1779.4 2593.7L1820.4 2596.4L1859.4 2600L1893.4 2604.1L1908.4 2606.5L1923.4 2609.3L1937.4 2612.4L1950.4 2615.7L1962.9 2619.3L1975.4 2623.5L1986.4 2627.6L1997.4 2632.4L2007.6 2637.3L2018.4 2643.3L2028 2649.3L2036.4 2655.2L2044.4 2661.6L2052.4 2668.8L2059.9 2676.3L2067.4 2684.8L2074.1 2693.3L2080.4 2702.3L2086.4 2712L2092 2722.3L2096.7 2732.3L2100.9 2742.3L2104.4 2752.3L2107.7 2763.3L2110.8 2775.3L2113.7 2788.3L2119.1 2819.3L2123.8 2855.3L2126.9 2887.3L2129.4 2922.3L2131.2 2959.3L2132.5 3002.3L2133.8 3076.3L2134.9 3170.3L2136.7 3416.3L1268.4 3416.3L1268.4 2587.3Z" fill="#11ff00"/>
<path d="M1268.4 2590.3L1268.4 2589.4L1511.4 2590.7L1602.4 2591.4L1677.4 2592.5L1729.4 2593.9L1775.4 2595.9L1817.4 2598.7L1857.4 2602.2L1892.4 2606.5L1908.4 2609.1L1922.4 2611.7L1936.4 2614.8L1949.4 2618.1L1961.4 2621.6L1973.4 2625.6L1985.4 2630.2L1996.4 2635L2006.4 2639.9L2016.4 2645.5L2025.7 2651.3L2034.4 2657.5L2042.4 2663.8L2050.7 2671.3L2058.4 2679.1L2065.4 2687L2072.4 2695.9L2078.4 2704.5L2084.4 2714.1L2089.5 2723.3L2094.4 2733.6L2098.8 2744.3L2102.3 2754.3L2105.6 2765.3L2108.4 2776.3L2111.2 2789.3L2116.9 2822.3L2121.6 2858.3L2124.7 2890.3L2127.2 2924.3L2129 2961.3L2130.3 3005.3L2131.6 3077.3L2132.7 3167.3L2134.6 3416.3L1268.4 3416.3L1268.4 2590.3Z" fill="#49ff00"/>
<path d="M1268.4 2592.3L1268.4 2591.7L1530.4 2593.1L1611.4 2593.9L1679.4 2594.9L1730.4 2596.4L1775.4 2598.4L1817.4 2601.1L1856.4 2604.6L1890.4 2608.8L1905.4 2611.1L1920.4 2613.9L1934.4 2617L1947.4 2620.3L1959.4 2623.8L1971.4 2627.8L1983.4 2632.3L1994.4 2637.1L2004.8 2642.3L2014.4 2647.6L2023.4 2653.3L2032.4 2659.7L2040.7 2666.3L2048.5 2673.3L2056.4 2681.2L2063.4 2689.1L2070.4 2698L2076.4 2706.5L2082.5 2716.3L2088 2726.3L2092.4 2735.6L2096.8 2746.3L2100.2 2756.3L2103.4 2767.3L2106.1 2778.3L2108.9 2791.3L2114.5 2824.3L2119.4 2861.3L2122.5 2893.3L2124.9 2927.3L2126.8 2965.3L2128.1 3008.3L2129.4 3079.3L2130.5 3166.3L2132.4 3416.3L1268.4 3416.3L1268.4 2592.3Z" fill="#81ff00"/>
<path d="M1268.4 2594.3L1546.4 2595.6L1620.4 2596.3L1682.4 2597.4L1733.4 2598.9L1777.4 2600.9L1819.4 2603.7L1858.4 2607.3L1892.4 2611.6L1907.4 2614L1921.4 2616.7L1935.4 2619.9L1947.4 2623L1959.4 2626.5L1971.4 2630.6L1982.4 2634.9L1993.4 2639.8L2003.4 2644.8L2013.2 2650.3L2022.4 2656.2L2031 2662.3L2039.4 2669.1L2047.3 2676.3L2055.4 2684.5L2062.2 2692.3L2069.3 2701.3L2075.4 2710.1L2081.1 2719.3L2085.9 2728.3L2090.4 2737.7L2094.7 2748.3L2098.1 2758.3L2101 2768.3L2103.9 2780.3L2106.4 2792.3L2112.4 2827.9L2117.3 2865.3L2120.4 2897.3L2122.8 2931.3L2124.6 2969.3L2125.9 3012.3L2127.2 3081.3L2128.3 3165.3L2130.3 3416.3L1268.4 3416.3L1268.4 2594.3Z" fill="#b9ff00"/>
<path d="M1268.4 2597.3L1268.4 2596.5L1515.4 2597.7L1601.4 2598.5L1675.4 2599.6L1728.4 2601.1L1772.4 2603.1L1814.4 2605.8L1854.4 2609.4L1888.4 2613.5L1904.4 2616.1L1918.4 2618.7L1930.4 2621.3L1943.4 2624.6L1956.4 2628.4L1967.4 2632.1L1978.6 2636.3L1988.4 2640.5L1999.4 2645.9L2009.4 2651.4L2019.4 2657.7L2027.4 2663.3L2036.4 2670.5L2044.4 2677.6L2052.1 2685.3L2059.3 2693.3L2066.4 2702.2L2072.2 2710.3L2077.9 2719.3L2083.4 2729.3L2088.2 2739.3L2092.3 2749.3L2095.3 2758.3L2098.5 2769.3L2100.9 2779.3L2103.8 2793.3L2110 2829.3L2114.9 2866.3L2118.1 2899.3L2120.5 2933.3L2122.4 2971.3L2123.7 3014.3L2125 3082.3L2126.1 3163.3L2128.2 3416.3L1268.4 3416.3L1268.4 2597.3Z" fill="#f0ff00"/>
<path d="M1268.4 2599.3L1268.4 2598.9L1337.4 2599.2L1338.4 2599.5L1548.4 2600.2L1636.4 2601.2L1637.4 2601.5L1688.4 2602.2L1748.4 2604.3L1785.4 2606.2L1786.4 2606.5L1801.4 2607.2L1802.4 2607.5L1814.4 2608.2L1858.4 2612.2L1859.4 2612.5L1889.4 2616.2L1890.4 2616.5L1895.4 2617.1L1896.4 2617.5L1901.4 2618.1L1902.4 2618.5L1907.4 2619.1L1908.4 2619.6L1917.4 2621.1L1927.4 2623.3L1943.4 2627.2L1959.4 2632.1L1968.4 2635.2L1978.4 2639.1L1983.4 2641.6L1987.4 2643.1L2001.4 2650.1L2006.4 2653L2016.4 2659.1L2026.4 2666.2L2040.8 2678.3L2047 2684.3L2055.5 2693.3L2060.6 2699.3L2069.5 2711.3L2073.6 2717.3L2081.5 2731.3L2083.6 2735.3L2089.4 2749.1L2091.6 2755.3L2094 2763.3L2094.5 2764.3L2098.5 2780.3L2100.1 2789.3L2100.6 2790.3L2107.5 2830.3L2109.1 2843.3L2109.6 2844.3L2110.2 2850.3L2110.5 2851.3L2112.5 2867.3L2115.5 2897.3L2116.2 2907.3L2116.5 2908.3L2117.2 2921.3L2117.5 2922.3L2118.1 2937.3L2118.5 2938.3L2119.2 2955.3L2119.5 2956.3L2120.2 2979.3L2120.5 2980.3L2121.5 3012.3L2123.5 3122.3L2124.2 3208.3L2124.5 3209.3L2125.9 3416.3L1268.4 3416.3L1268.4 2599.3Z" fill="#ffee00"/>
<path d="M1268.4 2601.3L1268.4 2600.4L1503.4 2601.6L1597.4 2602.4L1671.4 2603.6L1722.4 2605L1770.4 2607.1L1812.4 2609.9L1854.4 2613.7L1888.4 2617.9L1902.4 2620.1L1917.4 2623L1941.4 2628.7L1955.4 2632.8L1966.4 2636.6L1976.4 2640.4L1987.4 2645.2L1996.4 2649.7L2007.4 2655.8L2017.4 2662.2L2025.8 2668.3L2033.4 2674.4L2042.2 2682.3L2050.1 2690.3L2057.4 2698.6L2065 2708.3L2070.4 2716.3L2075.3 2724.3L2081.2 2735.3L2085.3 2744.3L2088.7 2753.3L2092 2763.3L2094.7 2773.3L2099.8 2797.3L2106.1 2834.3L2111.1 2872.3L2114.2 2904.3L2116.6 2939.3L2118.4 2975.3L2119.7 3018.3L2120.9 3084.3L2122 3162.3L2124.2 3416.3L1268.4 3416.3L1268.4 2601.3Z" fill="#ffdc00"/>
<path d="M1268.4 2602.3L1268.4 2602L1531.4 2603.4L1610.4 2604.3L1675.4 2605.4L1726.4 2606.9L1771.4 2608.9L1814.4 2611.8L1853.4 2615.3L1887.4 2619.6L1915.4 2624.4L1928.4 2627.3L1941.4 2630.6L1952.4 2633.8L1964.4 2637.9L1974.4 2641.7L1985.4 2646.4L1996.4 2651.9L2006.4 2657.5L2015.5 2663.3L2024.4 2669.7L2032.4 2676.1L2040.5 2683.3L2047.5 2690.3L2054.6 2698.3L2061.1 2706.3L2067.4 2715.3L2073 2724.3L2077.9 2733.3L2082.2 2742.3L2086.2 2752.3L2089.5 2762.3L2092.3 2772.3L2094.9 2783.3L2097.8 2797.3L2104.3 2835.3L2109.1 2872.3L2112.3 2904.3L2114.7 2938.3L2116.5 2975.3L2117.8 3017.3L2120.1 3160.3L2122.3 3416.3L1268.4 3416.3L1268.4 2602.3Z" fill="#ffca00"/>
<path d="M1268.4 2604.3L1268.4 2603.6L1510.4 2604.9L1598.4 2605.8L1670.4 2607L1723.4 2608.5L1769.4 2610.6L1812.4 2613.4L1852.4 2617L1885.4 2621.1L1900.4 2623.5L1914.4 2626.1L1928.4 2629.2L1940.5 2632.3L1952.4 2635.8L1964.4 2639.9L1976.4 2644.6L1986.4 2649L1996.4 2654.1L2005.6 2659.3L2015 2665.3L2023.4 2671.3L2031.4 2677.8L2039.4 2685L2046.7 2692.3L2053.8 2700.3L2060.1 2708.3L2066.4 2717.3L2071.3 2725.3L2076.2 2734.3L2080.4 2743.4L2084.3 2753.3L2087.6 2763.3L2090.7 2774.3L2093.5 2786.3L2096.3 2800.3L2102.6 2837.3L2107.4 2874.3L2110.5 2906.3L2112.8 2939.3L2114.6 2976.3L2115.9 3018.3L2118.2 3160.3L2120.4 3416.3L1268.4 3416.3L1268.4 2604.3Z" fill="#ffb900"/>
<path d="M1268.4 2605.3L1538.4 2606.8L1613.4 2607.6L1675.4 2608.8L1726.4 2610.3L1771.4 2612.4L1813.4 2615.3L1853.4 2618.9L1886.4 2623.1L1901.4 2625.5L1915.4 2628.2L1929.2 2631.3L1941.4 2634.5L1953.4 2638.1L1964.4 2641.9L1975.4 2646.2L1985.4 2650.7L1995.4 2655.7L2005.2 2661.3L2014.4 2667.3L2022.4 2673L2030.4 2679.5L2038.4 2686.7L2045.4 2693.7L2052.4 2701.6L2059.2 2710.3L2064.7 2718.3L2069.6 2726.3L2074.4 2735.3L2078.5 2744.3L2082.5 2754.3L2085.7 2764.3L2088.8 2775.3L2091.8 2788.3L2094.7 2802.3L2100.9 2839.3L2105.7 2876.3L2108.7 2907.3L2111 2940.3L2112.8 2977.3L2114 3019.3L2116.2 3159.3L2118.5 3416.3L1268.4 3416.3L1268.4 2605.3Z" fill="#ffa700"/>
<path d="M1268.4 2607.3L1268.4 2606.8L1516.4 2608.2L1599.4 2609.1L1669.4 2610.3L1722.4 2611.9L1768.4 2614L1812.4 2617L1852.4 2620.6L1885.4 2624.8L1913.4 2629.7L1927.4 2632.8L1939.4 2635.9L1951.4 2639.4L1962.7 2643.3L1973.4 2647.5L1984.3 2652.3L1994.4 2657.4L2003.4 2662.5L2012.5 2668.3L2021.4 2674.7L2029.4 2681.2L2037.3 2688.3L2044.4 2695.5L2051.3 2703.3L2057.5 2711.3L2063 2719.3L2067.9 2727.3L2072.6 2736.3L2076.7 2745.3L2080.6 2755.3L2083.8 2765.3L2087.1 2777.3L2090.2 2790.3L2093.2 2805.3L2099.3 2841.3L2104 2878.3L2106.9 2909.3L2109.2 2942.3L2110.9 2978.3L2112.2 3020.3L2114.3 3159.3L2116.6 3416.3L1268.4 3416.3L1268.4 2607.3Z" fill="#ff9500"/>
<path d="M1268.4 2609.3L1268.4 2608.3L1492.4 2609.7L1585.4 2610.6L1663.4 2611.9L1718.4 2613.5L1765.4 2615.6L1809.4 2618.5L1850.4 2622.2L1883.4 2626.3L1898.4 2628.7L1912.4 2631.3L1925.4 2634.2L1938.4 2637.5L1950.4 2641.1L1961.4 2644.8L1972.4 2649.1L1983.4 2654L1993.4 2659.1L2002.4 2664.2L2011.4 2669.9L2019.4 2675.6L2027.7 2682.3L2035.5 2689.3L2042.5 2696.3L2049.4 2704.1L2055.1 2711.3L2060.7 2719.3L2065.6 2727.3L2070.4 2736.3L2074.5 2745.3L2078.4 2755.3L2082 2766.3L2085.2 2778.3L2088.3 2791.3L2091.3 2806.3L2097.3 2841.3L2102.1 2878.3L2105 2909.3L2107.3 2942.3L2109 2978.3L2110.2 3019.3L2112.4 3157.3L2114.7 3416.3L1268.4 3416.3L1268.4 2609.3Z" fill="#ff8400"/>
<path d="M1268.4 2610.3L1268.4 2609.9L1523.4 2611.6L1601.4 2612.5L1667.4 2613.7L1719.4 2615.2L1766.4 2617.4L1810.4 2620.4L1850.4 2624L1883.4 2628.1L1911.4 2633L1924.4 2635.8L1937.4 2639.2L1949.4 2642.7L1960.4 2646.5L1971.4 2650.8L1981.6 2655.3L1991.6 2660.3L2001.4 2665.8L2010.4 2671.6L2018.4 2677.3L2026.4 2683.7L2034.4 2690.9L2041.4 2697.9L2047.9 2705.3L2054.2 2713.3L2059.7 2721.3L2064.5 2729.3L2069.1 2738.3L2073.1 2747.3L2076.9 2757.3L2080.4 2768.3L2083.6 2780.3L2086.6 2793.3L2089.9 2809.3L2095.8 2844.3L2100.4 2880.3L2103.2 2910.3L2105.5 2943.3L2107.2 2979.3L2108.4 3020.3L2110.5 3156.3L2112.7 3416.3L1268.4 3416.3L1268.4 2610.3Z" fill="#ff7500"/>
<path d="M1268.4 2612.3L1268.4 2611.5L1501.4 2613L1588.4 2613.9L1662.4 2615.2L1716.4 2616.8L1763.4 2619L1808.4 2622L1849.4 2625.7L1882.4 2629.8L1910.4 2634.7L1923.4 2637.5L1936.4 2640.8L1948.4 2644.4L1959.4 2648.2L1970.4 2652.4L1981.4 2657.3L1991.3 2662.3L2000.4 2667.5L2009.4 2673.3L2017.8 2679.3L2025.4 2685.4L2033.4 2692.6L2040 2699.3L2046.4 2706.5L2052.5 2714.3L2058 2722.3L2062.7 2730.3L2067.3 2739.3L2071.3 2748.3L2075 2758.3L2078.5 2769.3L2082 2782.3L2085.2 2796.3L2088.4 2812.3L2094.1 2846.3L2098.6 2882.3L2101.4 2912.3L2103.6 2944.3L2105.3 2979.3L2106.5 3020.3L2108.5 3155.3L2110.8 3416.3L1268.4 3416.3L1268.4 2612.3Z" fill="#ff6600"/>
<path d="M1268.4 2613.3L1530.4 2614.9L1604.4 2615.8L1667.4 2617.1L1719.4 2618.7L1766.4 2620.9L1810.4 2623.9L1850.4 2627.6L1883.4 2631.8L1911.4 2636.7L1924.4 2639.6L1936.4 2642.8L1948.2 2646.3L1959.4 2650.2L1970.4 2654.5L1980.4 2659L1990.4 2664L1999.6 2669.3L2008.4 2674.9L2017.2 2681.3L2025.4 2688L2032.4 2694.3L2039.2 2701.3L2045.4 2708.3L2051.4 2716.1L2056.4 2723.5L2061 2731.3L2065.6 2740.3L2069.5 2749.3L2073.2 2759.3L2076.9 2771.3L2080.3 2784.3L2083.6 2798.3L2086.8 2814.3L2092.4 2848.3L2096.9 2884.3L2099.7 2914.3L2101.8 2946.3L2103.4 2981.3L2104.6 3021.3L2106.6 3154.3L2108.9 3416.3L1268.4 3416.3L1268.4 2613.3Z" fill="#ff5700"/>
<path d="M1268.4 2615.3L1268.4 2614.7L1509.4 2616.4L1591.4 2617.3L1661.4 2618.6L1715.4 2620.3L1762.4 2622.5L1806.4 2625.4L1847.4 2629.1L1880.4 2633.1L1908.4 2638L1921.4 2640.8L1933.4 2643.9L1945.1 2647.3L1956.4 2651.1L1968.4 2655.7L1978.4 2660.2L1988.4 2665.2L1997.4 2670.2L2006.4 2675.9L2015.3 2682.3L2023.4 2688.8L2030.6 2695.3L2037.4 2702.2L2043.7 2709.3L2049.4 2716.6L2054.6 2724.3L2059.3 2732.3L2063.3 2740.3L2067.3 2749.3L2071 2759.3L2074.7 2771.3L2078.2 2784.3L2081.5 2798.3L2085 2815.3L2090.6 2849.3L2095.1 2885.3L2097.9 2915.3L2100 2947.3L2101.6 2981.3L2102.7 3021.3L2104.7 3153.3L2107 3416.3L1268.4 3416.3L1268.4 2615.3Z" fill="#ff4700"/>
<path d="M1268.4 2616.3L1534.4 2618.2L1604.4 2619.1L1665.4 2620.4L1717.4 2622.1L1764.4 2624.3L1808.4 2627.3L1848.4 2631L1880.4 2635L1908.4 2639.8L1921.4 2642.7L1933.4 2645.8L1945.2 2649.3L1956.4 2653.1L1967.4 2657.4L1977.4 2661.8L1987.4 2666.8L1997.1 2672.3L2006.4 2678.3L2014.4 2684.1L2022.4 2690.5L2029.4 2696.8L2035.8 2703.3L2042 2710.3L2047.5 2717.3L2052.9 2725.3L2057.6 2733.3L2061.6 2741.3L2065.4 2750.3L2069.1 2760.3L2072.8 2772.3L2076.4 2785.5L2079.9 2800.3L2083.1 2816.3L2088.7 2849.3L2093.3 2886.3L2096 2916.3L2098.1 2947.3L2099.7 2981.3L2100.8 3021.3L2102.8 3152.3L2105.1 3416.3L1268.4 3416.3L1268.4 2616.3Z" fill="#ff3a00"/>
<path d="M1268.4 2618.3L1268.4 2617.9L1517.4 2619.7L1594.4 2620.6L1661.4 2622L1714.4 2623.7L1762.4 2626L1807.4 2629L1848.4 2632.8L1880.4 2636.8L1908.4 2641.7L1921.4 2644.6L1933.4 2647.7L1945.3 2651.3L1955.4 2654.8L1966.4 2659L1976.4 2663.5L1986.1 2668.3L1995.4 2673.6L2004.4 2679.3L2012.8 2685.3L2021.4 2692.2L2028.4 2698.6L2035.1 2705.3L2041.4 2712.6L2047.3 2720.3L2051.9 2727.3L2055.9 2734.3L2060.3 2743.3L2064 2752.3L2067.4 2761.7L2071 2773.3L2074.7 2787.3L2078.2 2802.3L2081.5 2818.3L2087 2851.3L2091.6 2888.3L2094.2 2917.3L2096.3 2948.3L2097.8 2982.3L2098.9 3021.3L2100.8 3150.3L2103.2 3416.3L1268.4 3416.3L1268.4 2618.3Z" fill="#ff3000"/>
<path d="M1268.4 2620.3L1268.4 2619.5L1488.4 2621.1L1579.4 2622.1L1656.4 2623.6L1712.4 2625.3L1759.4 2627.5L1804.4 2630.6L1846.4 2634.4L1878.2 2638.3L1905.4 2643L1919.4 2646L1931.4 2649.1L1942.4 2652.3L1954.4 2656.4L1964.5 2660.3L1975.4 2665.1L1984.4 2669.6L1994.4 2675.2L2003.4 2681L2012.2 2687.3L2020.4 2693.9L2027.4 2700.3L2033.4 2706.4L2039.5 2713.3L2045.4 2721L2050.2 2728.3L2054.1 2735.3L2058.4 2744.1L2062.2 2753.3L2065.4 2762.3L2069.7 2776.3L2073.3 2790.3L2076.6 2804.3L2079.9 2820.3L2085.3 2853.3L2089.8 2890.3L2092.4 2919.3L2094.5 2950.3L2096 2984.3L2097.1 3022.3L2098.9 3149.3L2101.3 3416.3L1268.4 3416.3L1268.4 2620.3Z" fill="#ff2600"/>
<path d="M1268.4 2621.3L1268.4 2621L1526.4 2623.1L1596.4 2624L1660.4 2625.3L1714.4 2627.1L1760.4 2629.3L1805.4 2632.4L1847.4 2636.3L1879.4 2640.3L1893.4 2642.6L1907.4 2645.3L1920.4 2648.2L1932.4 2651.3L1943.4 2654.6L1953.4 2658.1L1965.4 2662.8L1974.4 2666.8L1983.4 2671.3L1992.4 2676.3L2000.4 2681.3L2010.3 2688.3L2018.4 2694.8L2025.7 2701.3L2032.4 2708.1L2037.8 2714.3L2043.2 2721.3L2047.9 2728.3L2051.9 2735.3L2056.7 2745.3L2060 2753.3L2063.8 2764.3L2067.5 2776.3L2071.4 2791L2074.8 2805.3L2078.2 2822.3L2083.5 2854.3L2087.9 2890.3L2090.5 2919.3L2092.6 2950.3L2094.1 2984.3L2095.2 3022.3L2097 3147.3L2099.4 3416.3L1268.4 3416.3L1268.4 2621.3Z" fill="#ff1d00"/>
<path d="M1268.4 2624.3L1520.4 2626.2L1601.4 2627.3L1661.4 2628.7L1713.4 2630.4L1760.4 2632.7L1805.4 2635.8L1846.4 2639.6L1878.4 2643.6L1905.3 2648.3L1928.4 2653.8L1939.4 2657L1950.4 2660.7L1960 2664.3L1970.4 2668.8L1980.4 2673.7L1989.4 2678.6L1999.4 2684.9L2008.4 2691.3L2015.9 2697.3L2023.4 2704L2029.6 2710.3L2035.4 2716.9L2041 2724.3L2044.9 2730.3L2049.4 2738.3L2053.2 2746.3L2056.8 2755.3L2060 2764.3L2064 2777.3L2068 2792.3L2071.7 2808.3L2075 2824.3L2080.2 2856.3L2084.6 2892.3L2087.2 2921.3L2089.1 2951.3L2090.6 2984.3L2091.7 3021.3L2093.5 3147.3L2095.9 3416.3L1268.4 3416.3L1268.4 2624.3Z" fill="#fdfdfd"/>
</g></g>
<g filter="url(#bd)" clip-path="url(#cf)"><path d="M1276.4 2579.7L1280.4 2579.7L1284.4 2579.8L1288.4 2579.9L1292.4 2579.9L1296.4 2580L1300.4 2580.1L1304.4 2580.1L1308.4 2580.2L1312.4 2580.2L1316.5 2580.3L1320.5 2580.3L1324.5 2580.4L1328.5 2580.4L1332.5 2580.5L1336.5 2580.5L1340.5 2580.6L1344.5 2580.6L1348.5 2580.6L1352.5 2580.7L1356.5 2580.7L1360.5 2580.7L1364.5 2580.8L1368.6 2580.8L1372.6 2580.8L1376.6 2580.9L1380.6 2580.9L1384.6 2580.9L1388.6 2580.9L1392.6 2581L1396.6 2581L1400.6 2581L1404.6 2581L1408.6 2581L1412.6 2581.1L1416.6 2581.1L1420.6 2581.1L1424.6 2581.1L1428.6 2581.1L1432.6 2581.1L1436.6 2581.2L1440.6 2581.2L1444.6 2581.2L1448.7 2581.2L1452.7 2581.2L1456.7 2581.2L1460.7 2581.2L1464.7 2581.2L1468.7 2581.2L1472.7 2581.3L1476.7 2581.3L1480.7 2581.3L1484.7 2581.3L1488.7 2581.3L1492.7 2581.3L1496.7 2581.3L1500.7 2581.3L1504.7 2581.3L1508.7 2581.4L1512.7 2581.4L1516.7 2581.4L1520.7 2581.4L1524.7 2581.4L1528.7 2581.4L1532.7 2581.4L1536.7 2581.5L1540.7 2581.5L1544.7 2581.5L1548.8 2581.5L1552.8 2581.5L1556.8 2581.6L1560.8 2581.6L1564.8 2581.6L1568.8 2581.6L1572.8 2581.6L1576.8 2581.7L1580.8 2581.7L1584.8 2581.7L1588.8 2581.8L1592.8 2581.8L1596.8 2581.8L1600.8 2581.9L1604.8 2581.9L1608.8 2581.9L1612.8 2582L1616.8 2582L1620.9 2582.1L1624.9 2582.1L1628.9 2582.2L1632.9 2582.2L1636.9 2582.3L1640.9 2582.3L1644.9 2582.4L1648.9 2582.4L1652.9 2582.5L1656.9 2582.5L1660.9 2582.6L1665 2582.7L1669 2582.7L1673 2582.8L1677 2582.9L1681 2583L1685 2583L1689 2583.1L1693 2583.2L1697 2583.3L1701 2583.4L1705.1 2583.5L1709.1 2583.6L1713.1 2583.7L1717.1 2583.8L1721.1 2583.9L1725.1 2584.1L1729.1 2584.2L1733.1 2584.3L1737.1 2584.5L1741.1 2584.6L1745.1 2584.8L1749.1 2584.9L1753.2 2585.1L1757.2 2585.2L1761.2 2585.4L1765.2 2585.6L1769.2 2585.8L1773.2 2586L1777.2 2586.2L1781.1 2586.4L1785.1 2586.7L1789.1 2586.9L1793.1 2587.1L1797.1 2587.4L1801.1 2587.6L1805.1 2587.9L1809.1 2588.2L1813.1 2588.5L1817 2588.8L1821 2589.1L1825 2589.4L1829 2589.8L1832.9 2590.1L1836.9 2590.4L1840.9 2590.8L1844.9 2591.2L1848.8 2591.6L1852.8 2592L1856.7 2592.4L1860.7 2592.8L1864.7 2593.2L1868.6 2593.7L1872.6 2594.2L1876.5 2594.6L1880.4 2595.1L1884.4 2595.6L1888.3 2596.2L1892.3 2596.7L1896.2 2597.3L1900.1 2597.9L1904.1 2598.5L1908 2599.1L1912 2599.8L1915.9 2600.5L1919.8 2601.2L1923.8 2602L1927.7 2602.8L1931.6 2603.6L1935.6 2604.4L1939.5 2605.3L1943.4 2606.2L1947.4 2607.2L1951.3 2608.2L1955.3 2609.2L1959.2 2610.3L1963.1 2611.4L1967.1 2612.6L1971 2613.8L1975 2615L1978.9 2616.3L1982.8 2617.7L1986.7 2619.1L1990.6 2620.5L1994.4 2622L1998.3 2623.6L2002.1 2625.2L2005.9 2626.8L2009.6 2628.5L2013.3 2630.3L2017 2632.1L2020.6 2634L2024.1 2636L2027.6 2638L2031.1 2640L2034.5 2642.1L2037.8 2644.3L2041.1 2646.6L2044.3 2648.9L2047.5 2651.3L2050.5 2653.7L2053.5 2656.2L2056.4 2658.8L2059.2 2661.5L2062 2664.2L2064.7 2666.9L2067.3 2669.8L2069.8 2672.7L2072.3 2675.6L2074.7 2678.6L2077.1 2681.7L2079.3 2684.8L2081.5 2687.9L2083.7 2691.1L2085.8 2694.4L2087.8 2697.7L2089.8 2701.1L2091.7 2704.4L2093.5 2707.9L2095.3 2711.4L2097 2714.9L2098.7 2718.4L2100.3 2722L2101.9 2725.7L2103.4 2729.3L2104.9 2733L2106.3 2736.8L2107.7 2740.5L2109 2744.3L2110.3 2748.1L2111.6 2752L2112.8 2755.8L2113.9 2759.7L2115 2763.6L2116.1 2767.5L2117.1 2771.5L2118.1 2775.4L2119.1 2779.4L2120 2783.4L2120.9 2787.4L2121.8 2791.4L2122.6 2795.4L2123.4 2799.5L2124.1 2803.5L2124.9 2807.5L2125.6 2811.6L2126.2 2815.6L2126.9 2819.7L2127.5 2823.7L2128.1 2827.8L2128.7 2831.8L2129.3 2835.9L2129.8 2839.9L2130.3 2843.9L2130.8 2848L2131.3 2852L2131.8 2856L2132.2 2860L2132.6 2864L2133 2868L2133.4 2872L2133.8 2876.1L2134.2 2880.1L2134.5 2884.1L2134.8 2888L2135.1 2892L2135.4 2896L2135.7 2900L2136 2904L2136.2 2908L2136.4 2912L2136.7 2916L2136.9 2919.9L2137.1 2923.9L2137.3 2927.9L2137.5 2931.9L2137.6 2935.9L2137.8 2939.8L2137.9 2943.8L2138.1 2947.8L2138.2 2951.7L2138.3 2955.7L2138.4 2959.7L2138.6 2963.7L2138.7 2967.6L2138.8 2971.6L2138.8 2975.6L2138.9 2979.5L2139 2983.5L2139.1 2987.5L2139.2 2991.5L2139.2 2995.4L2139.3 2999.4L2139.3 3003.4L2139.4 3007.4L2139.5 3011.4L2139.5 3015.3L2139.6 3019.3L2139.6 3023.3L2139.7 3027.3L2139.7 3031.3L2139.8 3035.3L2139.8 3039.2L2139.9 3043.2L2139.9 3047.2L2140 3051.2L2140.1 3055.2L2140.1 3059.2L2140.2 3063.2L2140.2 3067.2L2140.3 3071.2L2140.3 3075.2L2140.4 3079.2L2140.4 3083.2L2140.5 3087.2L2140.5 3091.2L2140.6 3095.3L2140.6 3099.3L2140.6 3103.3L2140.7 3107.3L2140.7 3111.3L2140.8 3115.3L2140.8 3119.3L2140.9 3123.3L2140.9 3127.4L2141 3131.4L2141 3135.4L2141.1 3139.4L2141.1 3143.4L2141.1 3147.4L2141.2 3151.5L2141.2 3155.5L2141.3 3159.5L2141.3 3163.5L2141.4 3167.5L2141.4 3171.5L2141.4 3175.6L2141.5 3179.6L2141.5 3183.6L2141.6 3187.6L2141.6 3191.6L2141.6 3195.7L2141.7 3199.7L2141.7 3203.7L2141.7 3207.7L2141.8 3211.7L2141.8 3215.8L2141.8 3219.8L2141.9 3223.8L2141.9 3227.8L2142 3231.8L2142 3235.9L2142 3239.9L2142 3243.9L2142.1 3247.9L2142.1 3251.9L2142.1 3255.9L2142.2 3260L2142.2 3264L2142.2 3268L2142.3 3272L2142.3 3276L2142.3 3280L2142.3 3284L2142.4 3288L2142.4 3292L2142.4 3296L2142.4 3300.1L2142.5 3304.1L2142.5 3308.1L2142.5 3312.1L2142.5 3316.1L2142.5 3320.1L2142.6 3324.1L2142.6 3328.1L2142.6 3332.1L2142.6 3336L2142.6 3340L2142.7 3344L2142.7 3348L2142.7 3352L2142.7 3356L2142.7 3360L2142.7 3364L2142.7 3367.9L2142.8 3371.9L2142.8 3375.9L2142.8 3379.9L2142.8 3383.8L2142.8 3387.8L2142.8 3391.8L2142.8 3395.7L2142.8 3399.7L2142.8 3403.7L2142.8 3407.6" fill="none" stroke="#005248" stroke-width="5.4" stroke-dasharray="7.5 12" stroke-dashoffset="-10"/></g>
<g filter="url(#bt)">
<path d="M1295 2525.5L1295 2565" stroke="#d8003a" stroke-width="4.2" fill="none"/><path d="M1295 2513.5L1302.5 2528.5L1287.5 2528.5ZM1295 2577L1287.5 2562L1302.5 2562Z" fill="#ff0000"/>
<path d="M2065.3 2652.1L2118.2 2601.6" stroke="#d8003a" stroke-width="4.2" fill="none"/><path d="M2056.6 2660.4L2062.3 2644.6L2072.6 2655.5ZM2126.9 2593.3L2121.2 2609.1L2110.9 2598.2Z" fill="#ff0000"/>
</g>
<g filter="url(#bt)">
<path d="M1273.9 2501.4H2218.8M1276.4 2510.3V3408.8H2216.3M2225.3 2509.4V3411.3M1276.4 2501.4V2482.9M2225.3 2511.9H2243.3M1393.9 2501.4V2491.9M2225.3 2624H2234.8M1511.4 2501.4V2482.9M2225.3 2736.1H2243.3M1628.9 2501.4V2491.9M2225.3 2848.2H2234.8M1746.4 2501.4V2482.9M2225.3 2960.4H2243.3M1863.8 2501.4V2491.9M2225.3 3072.5H2234.8M1981.3 2501.4V2482.9M2225.3 3184.6H2243.3M2098.8 2501.4V2491.9M2225.3 3296.7H2234.8M2216.3 2501.4V2482.9M2225.3 3408.8H2243.3" fill="none" stroke="#4a4a4a" stroke-width="5.0"/>
<g font-family="'Liberation Serif', 'Times New Roman', Times, serif" font-size="47" fill="#242424" stroke="#242424" stroke-width="1.0">
<text transform="translate(1746.9 2420.3) scale(1 1.07)" text-anchor="middle">X-Width, m</text>
<text transform="translate(1276.4 2463.3) scale(1 1.07)" text-anchor="middle">0.00</text>
<text transform="translate(2254.8 2528.4) scale(1 1.07)">0.08</text>
<text transform="translate(1511.4 2463.3) scale(1 1.07)" text-anchor="middle">0.02</text>
<text transform="translate(2254.8 2752.6) scale(1 1.07)">0.06</text>
<text transform="translate(1746.4 2463.3) scale(1 1.07)" text-anchor="middle">0.04</text>
<text transform="translate(2254.8 2976.9) scale(1 1.07)">0.04</text>
<text transform="translate(1981.3 2463.3) scale(1 1.07)" text-anchor="middle">0.06</text>
<text transform="translate(2254.8 3201.1) scale(1 1.07)">0.02</text>
<text transform="translate(2216.3 2463.3) scale(1 1.07)" text-anchor="middle">0.08</text>
<text transform="translate(2254.8 3425.3) scale(1 1.07)">0.00</text>
<text transform="translate(2379.8 2959.7) rotate(-90) scale(1 1.07)" text-anchor="middle">Y-Width, m</text>
<text transform="translate(1301.9 3388) scale(1 1.07)" font-size="50">(f) <tspan font-style="italic">R</tspan>=25 mm</text>
</g>
<g font-family="'Liberation Serif', 'Times New Roman', Times, serif" font-size="49" font-weight="bold" fill="#ff0000">
<text transform="translate(1307 2558.3) scale(1 1.09)" word-spacing="3">6.05 mm</text>
<text transform="translate(1576.5 2565.8) skewX(-9) scale(1 1.09)" font-style="italic">f</text>
<text transform="translate(1592.5 2574.3) scale(1 1.09)" font-style="italic" font-size="31.4">l</text>
<text transform="translate(1601 2565.8) scale(1 1.09)">=0.3</text>
<text transform="translate(1883.2 2587.5) scale(1 1.07)" font-family="'Liberation Sans', Arial, Helvetica, sans-serif" font-size="45.5">8.72 mm</text>
</g>
</g>
</g>
</svg></body></html>
